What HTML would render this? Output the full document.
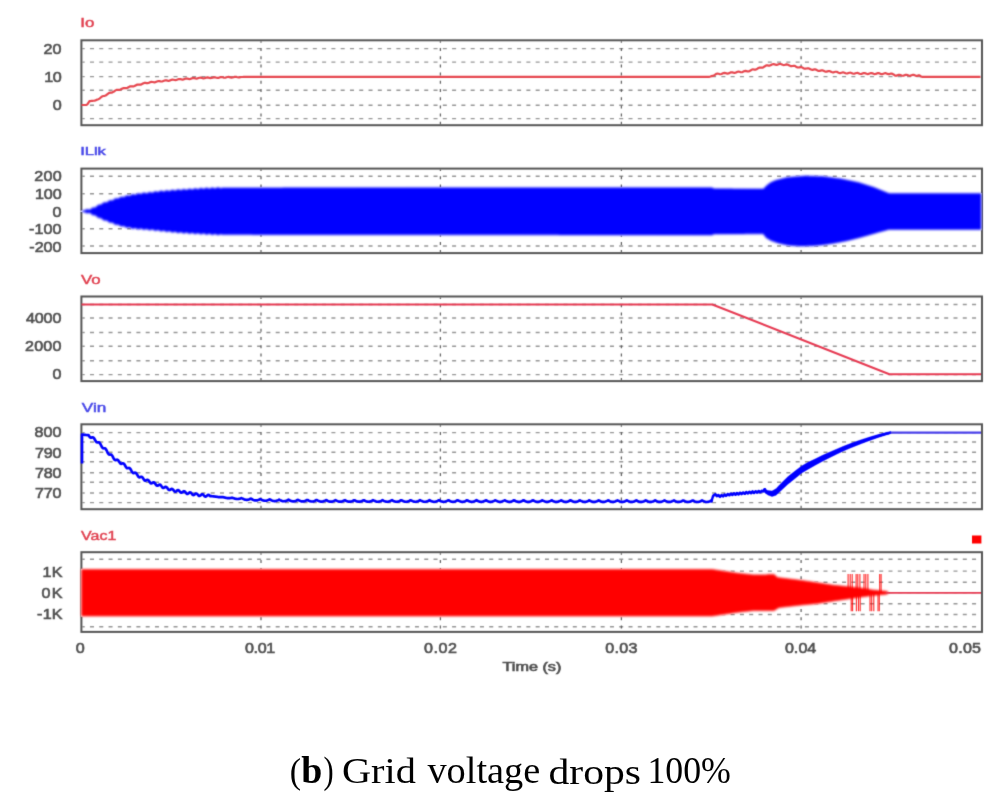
<!DOCTYPE html>
<html><head><meta charset="utf-8"><title>Grid voltage drops 100%</title>
<style>html,body{margin:0;padding:0;background:#fff;}body{width:1007px;height:803px;position:relative;overflow:hidden;font-family:"Liberation Sans",sans-serif;}</style>
</head><body>
<svg width="1007" height="803" viewBox="0 0 1007 803" style="position:absolute;left:0;top:0">
<defs><filter id="soft" filterUnits="userSpaceOnUse" x="0" y="0" width="1007" height="803" color-interpolation-filters="sRGB"><feConvolveMatrix order="3" kernelMatrix="0.01917 0.10012 0.01917 0.10012 0.52283 0.10012 0.01917 0.10012 0.01917" divisor="1" edgeMode="duplicate"/></filter><filter id="soft3" filterUnits="userSpaceOnUse" x="0" y="0" width="1007" height="803" color-interpolation-filters="sRGB"><feGaussianBlur stdDeviation="0.8"/></filter><filter id="soft2" filterUnits="userSpaceOnUse" x="0" y="700" width="1007" height="103" color-interpolation-filters="sRGB"><feConvolveMatrix order="3" kernelMatrix="0.00001 0.00381 0.00001 0.00381 0.98471 0.00381 0.00001 0.00381 0.00001" divisor="1" edgeMode="duplicate"/></filter></defs>
<g filter="url(#soft)">
<rect x="0" y="0" width="1007" height="803" fill="#fff"/>
<line x1="82.4" y1="48.60" x2="981.0" y2="48.60" stroke="#969696" stroke-width="1.4" stroke-dasharray="4 5.285" stroke-dashoffset="1.7"/>
<line x1="82.4" y1="62.10" x2="981.0" y2="62.10" stroke="#969696" stroke-width="1.4" stroke-dasharray="4 5.285" stroke-dashoffset="1.7"/>
<line x1="82.4" y1="76.60" x2="981.0" y2="76.60" stroke="#969696" stroke-width="1.4" stroke-dasharray="4 5.285" stroke-dashoffset="1.7"/>
<line x1="82.4" y1="90.20" x2="981.0" y2="90.20" stroke="#969696" stroke-width="1.4" stroke-dasharray="4 5.285" stroke-dashoffset="1.7"/>
<line x1="82.4" y1="105.20" x2="981.0" y2="105.20" stroke="#969696" stroke-width="1.4" stroke-dasharray="4 5.285" stroke-dashoffset="1.7"/>
<line x1="82.4" y1="118.60" x2="981.0" y2="118.60" stroke="#969696" stroke-width="1.4" stroke-dasharray="4 5.285" stroke-dashoffset="1.7"/>
<line x1="261.0" y1="41.3" x2="261.0" y2="124.2" stroke="#606060" stroke-width="1.25" stroke-dasharray="3 5.2" stroke-dashoffset="1.5"/>
<line x1="440.4" y1="41.3" x2="440.4" y2="124.2" stroke="#606060" stroke-width="1.25" stroke-dasharray="3 5.2" stroke-dashoffset="1.5"/>
<line x1="621.4" y1="41.3" x2="621.4" y2="124.2" stroke="#606060" stroke-width="1.25" stroke-dasharray="3 5.2" stroke-dashoffset="1.5"/>
<line x1="801.1" y1="41.3" x2="801.1" y2="124.2" stroke="#606060" stroke-width="1.25" stroke-dasharray="3 5.2" stroke-dashoffset="1.5"/>
<line x1="82.4" y1="176.20" x2="981.0" y2="176.20" stroke="#969696" stroke-width="1.4" stroke-dasharray="4 5.285" stroke-dashoffset="1.7"/>
<line x1="82.4" y1="193.80" x2="981.0" y2="193.80" stroke="#969696" stroke-width="1.4" stroke-dasharray="4 5.285" stroke-dashoffset="1.7"/>
<line x1="82.4" y1="211.20" x2="981.0" y2="211.20" stroke="#969696" stroke-width="1.4" stroke-dasharray="4 5.285" stroke-dashoffset="1.7"/>
<line x1="82.4" y1="228.80" x2="981.0" y2="228.80" stroke="#969696" stroke-width="1.4" stroke-dasharray="4 5.285" stroke-dashoffset="1.7"/>
<line x1="82.4" y1="246.00" x2="981.0" y2="246.00" stroke="#969696" stroke-width="1.4" stroke-dasharray="4 5.285" stroke-dashoffset="1.7"/>
<line x1="261.0" y1="169.6" x2="261.0" y2="252.1" stroke="#606060" stroke-width="1.25" stroke-dasharray="3 5.2" stroke-dashoffset="1.5"/>
<line x1="440.4" y1="169.6" x2="440.4" y2="252.1" stroke="#606060" stroke-width="1.25" stroke-dasharray="3 5.2" stroke-dashoffset="1.5"/>
<line x1="621.4" y1="169.6" x2="621.4" y2="252.1" stroke="#606060" stroke-width="1.25" stroke-dasharray="3 5.2" stroke-dashoffset="1.5"/>
<line x1="801.1" y1="169.6" x2="801.1" y2="252.1" stroke="#606060" stroke-width="1.25" stroke-dasharray="3 5.2" stroke-dashoffset="1.5"/>
<line x1="82.4" y1="304.50" x2="981.0" y2="304.50" stroke="#969696" stroke-width="1.4" stroke-dasharray="4 5.285" stroke-dashoffset="1.7"/>
<line x1="82.4" y1="318.00" x2="981.0" y2="318.00" stroke="#969696" stroke-width="1.4" stroke-dasharray="4 5.285" stroke-dashoffset="1.7"/>
<line x1="82.4" y1="332.50" x2="981.0" y2="332.50" stroke="#969696" stroke-width="1.4" stroke-dasharray="4 5.285" stroke-dashoffset="1.7"/>
<line x1="82.4" y1="346.30" x2="981.0" y2="346.30" stroke="#969696" stroke-width="1.4" stroke-dasharray="4 5.285" stroke-dashoffset="1.7"/>
<line x1="82.4" y1="360.80" x2="981.0" y2="360.80" stroke="#969696" stroke-width="1.4" stroke-dasharray="4 5.285" stroke-dashoffset="1.7"/>
<line x1="82.4" y1="374.60" x2="981.0" y2="374.60" stroke="#969696" stroke-width="1.4" stroke-dasharray="4 5.285" stroke-dashoffset="1.7"/>
<line x1="261.0" y1="297.5" x2="261.0" y2="380.1" stroke="#606060" stroke-width="1.25" stroke-dasharray="3 5.2" stroke-dashoffset="1.5"/>
<line x1="440.4" y1="297.5" x2="440.4" y2="380.1" stroke="#606060" stroke-width="1.25" stroke-dasharray="3 5.2" stroke-dashoffset="1.5"/>
<line x1="621.4" y1="297.5" x2="621.4" y2="380.1" stroke="#606060" stroke-width="1.25" stroke-dasharray="3 5.2" stroke-dashoffset="1.5"/>
<line x1="801.1" y1="297.5" x2="801.1" y2="380.1" stroke="#606060" stroke-width="1.25" stroke-dasharray="3 5.2" stroke-dashoffset="1.5"/>
<line x1="82.4" y1="432.60" x2="981.0" y2="432.60" stroke="#969696" stroke-width="1.4" stroke-dasharray="4 5.285" stroke-dashoffset="1.7"/>
<line x1="82.4" y1="442.00" x2="981.0" y2="442.00" stroke="#969696" stroke-width="1.4" stroke-dasharray="4 5.285" stroke-dashoffset="1.7"/>
<line x1="82.4" y1="452.30" x2="981.0" y2="452.30" stroke="#969696" stroke-width="1.4" stroke-dasharray="4 5.285" stroke-dashoffset="1.7"/>
<line x1="82.4" y1="461.80" x2="981.0" y2="461.80" stroke="#969696" stroke-width="1.4" stroke-dasharray="4 5.285" stroke-dashoffset="1.7"/>
<line x1="82.4" y1="472.80" x2="981.0" y2="472.80" stroke="#969696" stroke-width="1.4" stroke-dasharray="4 5.285" stroke-dashoffset="1.7"/>
<line x1="82.4" y1="482.20" x2="981.0" y2="482.20" stroke="#969696" stroke-width="1.4" stroke-dasharray="4 5.285" stroke-dashoffset="1.7"/>
<line x1="82.4" y1="493.00" x2="981.0" y2="493.00" stroke="#969696" stroke-width="1.4" stroke-dasharray="4 5.285" stroke-dashoffset="1.7"/>
<line x1="82.4" y1="502.60" x2="981.0" y2="502.60" stroke="#969696" stroke-width="1.4" stroke-dasharray="4 5.285" stroke-dashoffset="1.7"/>
<line x1="261.0" y1="425.3" x2="261.0" y2="508.2" stroke="#606060" stroke-width="1.25" stroke-dasharray="3 5.2" stroke-dashoffset="1.5"/>
<line x1="440.4" y1="425.3" x2="440.4" y2="508.2" stroke="#606060" stroke-width="1.25" stroke-dasharray="3 5.2" stroke-dashoffset="1.5"/>
<line x1="621.4" y1="425.3" x2="621.4" y2="508.2" stroke="#606060" stroke-width="1.25" stroke-dasharray="3 5.2" stroke-dashoffset="1.5"/>
<line x1="801.1" y1="425.3" x2="801.1" y2="508.2" stroke="#606060" stroke-width="1.25" stroke-dasharray="3 5.2" stroke-dashoffset="1.5"/>
<line x1="82.4" y1="559.20" x2="981.0" y2="559.20" stroke="#969696" stroke-width="1.4" stroke-dasharray="4 5.285" stroke-dashoffset="1.7"/>
<line x1="82.4" y1="571.10" x2="981.0" y2="571.10" stroke="#969696" stroke-width="1.4" stroke-dasharray="4 5.285" stroke-dashoffset="1.7"/>
<line x1="82.4" y1="582.20" x2="981.0" y2="582.20" stroke="#969696" stroke-width="1.4" stroke-dasharray="4 5.285" stroke-dashoffset="1.7"/>
<line x1="82.4" y1="592.60" x2="981.0" y2="592.60" stroke="#969696" stroke-width="1.4" stroke-dasharray="4 5.285" stroke-dashoffset="1.7"/>
<line x1="82.4" y1="603.80" x2="981.0" y2="603.80" stroke="#969696" stroke-width="1.4" stroke-dasharray="4 5.285" stroke-dashoffset="1.7"/>
<line x1="82.4" y1="614.50" x2="981.0" y2="614.50" stroke="#969696" stroke-width="1.4" stroke-dasharray="4 5.285" stroke-dashoffset="1.7"/>
<line x1="82.4" y1="626.80" x2="981.0" y2="626.80" stroke="#969696" stroke-width="1.4" stroke-dasharray="4 5.285" stroke-dashoffset="1.7"/>
<line x1="261.0" y1="553.2" x2="261.0" y2="630.9" stroke="#606060" stroke-width="1.25" stroke-dasharray="3 5.2" stroke-dashoffset="1.5"/>
<line x1="440.4" y1="553.2" x2="440.4" y2="630.9" stroke="#606060" stroke-width="1.25" stroke-dasharray="3 5.2" stroke-dashoffset="1.5"/>
<line x1="621.4" y1="553.2" x2="621.4" y2="630.9" stroke="#606060" stroke-width="1.25" stroke-dasharray="3 5.2" stroke-dashoffset="1.5"/>
<line x1="801.1" y1="553.2" x2="801.1" y2="630.9" stroke="#606060" stroke-width="1.25" stroke-dasharray="3 5.2" stroke-dashoffset="1.5"/>
<rect x="81.4" y="40.3" width="900.6" height="84.9" fill="none" stroke="#555" stroke-width="2"/>
<rect x="81.4" y="168.6" width="900.6" height="84.5" fill="none" stroke="#555" stroke-width="2"/>
<rect x="81.4" y="296.5" width="900.6" height="84.6" fill="none" stroke="#555" stroke-width="2"/>
<rect x="81.4" y="424.3" width="900.6" height="84.9" fill="none" stroke="#555" stroke-width="2"/>
<rect x="81.4" y="552.2" width="900.6" height="79.7" fill="none" stroke="#555" stroke-width="2"/>
<polyline points="81.50,105.00 82.50,105.00 83.50,105.00 84.50,105.00 85.50,105.00 86.50,105.00 87.50,104.21 88.50,102.62 89.50,101.19 90.50,101.07 91.50,100.95 92.50,100.84 93.50,100.72 94.50,100.61 95.50,100.45 96.50,99.90 97.50,99.53 98.50,99.19 99.50,98.57 100.50,97.71 101.50,96.85 102.50,96.26 103.50,95.98 104.50,95.82 105.50,95.54 106.50,94.96 107.50,94.15 108.50,93.34 109.50,92.82 110.50,92.62 111.50,92.55 112.50,92.34 113.50,91.85 114.50,91.12 115.50,90.39 116.50,89.89 117.50,89.83 118.50,89.94 119.50,89.91 120.50,89.58 121.50,89.02 122.50,88.45 123.50,88.11 124.50,88.08 125.50,88.17 126.50,88.13 127.50,87.79 128.50,87.23 129.50,86.66 130.50,86.32 131.50,86.28 132.50,86.38 133.50,86.35 134.50,86.03 135.50,85.48 136.50,84.92 137.50,84.60 138.50,84.58 139.50,84.69 140.50,84.66 141.50,84.35 142.50,83.79 143.50,83.24 144.50,82.92 145.50,82.90 146.50,83.09 147.50,83.18 148.50,82.98 149.50,82.54 150.50,82.10 151.50,81.90 152.50,82.00 153.50,82.22 154.50,82.31 155.50,82.11 156.50,81.67 157.50,81.24 158.50,81.03 159.50,81.15 160.50,81.39 161.50,81.51 162.50,81.33 163.50,80.92 164.50,80.50 165.50,80.32 166.50,80.44 167.50,80.69 168.50,80.80 169.50,80.62 170.50,80.21 171.50,79.80 172.50,79.63 173.50,79.76 174.50,80.03 175.50,80.16 176.50,79.99 177.50,79.60 178.50,79.20 179.50,79.04 180.50,79.17 181.50,79.43 182.50,79.56 183.50,79.40 184.50,79.00 185.50,78.62 186.50,78.47 187.50,78.62 188.50,78.89 189.50,79.04 190.50,78.89 191.50,78.51 192.50,78.13 193.50,77.98 194.50,78.13 195.50,78.41 196.50,78.55 197.50,78.41 198.50,78.07 199.50,77.73 200.50,77.63 201.50,77.82 202.50,78.14 203.50,78.32 204.50,78.22 205.50,77.88 206.50,77.54 207.50,77.44 208.50,77.63 209.50,77.95 210.50,78.13 211.50,78.03 212.50,77.69 213.50,77.35 214.50,77.25 215.50,77.44 216.50,77.76 217.50,77.94 218.50,77.84 219.50,77.50 220.50,77.16 221.50,77.06 222.50,77.25 223.50,77.57 224.50,77.76 225.50,77.66 226.50,77.33 227.50,77.00 228.50,76.90 229.50,77.09 230.50,77.42 231.50,77.61 232.50,77.51 233.50,77.18 234.50,76.85 235.50,76.75 236.50,76.94 237.50,77.27 238.50,77.46 239.50,77.37 240.50,77.03 241.50,77.01 242.50,76.99 243.50,76.97 244.50,76.95 245.50,76.92 246.50,76.90 247.50,76.88 248.50,76.86 249.50,76.85 250.50,76.85 251.50,76.85 252.50,76.85 253.50,76.85 254.50,76.85 255.50,76.85 256.50,76.85 257.50,76.85 258.50,76.85 259.50,76.85 260.50,76.85 261.50,76.85 262.50,76.85 263.50,76.85 264.50,76.85 265.50,76.85 266.50,76.85 267.50,76.85 268.50,76.85 269.50,76.85 270.50,76.85 271.50,76.85 272.50,76.85 273.50,76.85 274.50,76.85 275.50,76.85 276.50,76.85 277.50,76.85 278.50,76.85 279.50,76.85 280.50,76.85 281.50,76.85 282.50,76.85 283.50,76.85 284.50,76.85 285.50,76.85 286.50,76.85 287.50,76.85 288.50,76.85 289.50,76.85 290.50,76.85 291.50,76.85 292.50,76.85 293.50,76.85 294.50,76.85 295.50,76.84 296.50,76.84 297.50,76.84 298.50,76.84 299.50,76.84 300.50,76.84 301.50,76.84 302.50,76.84 303.50,76.84 304.50,76.84 305.50,76.84 306.50,76.84 307.50,76.84 308.50,76.84 309.50,76.84 310.50,76.84 311.50,76.84 312.50,76.84 313.50,76.84 314.50,76.84 315.50,76.84 316.50,76.84 317.50,76.84 318.50,76.84 319.50,76.84 320.50,76.84 321.50,76.84 322.50,76.84 323.50,76.84 324.50,76.84 325.50,76.84 326.50,76.84 327.50,76.84 328.50,76.84 329.50,76.84 330.50,76.84 331.50,76.84 332.50,76.84 333.50,76.84 334.50,76.84 335.50,76.84 336.50,76.84 337.50,76.84 338.50,76.84 339.50,76.84 340.50,76.84 341.50,76.84 342.50,76.84 343.50,76.84 344.50,76.84 345.50,76.84 346.50,76.84 347.50,76.84 348.50,76.84 349.50,76.84 350.50,76.84 351.50,76.84 352.50,76.84 353.50,76.84 354.50,76.84 355.50,76.84 356.50,76.84 357.50,76.84 358.50,76.84 359.50,76.84 360.50,76.84 361.50,76.84 362.50,76.84 363.50,76.84 364.50,76.84 365.50,76.84 366.50,76.84 367.50,76.84 368.50,76.84 369.50,76.84 370.50,76.84 371.50,76.84 372.50,76.84 373.50,76.84 374.50,76.84 375.50,76.84 376.50,76.84 377.50,76.84 378.50,76.84 379.50,76.84 380.50,76.84 381.50,76.84 382.50,76.84 383.50,76.84 384.50,76.84 385.50,76.84 386.50,76.84 387.50,76.83 388.50,76.83 389.50,76.83 390.50,76.83 391.50,76.83 392.50,76.83 393.50,76.83 394.50,76.83 395.50,76.83 396.50,76.83 397.50,76.83 398.50,76.83 399.50,76.83 400.50,76.83 401.50,76.83 402.50,76.83 403.50,76.83 404.50,76.83 405.50,76.83 406.50,76.83 407.50,76.83 408.50,76.83 409.50,76.83 410.50,76.83 411.50,76.83 412.50,76.83 413.50,76.83 414.50,76.83 415.50,76.83 416.50,76.83 417.50,76.83 418.50,76.83 419.50,76.83 420.50,76.83 421.50,76.83 422.50,76.83 423.50,76.83 424.50,76.83 425.50,76.83 426.50,76.83 427.50,76.83 428.50,76.83 429.50,76.83 430.50,76.83 431.50,76.83 432.50,76.83 433.50,76.83 434.50,76.83 435.50,76.83 436.50,76.83 437.50,76.83 438.50,76.83 439.50,76.83 440.50,76.83 441.50,76.83 442.50,76.83 443.50,76.83 444.50,76.83 445.50,76.83 446.50,76.83 447.50,76.83 448.50,76.83 449.50,76.83 450.50,76.83 451.50,76.83 452.50,76.83 453.50,76.83 454.50,76.83 455.50,76.83 456.50,76.83 457.50,76.83 458.50,76.83 459.50,76.83 460.50,76.83 461.50,76.83 462.50,76.83 463.50,76.83 464.50,76.83 465.50,76.83 466.50,76.83 467.50,76.83 468.50,76.83 469.50,76.83 470.50,76.83 471.50,76.83 472.50,76.83 473.50,76.83 474.50,76.83 475.50,76.83 476.50,76.83 477.50,76.83 478.50,76.83 479.50,76.82 480.50,76.82 481.50,76.82 482.50,76.82 483.50,76.82 484.50,76.82 485.50,76.82 486.50,76.82 487.50,76.82 488.50,76.82 489.50,76.82 490.50,76.82 491.50,76.82 492.50,76.82 493.50,76.82 494.50,76.82 495.50,76.82 496.50,76.82 497.50,76.82 498.50,76.82 499.50,76.82 500.50,76.82 501.50,76.82 502.50,76.82 503.50,76.82 504.50,76.82 505.50,76.82 506.50,76.82 507.50,76.82 508.50,76.82 509.50,76.82 510.50,76.82 511.50,76.82 512.50,76.82 513.50,76.82 514.50,76.82 515.50,76.82 516.50,76.82 517.50,76.82 518.50,76.82 519.50,76.82 520.50,76.82 521.50,76.82 522.50,76.82 523.50,76.82 524.50,76.82 525.50,76.82 526.50,76.82 527.50,76.82 528.50,76.82 529.50,76.82 530.50,76.82 531.50,76.82 532.50,76.82 533.50,76.82 534.50,76.82 535.50,76.82 536.50,76.82 537.50,76.82 538.50,76.82 539.50,76.82 540.50,76.82 541.50,76.82 542.50,76.82 543.50,76.82 544.50,76.82 545.50,76.82 546.50,76.82 547.50,76.82 548.50,76.82 549.50,76.82 550.50,76.82 551.50,76.82 552.50,76.82 553.50,76.82 554.50,76.82 555.50,76.82 556.50,76.82 557.50,76.82 558.50,76.82 559.50,76.82 560.50,76.82 561.50,76.82 562.50,76.82 563.50,76.82 564.50,76.82 565.50,76.82 566.50,76.82 567.50,76.82 568.50,76.82 569.50,76.82 570.50,76.82 571.50,76.82 572.50,76.81 573.50,76.81 574.50,76.81 575.50,76.81 576.50,76.81 577.50,76.81 578.50,76.81 579.50,76.81 580.50,76.81 581.50,76.81 582.50,76.81 583.50,76.81 584.50,76.81 585.50,76.81 586.50,76.81 587.50,76.81 588.50,76.81 589.50,76.81 590.50,76.81 591.50,76.81 592.50,76.81 593.50,76.81 594.50,76.81 595.50,76.81 596.50,76.81 597.50,76.81 598.50,76.81 599.50,76.81 600.50,76.81 601.50,76.81 602.50,76.81 603.50,76.81 604.50,76.81 605.50,76.81 606.50,76.81 607.50,76.81 608.50,76.81 609.50,76.81 610.50,76.81 611.50,76.81 612.50,76.81 613.50,76.81 614.50,76.81 615.50,76.81 616.50,76.81 617.50,76.81 618.50,76.81 619.50,76.81 620.50,76.81 621.50,76.81 622.50,76.81 623.50,76.81 624.50,76.81 625.50,76.81 626.50,76.81 627.50,76.81 628.50,76.81 629.50,76.81 630.50,76.81 631.50,76.81 632.50,76.81 633.50,76.81 634.50,76.81 635.50,76.81 636.50,76.81 637.50,76.81 638.50,76.81 639.50,76.81 640.50,76.81 641.50,76.81 642.50,76.81 643.50,76.81 644.50,76.81 645.50,76.81 646.50,76.81 647.50,76.81 648.50,76.81 649.50,76.81 650.50,76.81 651.50,76.81 652.50,76.81 653.50,76.81 654.50,76.81 655.50,76.81 656.50,76.81 657.50,76.81 658.50,76.81 659.50,76.81 660.50,76.81 661.50,76.81 662.50,76.81 663.50,76.81 664.50,76.80 665.50,76.80 666.50,76.80 667.50,76.80 668.50,76.80 669.50,76.80 670.50,76.80 671.50,76.80 672.50,76.80 673.50,76.80 674.50,76.80 675.50,76.80 676.50,76.80 677.50,76.80 678.50,76.80 679.50,76.80 680.50,76.80 681.50,76.80 682.50,76.80 683.50,76.80 684.50,76.80 685.50,76.80 686.50,76.80 687.50,76.80 688.50,76.80 689.50,76.80 690.50,76.80 691.50,76.80 692.50,76.80 693.50,76.80 694.50,76.80 695.50,76.80 696.50,76.80 697.50,76.80 698.50,76.80 699.50,76.80 700.50,76.80 701.50,76.80 702.50,76.80 703.50,76.80 704.50,76.80 705.50,76.80 706.50,76.80 707.50,76.80 708.50,76.80 709.50,76.80 710.50,76.52 711.50,76.11 712.50,75.92 713.50,75.77 714.50,75.24 715.50,74.42 716.50,73.76 717.50,73.56 718.50,73.73 719.50,74.07 720.50,74.24 721.50,74.04 722.50,73.55 723.50,73.07 724.50,72.88 725.50,73.06 726.50,73.40 727.50,73.58 728.50,73.39 729.50,72.91 730.50,72.42 731.50,72.24 732.50,72.41 733.50,72.76 734.50,72.93 735.50,72.74 736.50,72.26 737.50,71.77 738.50,71.58 739.50,71.76 740.50,72.10 741.50,72.27 742.50,72.08 743.50,71.60 744.50,71.11 745.50,70.92 746.50,71.10 747.50,71.44 748.50,71.48 749.50,71.12 750.50,70.47 751.50,69.82 752.50,69.46 753.50,69.47 754.50,69.65 755.50,69.66 756.50,69.30 757.50,68.65 758.50,68.00 759.50,67.64 760.50,67.59 761.50,67.69 762.50,67.64 763.50,67.21 764.50,66.49 765.50,65.77 766.50,65.39 767.50,65.43 768.50,65.63 769.50,65.66 770.50,65.33 771.50,64.70 772.50,64.25 773.50,64.09 774.50,64.30 775.50,64.67 776.50,64.88 777.50,64.72 778.50,64.33 779.50,63.99 780.50,63.94 781.50,64.26 782.50,64.75 783.50,65.07 784.50,65.02 785.50,64.68 786.50,64.44 787.50,64.54 788.50,65.00 789.50,65.62 790.50,66.08 791.50,66.17 792.50,65.97 793.50,65.77 794.50,65.87 795.50,66.33 796.50,66.95 797.50,67.41 798.50,67.51 799.50,67.30 800.50,67.09 801.50,67.16 802.50,67.59 803.50,68.19 804.50,68.62 805.50,68.69 806.50,68.46 807.50,68.23 808.50,68.30 809.50,68.73 810.50,69.33 811.50,69.76 812.50,69.83 813.50,69.60 814.50,69.37 815.50,69.44 816.50,69.88 817.50,70.47 818.50,70.91 819.50,70.94 820.50,70.65 821.50,70.36 822.50,70.36 823.50,70.73 824.50,71.27 825.50,71.64 826.50,71.64 827.50,71.35 828.50,71.06 829.50,71.06 830.50,71.43 831.50,71.97 832.50,72.34 833.50,72.34 834.50,72.05 835.50,71.76 836.50,71.76 837.50,72.13 838.50,72.67 839.50,73.04 840.50,73.04 841.50,72.75 842.50,72.46 843.50,72.43 844.50,72.74 845.50,73.21 846.50,73.51 847.50,73.45 848.50,73.09 849.50,72.74 850.50,72.68 851.50,72.98 852.50,73.45 853.50,73.76 854.50,73.70 855.50,73.34 856.50,72.99 857.50,72.92 858.50,73.23 859.50,73.70 860.50,73.99 861.50,73.90 862.50,73.52 863.50,73.13 864.50,73.04 865.50,73.32 866.50,73.76 867.50,74.04 868.50,73.95 869.50,73.56 870.50,73.18 871.50,73.09 872.50,73.36 873.50,73.80 874.50,74.08 875.50,73.99 876.50,73.61 877.50,73.22 878.50,73.13 879.50,73.41 880.50,73.85 881.50,74.13 882.50,74.04 883.50,73.65 884.50,73.27 885.50,73.18 886.50,73.46 887.50,73.90 888.50,74.17 889.50,74.08 890.50,73.70 891.50,73.59 892.50,73.84 893.50,74.46 894.50,75.24 895.50,75.69 896.50,75.60 897.50,75.22 898.50,74.84 899.50,74.75 900.50,75.03 901.50,75.47 902.50,75.75 903.50,75.66 904.50,75.28 905.50,74.90 906.50,74.81 907.50,75.09 908.50,75.53 909.50,75.81 910.50,75.72 911.50,75.34 912.50,74.95 913.50,74.87 914.50,75.15 915.50,75.59 916.50,75.87 917.50,75.78 918.50,75.40 919.50,75.28 920.50,76.21 921.50,76.75 922.50,76.80 923.50,76.80 924.50,76.80 925.50,76.80 926.50,76.80 927.50,76.80 928.50,76.80 929.50,76.80 930.50,76.80 931.50,76.80 932.50,76.80 933.50,76.80 934.50,76.80 935.50,76.80 936.50,76.80 937.50,76.80 938.50,76.80 939.50,76.80 940.50,76.80 941.50,76.80 942.50,76.80 943.50,76.80 944.50,76.80 945.50,76.80 946.50,76.80 947.50,76.80 948.50,76.80 949.50,76.80 950.50,76.80 951.50,76.80 952.50,76.80 953.50,76.80 954.50,76.80 955.50,76.80 956.50,76.80 957.50,76.80 958.50,76.80 959.50,76.80 960.50,76.80 961.50,76.80 962.50,76.80 963.50,76.80 964.50,76.80 965.50,76.80 966.50,76.80 967.50,76.80 968.50,76.80 969.50,76.80 970.50,76.80 971.50,76.80 972.50,76.80 973.50,76.80 974.50,76.80 975.50,76.80 976.50,76.80 977.50,76.80 978.50,76.80 979.50,76.80 980.50,76.80" fill="none" stroke="#e6474f" stroke-width="2.2" stroke-linejoin="round"/>
<polygon points="81.50,211.20 82.00,211.07 82.50,210.93 83.00,210.80 83.50,210.67 84.00,210.53 84.50,210.40 85.00,210.27 85.50,210.13 86.00,210.00 86.50,209.47 87.00,209.31 87.50,209.45 88.00,209.58 88.50,209.72 89.00,209.86 89.50,209.99 90.00,209.87 90.50,209.46 91.00,209.04 91.50,208.63 92.00,208.21 92.50,207.80 93.00,207.76 93.50,207.76 94.00,207.76 94.50,207.72 95.00,207.67 95.50,207.55 96.00,207.08 96.50,206.62 97.00,206.16 97.50,205.69 98.00,205.23 98.50,204.98 99.00,204.93 99.50,204.89 100.00,204.85 100.50,204.81 101.00,204.76 101.50,204.38 102.00,203.95 102.50,203.57 103.00,203.18 103.50,202.79 104.00,202.45 104.50,202.49 105.00,202.52 105.50,202.56 106.00,202.59 106.50,202.63 107.00,202.50 107.50,202.11 108.00,201.72 108.50,201.34 109.00,200.95 109.50,200.57 110.00,200.48 110.50,200.52 111.00,200.56 111.50,200.60 112.00,200.64 112.50,200.68 113.00,200.30 113.50,199.91 114.00,199.53 114.50,199.15 115.00,198.77 115.50,198.52 116.00,198.55 116.50,198.59 117.00,198.63 117.50,198.67 118.00,198.74 118.50,198.57 119.00,198.24 119.50,197.90 120.00,197.57 120.50,197.23 121.00,196.90 121.50,196.94 122.00,197.03 122.50,197.11 123.00,197.20 123.50,197.28 124.00,197.28 124.50,196.95 125.00,196.61 125.50,196.28 126.00,195.96 126.50,195.64 127.00,195.54 127.50,195.65 128.00,195.76 128.50,195.87 129.00,195.98 129.50,196.09 130.00,195.86 130.50,195.55 131.00,195.24 131.50,194.93 132.00,194.61 132.50,194.34 133.00,194.45 133.50,194.56 134.00,194.69 134.50,194.83 135.00,194.96 135.50,194.93 136.00,194.64 136.50,194.35 137.00,194.07 137.50,193.78 138.00,193.49 138.50,193.50 139.00,193.64 139.50,193.77 140.00,193.91 140.50,194.04 141.00,194.18 141.50,193.89 142.00,193.63 142.50,193.37 143.00,193.12 143.50,192.86 144.00,192.73 144.50,192.89 145.00,193.05 145.50,193.22 146.00,193.38 146.50,193.55 147.00,193.46 147.50,193.20 148.00,192.94 148.50,192.68 149.00,192.43 149.50,192.17 150.00,192.29 150.50,192.43 151.00,192.58 151.50,192.72 152.00,192.87 152.50,192.93 153.00,192.65 153.50,192.38 154.00,192.10 154.50,191.82 155.00,191.55 155.50,191.48 156.00,191.63 156.50,191.77 157.00,191.92 157.50,192.06 158.00,192.21 158.50,192.02 159.00,191.74 159.50,191.46 160.00,191.19 160.50,190.95 161.00,190.74 161.50,190.92 162.00,191.10 162.50,191.27 163.00,191.45 163.50,191.62 164.00,191.63 164.50,191.38 165.00,191.14 165.50,190.89 166.00,190.65 166.50,190.40 167.00,190.45 167.50,190.63 168.00,190.80 168.50,190.98 169.00,191.15 169.50,191.33 170.00,191.08 170.50,190.83 171.00,190.58 171.50,190.33 172.00,190.08 172.50,189.95 173.00,190.12 173.50,190.29 174.00,190.46 174.50,190.63 175.00,190.80 175.50,190.72 176.00,190.47 176.50,190.22 177.00,189.97 177.50,189.72 178.00,189.47 178.50,189.59 179.00,189.76 179.50,189.93 180.00,190.11 180.50,190.30 181.00,190.40 181.50,190.16 182.00,189.93 182.50,189.69 183.00,189.45 183.50,189.22 184.00,189.19 184.50,189.38 185.00,189.56 185.50,189.75 186.00,189.93 186.50,190.12 187.00,189.97 187.50,189.73 188.00,189.50 188.50,189.26 189.00,189.02 189.50,188.83 190.00,189.01 190.50,189.19 191.00,189.36 191.50,189.54 192.00,189.71 192.50,189.72 193.00,189.47 193.50,189.23 194.00,188.98 194.50,188.74 195.00,188.49 195.50,188.54 196.00,188.72 196.50,188.89 197.00,189.07 197.50,189.24 198.00,189.42 198.50,189.17 199.00,188.93 199.50,188.68 200.00,188.45 200.50,188.22 201.00,188.11 201.50,188.30 202.00,188.49 202.50,188.68 203.00,188.87 203.50,189.06 204.00,189.00 204.50,188.77 205.00,188.54 205.50,188.31 206.00,188.08 206.50,187.85 207.00,187.99 207.50,188.18 208.00,188.38 208.50,188.57 209.00,188.76 209.50,188.86 210.00,188.63 210.50,188.41 211.00,188.18 211.50,187.95 212.00,187.72 212.50,187.71 213.00,187.90 213.50,188.10 214.00,188.29 214.50,188.48 215.00,188.68 215.50,188.53 216.00,188.31 216.50,188.08 217.00,187.85 217.50,187.62 218.00,187.44 218.50,187.63 219.00,187.83 219.50,188.02 220.00,188.21 220.50,188.41 221.00,188.43 221.50,188.21 222.00,187.90 222.50,187.90 223.00,187.90 223.50,187.90 224.00,187.90 224.50,187.90 225.00,187.90 225.50,187.90 226.00,187.90 226.50,187.90 227.00,187.90 227.50,187.90 228.00,187.90 228.50,187.90 229.00,187.90 229.50,187.90 230.00,187.90 230.50,187.90 231.00,187.90 231.50,187.90 232.00,187.90 232.50,187.90 233.00,187.90 233.50,187.90 234.00,187.89 234.50,187.89 235.00,187.89 235.50,187.89 236.00,187.89 236.50,187.89 237.00,187.89 237.50,187.89 238.00,187.89 238.50,187.89 239.00,187.89 239.50,187.89 240.00,187.89 240.50,187.89 241.00,187.89 241.50,187.89 242.00,187.89 242.50,187.89 243.00,187.89 243.50,187.89 244.00,187.89 244.50,187.89 245.00,187.89 245.50,187.89 246.00,187.89 246.50,187.89 247.00,187.89 247.50,187.89 248.00,187.89 248.50,187.89 249.00,187.89 249.50,187.89 250.00,187.89 250.50,187.89 251.00,187.89 251.50,187.89 252.00,187.89 252.50,187.89 253.00,187.89 253.50,187.89 254.00,187.89 254.50,187.89 255.00,187.89 255.50,187.89 256.00,187.89 256.50,187.89 257.00,187.89 257.50,187.89 258.00,187.89 258.50,187.88 259.00,187.88 259.50,187.88 260.00,187.88 260.50,187.88 261.00,187.88 261.50,187.88 262.00,187.88 262.50,187.88 263.00,187.88 263.50,187.88 264.00,187.88 264.50,187.88 265.00,187.88 265.50,187.88 266.00,187.88 266.50,187.88 267.00,187.88 267.50,187.88 268.00,187.88 268.50,187.88 269.00,187.88 269.50,187.88 270.00,187.88 270.50,187.88 271.00,187.88 271.50,187.88 272.00,187.88 272.50,187.88 273.00,187.88 273.50,187.88 274.00,187.88 274.50,187.88 275.00,187.88 275.50,187.88 276.00,187.88 276.50,187.88 277.00,187.88 277.50,187.88 278.00,187.88 278.50,187.88 279.00,187.88 279.50,187.88 280.00,187.88 280.50,187.88 281.00,187.88 281.50,187.88 282.00,187.88 282.50,187.88 283.00,187.87 283.50,187.87 284.00,187.87 284.50,187.87 285.00,187.87 285.50,187.87 286.00,187.87 286.50,187.87 287.00,187.87 287.50,187.87 288.00,187.87 288.50,187.87 289.00,187.87 289.50,187.87 290.00,187.87 290.50,187.87 291.00,187.87 291.50,187.87 292.00,187.87 292.50,187.87 293.00,187.87 293.50,187.87 294.00,187.87 294.50,187.87 295.00,187.87 295.50,187.87 296.00,187.87 296.50,187.87 297.00,187.87 297.50,187.87 298.00,187.87 298.50,187.87 299.00,187.87 299.50,187.87 300.00,187.87 300.50,187.87 301.00,187.87 301.50,187.87 302.00,187.87 302.50,187.87 303.00,187.87 303.50,187.87 304.00,187.87 304.50,187.87 305.00,187.87 305.50,187.87 306.00,187.87 306.50,187.87 307.00,187.87 307.50,187.86 308.00,187.86 308.50,187.86 309.00,187.86 309.50,187.86 310.00,187.86 310.50,187.86 311.00,187.86 311.50,187.86 312.00,187.86 312.50,187.86 313.00,187.86 313.50,187.86 314.00,187.86 314.50,187.86 315.00,187.86 315.50,187.86 316.00,187.86 316.50,187.86 317.00,187.86 317.50,187.86 318.00,187.86 318.50,187.86 319.00,187.86 319.50,187.86 320.00,187.86 320.50,187.86 321.00,187.86 321.50,187.86 322.00,187.86 322.50,187.86 323.00,187.86 323.50,187.86 324.00,187.86 324.50,187.86 325.00,187.86 325.50,187.86 326.00,187.86 326.50,187.86 327.00,187.86 327.50,187.86 328.00,187.86 328.50,187.86 329.00,187.86 329.50,187.86 330.00,187.86 330.50,187.86 331.00,187.86 331.50,187.86 332.00,187.85 332.50,187.85 333.00,187.85 333.50,187.85 334.00,187.85 334.50,187.85 335.00,187.85 335.50,187.85 336.00,187.85 336.50,187.85 337.00,187.85 337.50,187.85 338.00,187.85 338.50,187.85 339.00,187.85 339.50,187.85 340.00,187.85 340.50,187.85 341.00,187.85 341.50,187.85 342.00,187.85 342.50,187.85 343.00,187.85 343.50,187.85 344.00,187.85 344.50,187.85 345.00,187.85 345.50,187.85 346.00,187.85 346.50,187.85 347.00,187.85 347.50,187.85 348.00,187.85 348.50,187.85 349.00,187.85 349.50,187.85 350.00,187.85 350.50,187.85 351.00,187.85 351.50,187.85 352.00,187.85 352.50,187.85 353.00,187.85 353.50,187.85 354.00,187.85 354.50,187.85 355.00,187.85 355.50,187.85 356.00,187.85 356.50,187.84 357.00,187.84 357.50,187.84 358.00,187.84 358.50,187.84 359.00,187.84 359.50,187.84 360.00,187.84 360.50,187.84 361.00,187.84 361.50,187.84 362.00,187.84 362.50,187.84 363.00,187.84 363.50,187.84 364.00,187.84 364.50,187.84 365.00,187.84 365.50,187.84 366.00,187.84 366.50,187.84 367.00,187.84 367.50,187.84 368.00,187.84 368.50,187.84 369.00,187.84 369.50,187.84 370.00,187.84 370.50,187.84 371.00,187.84 371.50,187.84 372.00,187.84 372.50,187.84 373.00,187.84 373.50,187.84 374.00,187.84 374.50,187.84 375.00,187.84 375.50,187.84 376.00,187.84 376.50,187.84 377.00,187.84 377.50,187.84 378.00,187.84 378.50,187.84 379.00,187.84 379.50,187.84 380.00,187.84 380.50,187.84 381.00,187.83 381.50,187.83 382.00,187.83 382.50,187.83 383.00,187.83 383.50,187.83 384.00,187.83 384.50,187.83 385.00,187.83 385.50,187.83 386.00,187.83 386.50,187.83 387.00,187.83 387.50,187.83 388.00,187.83 388.50,187.83 389.00,187.83 389.50,187.83 390.00,187.83 390.50,187.83 391.00,187.83 391.50,187.83 392.00,187.83 392.50,187.83 393.00,187.83 393.50,187.83 394.00,187.83 394.50,187.83 395.00,187.83 395.50,187.83 396.00,187.83 396.50,187.83 397.00,187.83 397.50,187.83 398.00,187.83 398.50,187.83 399.00,187.83 399.50,187.83 400.00,187.83 400.50,187.83 401.00,187.83 401.50,187.83 402.00,187.83 402.50,187.83 403.00,187.83 403.50,187.83 404.00,187.83 404.50,187.83 405.00,187.83 405.50,187.82 406.00,187.82 406.50,187.82 407.00,187.82 407.50,187.82 408.00,187.82 408.50,187.82 409.00,187.82 409.50,187.82 410.00,187.82 410.50,187.82 411.00,187.82 411.50,187.82 412.00,187.82 412.50,187.82 413.00,187.82 413.50,187.82 414.00,187.82 414.50,187.82 415.00,187.82 415.50,187.82 416.00,187.82 416.50,187.82 417.00,187.82 417.50,187.82 418.00,187.82 418.50,187.82 419.00,187.82 419.50,187.82 420.00,187.82 420.50,187.82 421.00,187.82 421.50,187.82 422.00,187.82 422.50,187.82 423.00,187.82 423.50,187.82 424.00,187.82 424.50,187.82 425.00,187.82 425.50,187.82 426.00,187.82 426.50,187.82 427.00,187.82 427.50,187.82 428.00,187.82 428.50,187.82 429.00,187.82 429.50,187.82 430.00,187.81 430.50,187.81 431.00,187.81 431.50,187.81 432.00,187.81 432.50,187.81 433.00,187.81 433.50,187.81 434.00,187.81 434.50,187.81 435.00,187.81 435.50,187.81 436.00,187.81 436.50,187.81 437.00,187.81 437.50,187.81 438.00,187.81 438.50,187.81 439.00,187.81 439.50,187.81 440.00,187.81 440.50,187.81 441.00,187.81 441.50,187.81 442.00,187.81 442.50,187.81 443.00,187.81 443.50,187.81 444.00,187.81 444.50,187.81 445.00,187.81 445.50,187.81 446.00,187.81 446.50,187.81 447.00,187.81 447.50,187.81 448.00,187.81 448.50,187.81 449.00,187.81 449.50,187.81 450.00,187.81 450.50,187.81 451.00,187.81 451.50,187.81 452.00,187.81 452.50,187.81 453.00,187.81 453.50,187.81 454.00,187.81 454.50,187.80 455.00,187.80 455.50,187.80 456.00,187.80 456.50,187.80 457.00,187.80 457.50,187.80 458.00,187.80 458.50,187.80 459.00,187.80 459.50,187.80 460.00,187.80 460.50,187.80 461.00,187.80 461.50,187.80 462.00,187.80 462.50,187.80 463.00,187.80 463.50,187.80 464.00,187.80 464.50,187.80 465.00,187.80 465.50,187.80 466.00,187.80 466.50,187.80 467.00,187.80 467.50,187.80 468.00,187.80 468.50,187.80 469.00,187.80 469.50,187.80 470.00,187.80 470.50,187.80 471.00,187.80 471.50,187.80 472.00,187.80 472.50,187.80 473.00,187.80 473.50,187.80 474.00,187.80 474.50,187.80 475.00,187.80 475.50,187.80 476.00,187.80 476.50,187.80 477.00,187.80 477.50,187.80 478.00,187.80 478.50,187.80 479.00,187.80 479.50,187.79 480.00,187.79 480.50,187.79 481.00,187.79 481.50,187.79 482.00,187.79 482.50,187.79 483.00,187.79 483.50,187.79 484.00,187.79 484.50,187.79 485.00,187.79 485.50,187.79 486.00,187.79 486.50,187.79 487.00,187.79 487.50,187.79 488.00,187.79 488.50,187.79 489.00,187.79 489.50,187.79 490.00,187.79 490.50,187.79 491.00,187.79 491.50,187.79 492.00,187.79 492.50,187.79 493.00,187.79 493.50,187.79 494.00,187.79 494.50,187.79 495.00,187.79 495.50,187.79 496.00,187.79 496.50,187.79 497.00,187.79 497.50,187.79 498.00,187.79 498.50,187.79 499.00,187.79 499.50,187.79 500.00,187.79 500.50,187.79 501.00,187.79 501.50,187.79 502.00,187.79 502.50,187.79 503.00,187.79 503.50,187.79 504.00,187.78 504.50,187.78 505.00,187.78 505.50,187.78 506.00,187.78 506.50,187.78 507.00,187.78 507.50,187.78 508.00,187.78 508.50,187.78 509.00,187.78 509.50,187.78 510.00,187.78 510.50,187.78 511.00,187.78 511.50,187.78 512.00,187.78 512.50,187.78 513.00,187.78 513.50,187.78 514.00,187.78 514.50,187.78 515.00,187.78 515.50,187.78 516.00,187.78 516.50,187.78 517.00,187.78 517.50,187.78 518.00,187.78 518.50,187.78 519.00,187.78 519.50,187.78 520.00,187.78 520.50,187.78 521.00,187.78 521.50,187.78 522.00,187.78 522.50,187.78 523.00,187.78 523.50,187.78 524.00,187.78 524.50,187.78 525.00,187.78 525.50,187.78 526.00,187.78 526.50,187.78 527.00,187.78 527.50,187.78 528.00,187.78 528.50,187.77 529.00,187.77 529.50,187.77 530.00,187.77 530.50,187.77 531.00,187.77 531.50,187.77 532.00,187.77 532.50,187.77 533.00,187.77 533.50,187.77 534.00,187.77 534.50,187.77 535.00,187.77 535.50,187.77 536.00,187.77 536.50,187.77 537.00,187.77 537.50,187.77 538.00,187.77 538.50,187.77 539.00,187.77 539.50,187.77 540.00,187.77 540.50,187.77 541.00,187.77 541.50,187.77 542.00,187.77 542.50,187.77 543.00,187.77 543.50,187.77 544.00,187.77 544.50,187.77 545.00,187.77 545.50,187.77 546.00,187.77 546.50,187.77 547.00,187.77 547.50,187.77 548.00,187.77 548.50,187.77 549.00,187.77 549.50,187.77 550.00,187.77 550.50,187.77 551.00,187.77 551.50,187.77 552.00,187.77 552.50,187.77 553.00,187.76 553.50,187.76 554.00,187.76 554.50,187.76 555.00,187.76 555.50,187.76 556.00,187.76 556.50,187.76 557.00,187.76 557.50,187.76 558.00,187.76 558.50,187.76 559.00,187.76 559.50,187.76 560.00,187.76 560.50,187.76 561.00,187.76 561.50,187.76 562.00,187.76 562.50,187.76 563.00,187.76 563.50,187.76 564.00,187.76 564.50,187.76 565.00,187.76 565.50,187.76 566.00,187.76 566.50,187.76 567.00,187.76 567.50,187.76 568.00,187.76 568.50,187.76 569.00,187.76 569.50,187.76 570.00,187.76 570.50,187.76 571.00,187.76 571.50,187.76 572.00,187.76 572.50,187.76 573.00,187.76 573.50,187.76 574.00,187.76 574.50,187.76 575.00,187.76 575.50,187.76 576.00,187.76 576.50,187.76 577.00,187.76 577.50,187.75 578.00,187.75 578.50,187.75 579.00,187.75 579.50,187.75 580.00,187.75 580.50,187.75 581.00,187.75 581.50,187.75 582.00,187.75 582.50,187.75 583.00,187.75 583.50,187.75 584.00,187.75 584.50,187.75 585.00,187.75 585.50,187.75 586.00,187.75 586.50,187.75 587.00,187.75 587.50,187.75 588.00,187.75 588.50,187.75 589.00,187.75 589.50,187.75 590.00,187.75 590.50,187.75 591.00,187.75 591.50,187.75 592.00,187.75 592.50,187.75 593.00,187.75 593.50,187.75 594.00,187.75 594.50,187.75 595.00,187.75 595.50,187.75 596.00,187.75 596.50,187.75 597.00,187.75 597.50,187.75 598.00,187.75 598.50,187.75 599.00,187.75 599.50,187.75 600.00,187.75 600.50,187.75 601.00,187.75 601.50,187.75 602.00,187.74 602.50,187.74 603.00,187.74 603.50,187.74 604.00,187.74 604.50,187.74 605.00,187.74 605.50,187.74 606.00,187.74 606.50,187.74 607.00,187.74 607.50,187.74 608.00,187.74 608.50,187.74 609.00,187.74 609.50,187.74 610.00,187.74 610.50,187.74 611.00,187.74 611.50,187.74 612.00,187.74 612.50,187.74 613.00,187.74 613.50,187.74 614.00,187.74 614.50,187.74 615.00,187.74 615.50,187.74 616.00,187.74 616.50,187.74 617.00,187.74 617.50,187.74 618.00,187.74 618.50,187.74 619.00,187.74 619.50,187.74 620.00,187.74 620.50,187.74 621.00,187.74 621.50,187.74 622.00,187.74 622.50,187.74 623.00,187.74 623.50,187.74 624.00,187.74 624.50,187.74 625.00,187.74 625.50,187.74 626.00,187.74 626.50,187.73 627.00,187.73 627.50,187.73 628.00,187.73 628.50,187.73 629.00,187.73 629.50,187.73 630.00,187.73 630.50,187.73 631.00,187.73 631.50,187.73 632.00,187.73 632.50,187.73 633.00,187.73 633.50,187.73 634.00,187.73 634.50,187.73 635.00,187.73 635.50,187.73 636.00,187.73 636.50,187.73 637.00,187.73 637.50,187.73 638.00,187.73 638.50,187.73 639.00,187.73 639.50,187.73 640.00,187.73 640.50,187.73 641.00,187.73 641.50,187.73 642.00,187.73 642.50,187.73 643.00,187.73 643.50,187.73 644.00,187.73 644.50,187.73 645.00,187.73 645.50,187.73 646.00,187.73 646.50,187.73 647.00,187.73 647.50,187.73 648.00,187.73 648.50,187.73 649.00,187.73 649.50,187.73 650.00,187.73 650.50,187.73 651.00,187.72 651.50,187.72 652.00,187.72 652.50,187.72 653.00,187.72 653.50,187.72 654.00,187.72 654.50,187.72 655.00,187.72 655.50,187.72 656.00,187.72 656.50,187.72 657.00,187.72 657.50,187.72 658.00,187.72 658.50,187.72 659.00,187.72 659.50,187.72 660.00,187.72 660.50,187.72 661.00,187.72 661.50,187.72 662.00,187.72 662.50,187.72 663.00,187.72 663.50,187.72 664.00,187.72 664.50,187.72 665.00,187.72 665.50,187.72 666.00,187.72 666.50,187.72 667.00,187.72 667.50,187.72 668.00,187.72 668.50,187.72 669.00,187.72 669.50,187.72 670.00,187.72 670.50,187.72 671.00,187.72 671.50,187.72 672.00,187.72 672.50,187.72 673.00,187.72 673.50,187.72 674.00,187.72 674.50,187.72 675.00,187.72 675.50,187.71 676.00,187.71 676.50,187.71 677.00,187.71 677.50,187.71 678.00,187.71 678.50,187.71 679.00,187.71 679.50,187.71 680.00,187.71 680.50,187.71 681.00,187.71 681.50,187.71 682.00,187.71 682.50,187.71 683.00,187.71 683.50,187.71 684.00,187.71 684.50,187.71 685.00,187.71 685.50,187.71 686.00,187.71 686.50,187.71 687.00,187.71 687.50,187.71 688.00,187.71 688.50,187.71 689.00,187.71 689.50,187.71 690.00,187.71 690.50,187.71 691.00,187.71 691.50,187.71 692.00,187.71 692.50,187.71 693.00,187.71 693.50,187.71 694.00,187.71 694.50,187.71 695.00,187.71 695.50,187.71 696.00,187.71 696.50,187.71 697.00,187.71 697.50,187.71 698.00,187.71 698.50,187.71 699.00,187.71 699.50,187.71 700.00,187.70 700.50,187.70 701.00,187.70 701.50,187.70 702.00,187.70 702.50,187.70 703.00,187.70 703.50,187.70 704.00,187.70 704.50,187.70 705.00,187.70 705.50,187.70 706.00,187.70 706.50,187.70 707.00,187.70 707.50,187.70 708.00,187.70 708.50,187.70 709.00,187.70 709.50,187.70 710.00,187.70 710.50,187.70 711.00,187.70 711.50,187.70 712.00,187.70 712.50,187.97 713.00,188.25 713.50,188.53 714.00,188.80 714.50,188.80 715.00,188.80 715.50,188.81 716.00,188.81 716.50,188.81 717.00,188.81 717.50,188.81 718.00,188.82 718.50,188.82 719.00,188.82 719.50,188.82 720.00,188.82 720.50,188.83 721.00,188.83 721.50,188.83 722.00,188.83 722.50,188.83 723.00,188.84 723.50,188.84 724.00,188.84 724.50,188.84 725.00,188.84 725.50,188.85 726.00,188.85 726.50,188.85 727.00,188.85 727.50,188.85 728.00,188.86 728.50,188.86 729.00,188.86 729.50,188.86 730.00,188.86 730.50,188.87 731.00,188.87 731.50,188.87 732.00,188.87 732.50,188.87 733.00,188.88 733.50,188.88 734.00,188.88 734.50,188.88 735.00,188.89 735.50,188.89 736.00,188.89 736.50,188.89 737.00,188.89 737.50,188.90 738.00,188.90 738.50,188.90 739.00,188.90 739.50,188.90 740.00,188.91 740.50,188.91 741.00,188.91 741.50,188.91 742.00,188.91 742.50,188.92 743.00,188.92 743.50,188.92 744.00,188.92 744.50,188.92 745.00,188.93 745.50,188.93 746.00,188.93 746.50,188.93 747.00,188.93 747.50,188.94 748.00,188.94 748.50,188.94 749.00,188.94 749.50,188.94 750.00,188.95 750.50,188.95 751.00,188.95 751.50,188.95 752.00,188.95 752.50,188.96 753.00,188.96 753.50,188.96 754.00,188.96 754.50,188.96 755.00,188.97 755.50,188.97 756.00,188.97 756.50,188.97 757.00,188.97 757.50,188.98 758.00,188.98 758.50,188.98 759.00,188.98 759.50,188.98 760.00,188.99 760.50,188.99 761.00,188.99 761.50,188.99 762.00,188.99 762.50,189.00 763.00,189.00 763.50,188.90 764.00,188.38 764.50,187.86 765.00,187.35 765.50,186.83 766.00,186.31 766.50,185.82 767.00,185.42 767.50,185.01 768.00,184.61 768.50,184.21 769.00,183.81 769.50,183.40 770.00,183.00 770.50,182.76 771.00,182.53 771.50,182.29 772.00,182.06 772.50,181.82 773.00,181.58 773.50,181.35 774.00,181.11 774.50,180.88 775.00,180.64 775.50,180.45 776.00,180.32 776.50,180.20 777.00,180.07 777.50,179.95 778.00,179.82 778.50,179.69 779.00,179.57 779.50,179.44 780.00,179.32 780.50,179.19 781.00,179.06 781.50,178.94 782.00,178.81 782.50,178.68 783.00,178.56 783.50,178.43 784.00,178.31 784.50,178.18 785.00,178.05 785.50,177.93 786.00,177.80 786.50,177.68 787.00,177.55 787.50,177.47 788.00,177.43 788.50,177.39 789.00,177.35 789.50,177.31 790.00,177.26 790.50,177.22 791.00,177.18 791.50,177.14 792.00,177.10 792.50,177.05 793.00,177.01 793.50,176.97 794.00,176.93 794.50,176.88 795.00,176.84 795.50,176.80 796.00,176.76 796.50,176.72 797.00,176.67 797.50,176.63 798.00,176.59 798.50,176.55 799.00,176.51 799.50,176.46 800.00,176.42 800.50,176.38 801.00,176.34 801.50,176.29 802.00,176.25 802.50,176.21 803.00,176.17 803.50,176.13 804.00,176.08 804.50,176.04 805.00,176.00 805.50,176.02 806.00,176.03 806.50,176.05 807.00,176.07 807.50,176.08 808.00,176.10 808.50,176.12 809.00,176.13 809.50,176.15 810.00,176.17 810.50,176.18 811.00,176.20 811.50,176.22 812.00,176.23 812.50,176.25 813.00,176.27 813.50,176.28 814.00,176.30 814.50,176.32 815.00,176.33 815.50,176.35 816.00,176.37 816.50,176.38 817.00,176.40 817.50,176.42 818.00,176.43 818.50,176.45 819.00,176.47 819.50,176.48 820.00,176.50 820.50,176.52 821.00,176.53 821.50,176.55 822.00,176.57 822.50,176.58 823.00,176.60 823.50,176.66 824.00,176.73 824.50,176.79 825.00,176.86 825.50,176.92 826.00,176.99 826.50,177.05 827.00,177.11 827.50,177.18 828.00,177.24 828.50,177.31 829.00,177.37 829.50,177.44 830.00,177.50 830.50,177.56 831.00,177.63 831.50,177.69 832.00,177.76 832.50,177.82 833.00,177.88 833.50,177.95 834.00,178.01 834.50,178.08 835.00,178.14 835.50,178.21 836.00,178.27 836.50,178.33 837.00,178.40 837.50,178.46 838.00,178.53 838.50,178.59 839.00,178.66 839.50,178.72 840.00,178.78 840.50,178.85 841.00,178.92 841.50,179.02 842.00,179.13 842.50,179.23 843.00,179.34 843.50,179.44 844.00,179.54 844.50,179.65 845.00,179.75 845.50,179.86 846.00,179.96 846.50,180.06 847.00,180.17 847.50,180.27 848.00,180.38 848.50,180.48 849.00,180.58 849.50,180.69 850.00,180.79 850.50,180.90 851.00,181.00 851.50,181.10 852.00,181.21 852.50,181.31 853.00,181.42 853.50,181.52 854.00,181.62 854.50,181.73 855.00,181.83 855.50,181.93 856.00,182.04 856.50,182.14 857.00,182.25 857.50,182.35 858.00,182.45 858.50,182.56 859.00,182.69 859.50,182.85 860.00,183.01 860.50,183.17 861.00,183.33 861.50,183.48 862.00,183.64 862.50,183.80 863.00,183.96 863.50,184.11 864.00,184.27 864.50,184.43 865.00,184.59 865.50,184.74 866.00,184.90 866.50,185.06 867.00,185.22 867.50,185.38 868.00,185.53 868.50,185.69 869.00,185.85 869.50,186.01 870.00,186.16 870.50,186.32 871.00,186.48 871.50,186.64 872.00,186.80 872.50,186.95 873.00,187.11 873.50,187.27 874.00,187.46 874.50,187.66 875.00,187.86 875.50,188.07 876.00,188.27 876.50,188.47 877.00,188.67 877.50,188.87 878.00,189.07 878.50,189.27 879.00,189.47 879.50,189.68 880.00,189.88 880.50,190.08 881.00,190.28 881.50,190.48 882.00,190.68 882.50,190.88 883.00,191.09 883.50,191.29 884.00,191.49 884.50,191.69 885.00,191.89 885.50,192.09 886.00,192.29 886.50,192.49 887.00,192.70 887.50,192.90 888.00,193.10 888.50,193.30 889.00,193.40 889.50,193.50 890.00,193.60 890.50,193.60 891.00,193.60 891.50,193.60 892.00,193.60 892.50,193.60 893.00,193.60 893.50,193.60 894.00,193.60 894.50,193.60 895.00,193.60 895.50,193.60 896.00,193.60 896.50,193.60 897.00,193.60 897.50,193.60 898.00,193.60 898.50,193.60 899.00,193.60 899.50,193.60 900.00,193.60 900.50,193.60 901.00,193.60 901.50,193.60 902.00,193.60 902.50,193.60 903.00,193.60 903.50,193.60 904.00,193.60 904.50,193.60 905.00,193.60 905.50,193.60 906.00,193.60 906.50,193.60 907.00,193.60 907.50,193.60 908.00,193.60 908.50,193.60 909.00,193.60 909.50,193.60 910.00,193.60 910.50,193.60 911.00,193.60 911.50,193.60 912.00,193.60 912.50,193.60 913.00,193.60 913.50,193.60 914.00,193.60 914.50,193.60 915.00,193.60 915.50,193.60 916.00,193.60 916.50,193.60 917.00,193.60 917.50,193.60 918.00,193.60 918.50,193.60 919.00,193.60 919.50,193.60 920.00,193.60 920.50,193.60 921.00,193.60 921.50,193.60 922.00,193.60 922.50,193.60 923.00,193.60 923.50,193.60 924.00,193.60 924.50,193.60 925.00,193.60 925.50,193.60 926.00,193.60 926.50,193.60 927.00,193.60 927.50,193.60 928.00,193.60 928.50,193.60 929.00,193.60 929.50,193.60 930.00,193.60 930.50,193.60 931.00,193.60 931.50,193.60 932.00,193.60 932.50,193.60 933.00,193.60 933.50,193.60 934.00,193.60 934.50,193.60 935.00,193.60 935.50,193.60 936.00,193.60 936.50,193.60 937.00,193.60 937.50,193.60 938.00,193.60 938.50,193.60 939.00,193.60 939.50,193.60 940.00,193.60 940.50,193.60 941.00,193.60 941.50,193.60 942.00,193.60 942.50,193.60 943.00,193.60 943.50,193.60 944.00,193.60 944.50,193.60 945.00,193.60 945.50,193.60 946.00,193.60 946.50,193.60 947.00,193.60 947.50,193.60 948.00,193.60 948.50,193.60 949.00,193.60 949.50,193.60 950.00,193.60 950.50,193.60 951.00,193.60 951.50,193.60 952.00,193.60 952.50,193.60 953.00,193.60 953.50,193.60 954.00,193.60 954.50,193.60 955.00,193.60 955.50,193.60 956.00,193.60 956.50,193.60 957.00,193.60 957.50,193.60 958.00,193.60 958.50,193.60 959.00,193.60 959.50,193.60 960.00,193.60 960.50,193.60 961.00,193.60 961.50,193.60 962.00,193.60 962.50,193.60 963.00,193.60 963.50,193.60 964.00,193.60 964.50,193.60 965.00,193.60 965.50,193.60 966.00,193.60 966.50,193.60 967.00,193.60 967.50,193.60 968.00,193.60 968.50,193.60 969.00,193.60 969.50,193.60 970.00,193.60 970.50,193.60 971.00,193.60 971.50,193.60 972.00,193.60 972.50,193.60 973.00,193.60 973.50,193.60 974.00,193.60 974.50,193.60 975.00,193.60 975.50,193.60 976.00,193.60 976.50,193.60 977.00,193.60 977.50,193.60 978.00,193.60 978.50,193.60 979.00,193.60 979.50,193.60 980.00,193.60 980.50,193.60 981.00,193.60 981.00,229.50 980.50,229.50 980.00,229.50 979.50,229.50 979.00,229.50 978.50,229.50 978.00,229.50 977.50,229.50 977.00,229.50 976.50,229.50 976.00,229.50 975.50,229.50 975.00,229.50 974.50,229.50 974.00,229.50 973.50,229.50 973.00,229.50 972.50,229.50 972.00,229.50 971.50,229.50 971.00,229.50 970.50,229.50 970.00,229.50 969.50,229.50 969.00,229.50 968.50,229.50 968.00,229.50 967.50,229.50 967.00,229.50 966.50,229.50 966.00,229.50 965.50,229.50 965.00,229.50 964.50,229.50 964.00,229.50 963.50,229.50 963.00,229.50 962.50,229.50 962.00,229.50 961.50,229.50 961.00,229.50 960.50,229.50 960.00,229.50 959.50,229.50 959.00,229.50 958.50,229.50 958.00,229.50 957.50,229.50 957.00,229.50 956.50,229.50 956.00,229.50 955.50,229.50 955.00,229.50 954.50,229.50 954.00,229.50 953.50,229.50 953.00,229.50 952.50,229.50 952.00,229.50 951.50,229.50 951.00,229.50 950.50,229.50 950.00,229.50 949.50,229.50 949.00,229.50 948.50,229.50 948.00,229.50 947.50,229.50 947.00,229.50 946.50,229.50 946.00,229.50 945.50,229.50 945.00,229.50 944.50,229.50 944.00,229.50 943.50,229.50 943.00,229.50 942.50,229.50 942.00,229.50 941.50,229.50 941.00,229.50 940.50,229.50 940.00,229.50 939.50,229.50 939.00,229.50 938.50,229.50 938.00,229.50 937.50,229.50 937.00,229.50 936.50,229.50 936.00,229.50 935.50,229.50 935.00,229.50 934.50,229.50 934.00,229.50 933.50,229.50 933.00,229.50 932.50,229.50 932.00,229.50 931.50,229.50 931.00,229.50 930.50,229.50 930.00,229.50 929.50,229.50 929.00,229.50 928.50,229.50 928.00,229.50 927.50,229.50 927.00,229.50 926.50,229.50 926.00,229.50 925.50,229.50 925.00,229.50 924.50,229.50 924.00,229.50 923.50,229.50 923.00,229.50 922.50,229.50 922.00,229.50 921.50,229.50 921.00,229.50 920.50,229.50 920.00,229.50 919.50,229.50 919.00,229.50 918.50,229.50 918.00,229.50 917.50,229.50 917.00,229.50 916.50,229.50 916.00,229.50 915.50,229.50 915.00,229.50 914.50,229.50 914.00,229.50 913.50,229.50 913.00,229.50 912.50,229.50 912.00,229.50 911.50,229.50 911.00,229.50 910.50,229.50 910.00,229.50 909.50,229.50 909.00,229.50 908.50,229.50 908.00,229.50 907.50,229.50 907.00,229.50 906.50,229.50 906.00,229.50 905.50,229.50 905.00,229.50 904.50,229.50 904.00,229.50 903.50,229.50 903.00,229.50 902.50,229.50 902.00,229.50 901.50,229.50 901.00,229.50 900.50,229.50 900.00,229.50 899.50,229.50 899.00,229.50 898.50,229.50 898.00,229.50 897.50,229.50 897.00,229.50 896.50,229.50 896.00,229.50 895.50,229.50 895.00,229.50 894.50,229.50 894.00,229.50 893.50,229.50 893.00,229.50 892.50,229.50 892.00,229.50 891.50,229.50 891.00,229.50 890.50,229.50 890.00,229.50 889.50,229.53 889.00,229.57 888.50,229.60 888.00,229.73 887.50,229.86 887.00,229.99 886.50,230.12 886.00,230.25 885.50,230.38 885.00,230.51 884.50,230.64 884.00,230.76 883.50,230.89 883.00,231.02 882.50,231.15 882.00,231.28 881.50,231.41 881.00,231.54 880.50,231.67 880.00,231.80 879.50,231.94 879.00,232.09 878.50,232.23 878.00,232.37 877.50,232.52 877.00,232.66 876.50,232.81 876.00,232.95 875.50,233.09 875.00,233.24 874.50,233.38 874.00,233.52 873.50,233.67 873.00,233.81 872.50,233.95 872.00,234.10 871.50,234.24 871.00,234.39 870.50,234.53 870.00,234.67 869.50,234.81 869.00,234.95 868.50,235.09 868.00,235.24 867.50,235.38 867.00,235.52 866.50,235.66 866.00,235.80 865.50,235.94 865.00,236.08 864.50,236.23 864.00,236.37 863.50,236.51 863.00,236.65 862.50,236.79 862.00,236.93 861.50,237.08 861.00,237.22 860.50,237.36 860.00,237.50 859.50,237.62 859.00,237.75 858.50,237.88 858.00,238.00 857.50,238.12 857.00,238.25 856.50,238.38 856.00,238.50 855.50,238.62 855.00,238.75 854.50,238.88 854.00,239.00 853.50,239.12 853.00,239.25 852.50,239.38 852.00,239.50 851.50,239.62 851.00,239.75 850.50,239.88 850.00,240.00 849.50,240.12 849.00,240.25 848.50,240.38 848.00,240.50 847.50,240.62 847.00,240.75 846.50,240.86 846.00,240.95 845.50,241.04 845.00,241.14 844.50,241.23 844.00,241.32 843.50,241.42 843.00,241.51 842.50,241.61 842.00,241.70 841.50,241.79 841.00,241.89 840.50,241.98 840.00,242.07 839.50,242.17 839.00,242.26 838.50,242.36 838.00,242.45 837.50,242.54 837.00,242.64 836.50,242.73 836.00,242.82 835.50,242.92 835.00,243.01 834.50,243.11 834.00,243.20 833.50,243.27 833.00,243.35 832.50,243.42 832.00,243.49 831.50,243.56 831.00,243.64 830.50,243.71 830.00,243.78 829.50,243.85 829.00,243.93 828.50,244.00 828.00,244.07 827.50,244.15 827.00,244.22 826.50,244.29 826.00,244.36 825.50,244.44 825.00,244.51 824.50,244.58 824.00,244.65 823.50,244.73 823.00,244.80 822.50,244.85 822.00,244.89 821.50,244.94 821.00,244.98 820.50,245.03 820.00,245.07 819.50,245.12 819.00,245.16 818.50,245.21 818.00,245.25 817.50,245.30 817.00,245.35 816.50,245.39 816.00,245.44 815.50,245.48 815.00,245.53 814.50,245.57 814.00,245.62 813.50,245.66 813.00,245.71 812.50,245.75 812.00,245.80 811.50,245.81 811.00,245.82 810.50,245.82 810.00,245.83 809.50,245.84 809.00,245.85 808.50,245.85 808.00,245.86 807.50,245.87 807.00,245.88 806.50,245.88 806.00,245.89 805.50,245.90 805.00,245.91 804.50,245.92 804.00,245.92 803.50,245.93 803.00,245.94 802.50,245.95 802.00,245.95 801.50,245.96 801.00,245.97 800.50,245.98 800.00,245.98 799.50,245.99 799.00,246.00 798.50,245.96 798.00,245.93 797.50,245.89 797.00,245.85 796.50,245.82 796.00,245.78 795.50,245.75 795.00,245.71 794.50,245.67 794.00,245.64 793.50,245.60 793.00,245.56 792.50,245.53 792.00,245.49 791.50,245.45 791.00,245.42 790.50,245.38 790.00,245.35 789.50,245.31 789.00,245.27 788.50,245.24 788.00,245.20 787.50,245.09 787.00,244.98 786.50,244.87 786.00,244.76 785.50,244.65 785.00,244.54 784.50,244.43 784.00,244.32 783.50,244.21 783.00,244.10 782.50,243.99 782.00,243.88 781.50,243.77 781.00,243.66 780.50,243.55 780.00,243.44 779.50,243.33 779.00,243.22 778.50,243.11 778.00,243.00 777.50,242.82 777.00,242.64 776.50,242.46 776.00,242.29 775.50,242.11 775.00,241.93 774.50,241.75 774.00,241.57 773.50,241.39 773.00,241.21 772.50,241.04 772.00,240.86 771.50,240.68 771.00,240.50 770.50,240.21 770.00,239.92 769.50,239.63 769.00,239.34 768.50,239.05 768.00,238.76 767.50,238.47 767.00,238.18 766.50,237.89 766.00,237.60 765.50,236.87 765.00,236.14 764.50,235.41 764.00,234.68 763.50,233.95 763.00,233.80 762.50,233.80 762.00,233.81 761.50,233.81 761.00,233.81 760.50,233.81 760.00,233.81 759.50,233.82 759.00,233.82 758.50,233.82 758.00,233.82 757.50,233.82 757.00,233.83 756.50,233.83 756.00,233.83 755.50,233.83 755.00,233.83 754.50,233.84 754.00,233.84 753.50,233.84 753.00,233.84 752.50,233.84 752.00,233.85 751.50,233.85 751.00,233.85 750.50,233.85 750.00,233.85 749.50,233.86 749.00,233.86 748.50,233.86 748.00,233.86 747.50,233.86 747.00,233.87 746.50,233.87 746.00,233.87 745.50,233.87 745.00,233.87 744.50,233.88 744.00,233.88 743.50,233.88 743.00,233.88 742.50,233.88 742.00,233.89 741.50,233.89 741.00,233.89 740.50,233.89 740.00,233.89 739.50,233.90 739.00,233.90 738.50,233.90 738.00,233.90 737.50,233.90 737.00,233.91 736.50,233.91 736.00,233.91 735.50,233.91 735.00,233.91 734.50,233.92 734.00,233.92 733.50,233.92 733.00,233.92 732.50,233.93 732.00,233.93 731.50,233.93 731.00,233.93 730.50,233.93 730.00,233.94 729.50,233.94 729.00,233.94 728.50,233.94 728.00,233.94 727.50,233.95 727.00,233.95 726.50,233.95 726.00,233.95 725.50,233.95 725.00,233.96 724.50,233.96 724.00,233.96 723.50,233.96 723.00,233.96 722.50,233.97 722.00,233.97 721.50,233.97 721.00,233.97 720.50,233.97 720.00,233.98 719.50,233.98 719.00,233.98 718.50,233.98 718.00,233.98 717.50,233.99 717.00,233.99 716.50,233.99 716.00,233.99 715.50,233.99 715.00,234.00 714.50,234.00 714.00,234.00 713.50,234.25 713.00,234.50 712.50,234.75 712.00,235.00 711.50,235.00 711.00,235.00 710.50,235.00 710.00,235.00 709.50,235.00 709.00,235.00 708.50,235.00 708.00,235.00 707.50,235.00 707.00,235.00 706.50,235.00 706.00,235.00 705.50,234.99 705.00,234.99 704.50,234.99 704.00,234.99 703.50,234.99 703.00,234.99 702.50,234.99 702.00,234.99 701.50,234.99 701.00,234.99 700.50,234.99 700.00,234.99 699.50,234.99 699.00,234.99 698.50,234.99 698.00,234.99 697.50,234.99 697.00,234.99 696.50,234.99 696.00,234.99 695.50,234.99 695.00,234.99 694.50,234.99 694.00,234.99 693.50,234.98 693.00,234.98 692.50,234.98 692.00,234.98 691.50,234.98 691.00,234.98 690.50,234.98 690.00,234.98 689.50,234.98 689.00,234.98 688.50,234.98 688.00,234.98 687.50,234.98 687.00,234.98 686.50,234.98 686.00,234.98 685.50,234.98 685.00,234.98 684.50,234.98 684.00,234.98 683.50,234.98 683.00,234.98 682.50,234.98 682.00,234.98 681.50,234.98 681.00,234.97 680.50,234.97 680.00,234.97 679.50,234.97 679.00,234.97 678.50,234.97 678.00,234.97 677.50,234.97 677.00,234.97 676.50,234.97 676.00,234.97 675.50,234.97 675.00,234.97 674.50,234.97 674.00,234.97 673.50,234.97 673.00,234.97 672.50,234.97 672.00,234.97 671.50,234.97 671.00,234.97 670.50,234.97 670.00,234.97 669.50,234.97 669.00,234.96 668.50,234.96 668.00,234.96 667.50,234.96 667.00,234.96 666.50,234.96 666.00,234.96 665.50,234.96 665.00,234.96 664.50,234.96 664.00,234.96 663.50,234.96 663.00,234.96 662.50,234.96 662.00,234.96 661.50,234.96 661.00,234.96 660.50,234.96 660.00,234.96 659.50,234.96 659.00,234.96 658.50,234.96 658.00,234.96 657.50,234.96 657.00,234.96 656.50,234.95 656.00,234.95 655.50,234.95 655.00,234.95 654.50,234.95 654.00,234.95 653.50,234.95 653.00,234.95 652.50,234.95 652.00,234.95 651.50,234.95 651.00,234.95 650.50,234.95 650.00,234.95 649.50,234.95 649.00,234.95 648.50,234.95 648.00,234.95 647.50,234.95 647.00,234.95 646.50,234.95 646.00,234.95 645.50,234.95 645.00,234.95 644.50,234.94 644.00,234.94 643.50,234.94 643.00,234.94 642.50,234.94 642.00,234.94 641.50,234.94 641.00,234.94 640.50,234.94 640.00,234.94 639.50,234.94 639.00,234.94 638.50,234.94 638.00,234.94 637.50,234.94 637.00,234.94 636.50,234.94 636.00,234.94 635.50,234.94 635.00,234.94 634.50,234.94 634.00,234.94 633.50,234.94 633.00,234.94 632.50,234.94 632.00,234.93 631.50,234.93 631.00,234.93 630.50,234.93 630.00,234.93 629.50,234.93 629.00,234.93 628.50,234.93 628.00,234.93 627.50,234.93 627.00,234.93 626.50,234.93 626.00,234.93 625.50,234.93 625.00,234.93 624.50,234.93 624.00,234.93 623.50,234.93 623.00,234.93 622.50,234.93 622.00,234.93 621.50,234.93 621.00,234.93 620.50,234.93 620.00,234.92 619.50,234.92 619.00,234.92 618.50,234.92 618.00,234.92 617.50,234.92 617.00,234.92 616.50,234.92 616.00,234.92 615.50,234.92 615.00,234.92 614.50,234.92 614.00,234.92 613.50,234.92 613.00,234.92 612.50,234.92 612.00,234.92 611.50,234.92 611.00,234.92 610.50,234.92 610.00,234.92 609.50,234.92 609.00,234.92 608.50,234.92 608.00,234.92 607.50,234.91 607.00,234.91 606.50,234.91 606.00,234.91 605.50,234.91 605.00,234.91 604.50,234.91 604.00,234.91 603.50,234.91 603.00,234.91 602.50,234.91 602.00,234.91 601.50,234.91 601.00,234.91 600.50,234.91 600.00,234.91 599.50,234.91 599.00,234.91 598.50,234.91 598.00,234.91 597.50,234.91 597.00,234.91 596.50,234.91 596.00,234.91 595.50,234.90 595.00,234.90 594.50,234.90 594.00,234.90 593.50,234.90 593.00,234.90 592.50,234.90 592.00,234.90 591.50,234.90 591.00,234.90 590.50,234.90 590.00,234.90 589.50,234.90 589.00,234.90 588.50,234.90 588.00,234.90 587.50,234.90 587.00,234.90 586.50,234.90 586.00,234.90 585.50,234.90 585.00,234.90 584.50,234.90 584.00,234.90 583.50,234.90 583.00,234.89 582.50,234.89 582.00,234.89 581.50,234.89 581.00,234.89 580.50,234.89 580.00,234.89 579.50,234.89 579.00,234.89 578.50,234.89 578.00,234.89 577.50,234.89 577.00,234.89 576.50,234.89 576.00,234.89 575.50,234.89 575.00,234.89 574.50,234.89 574.00,234.89 573.50,234.89 573.00,234.89 572.50,234.89 572.00,234.89 571.50,234.89 571.00,234.89 570.50,234.88 570.00,234.88 569.50,234.88 569.00,234.88 568.50,234.88 568.00,234.88 567.50,234.88 567.00,234.88 566.50,234.88 566.00,234.88 565.50,234.88 565.00,234.88 564.50,234.88 564.00,234.88 563.50,234.88 563.00,234.88 562.50,234.88 562.00,234.88 561.50,234.88 561.00,234.88 560.50,234.88 560.00,234.88 559.50,234.88 559.00,234.88 558.50,234.87 558.00,234.87 557.50,234.87 557.00,234.87 556.50,234.87 556.00,234.87 555.50,234.87 555.00,234.87 554.50,234.87 554.00,234.87 553.50,234.87 553.00,234.87 552.50,234.87 552.00,234.87 551.50,234.87 551.00,234.87 550.50,234.87 550.00,234.87 549.50,234.87 549.00,234.87 548.50,234.87 548.00,234.87 547.50,234.87 547.00,234.87 546.50,234.87 546.00,234.86 545.50,234.86 545.00,234.86 544.50,234.86 544.00,234.86 543.50,234.86 543.00,234.86 542.50,234.86 542.00,234.86 541.50,234.86 541.00,234.86 540.50,234.86 540.00,234.86 539.50,234.86 539.00,234.86 538.50,234.86 538.00,234.86 537.50,234.86 537.00,234.86 536.50,234.86 536.00,234.86 535.50,234.86 535.00,234.86 534.50,234.86 534.00,234.85 533.50,234.85 533.00,234.85 532.50,234.85 532.00,234.85 531.50,234.85 531.00,234.85 530.50,234.85 530.00,234.85 529.50,234.85 529.00,234.85 528.50,234.85 528.00,234.85 527.50,234.85 527.00,234.85 526.50,234.85 526.00,234.85 525.50,234.85 525.00,234.85 524.50,234.85 524.00,234.85 523.50,234.85 523.00,234.85 522.50,234.85 522.00,234.85 521.50,234.84 521.00,234.84 520.50,234.84 520.00,234.84 519.50,234.84 519.00,234.84 518.50,234.84 518.00,234.84 517.50,234.84 517.00,234.84 516.50,234.84 516.00,234.84 515.50,234.84 515.00,234.84 514.50,234.84 514.00,234.84 513.50,234.84 513.00,234.84 512.50,234.84 512.00,234.84 511.50,234.84 511.00,234.84 510.50,234.84 510.00,234.84 509.50,234.83 509.00,234.83 508.50,234.83 508.00,234.83 507.50,234.83 507.00,234.83 506.50,234.83 506.00,234.83 505.50,234.83 505.00,234.83 504.50,234.83 504.00,234.83 503.50,234.83 503.00,234.83 502.50,234.83 502.00,234.83 501.50,234.83 501.00,234.83 500.50,234.83 500.00,234.83 499.50,234.83 499.00,234.83 498.50,234.83 498.00,234.83 497.50,234.83 497.00,234.82 496.50,234.82 496.00,234.82 495.50,234.82 495.00,234.82 494.50,234.82 494.00,234.82 493.50,234.82 493.00,234.82 492.50,234.82 492.00,234.82 491.50,234.82 491.00,234.82 490.50,234.82 490.00,234.82 489.50,234.82 489.00,234.82 488.50,234.82 488.00,234.82 487.50,234.82 487.00,234.82 486.50,234.82 486.00,234.82 485.50,234.82 485.00,234.81 484.50,234.81 484.00,234.81 483.50,234.81 483.00,234.81 482.50,234.81 482.00,234.81 481.50,234.81 481.00,234.81 480.50,234.81 480.00,234.81 479.50,234.81 479.00,234.81 478.50,234.81 478.00,234.81 477.50,234.81 477.00,234.81 476.50,234.81 476.00,234.81 475.50,234.81 475.00,234.81 474.50,234.81 474.00,234.81 473.50,234.81 473.00,234.81 472.50,234.80 472.00,234.80 471.50,234.80 471.00,234.80 470.50,234.80 470.00,234.80 469.50,234.80 469.00,234.80 468.50,234.80 468.00,234.80 467.50,234.80 467.00,234.80 466.50,234.80 466.00,234.80 465.50,234.80 465.00,234.80 464.50,234.80 464.00,234.80 463.50,234.80 463.00,234.80 462.50,234.80 462.00,234.80 461.50,234.80 461.00,234.80 460.50,234.79 460.00,234.79 459.50,234.79 459.00,234.79 458.50,234.79 458.00,234.79 457.50,234.79 457.00,234.79 456.50,234.79 456.00,234.79 455.50,234.79 455.00,234.79 454.50,234.79 454.00,234.79 453.50,234.79 453.00,234.79 452.50,234.79 452.00,234.79 451.50,234.79 451.00,234.79 450.50,234.79 450.00,234.79 449.50,234.79 449.00,234.79 448.50,234.79 448.00,234.78 447.50,234.78 447.00,234.78 446.50,234.78 446.00,234.78 445.50,234.78 445.00,234.78 444.50,234.78 444.00,234.78 443.50,234.78 443.00,234.78 442.50,234.78 442.00,234.78 441.50,234.78 441.00,234.78 440.50,234.78 440.00,234.78 439.50,234.78 439.00,234.78 438.50,234.78 438.00,234.78 437.50,234.78 437.00,234.78 436.50,234.78 436.00,234.77 435.50,234.77 435.00,234.77 434.50,234.77 434.00,234.77 433.50,234.77 433.00,234.77 432.50,234.77 432.00,234.77 431.50,234.77 431.00,234.77 430.50,234.77 430.00,234.77 429.50,234.77 429.00,234.77 428.50,234.77 428.00,234.77 427.50,234.77 427.00,234.77 426.50,234.77 426.00,234.77 425.50,234.77 425.00,234.77 424.50,234.77 424.00,234.77 423.50,234.76 423.00,234.76 422.50,234.76 422.00,234.76 421.50,234.76 421.00,234.76 420.50,234.76 420.00,234.76 419.50,234.76 419.00,234.76 418.50,234.76 418.00,234.76 417.50,234.76 417.00,234.76 416.50,234.76 416.00,234.76 415.50,234.76 415.00,234.76 414.50,234.76 414.00,234.76 413.50,234.76 413.00,234.76 412.50,234.76 412.00,234.76 411.50,234.75 411.00,234.75 410.50,234.75 410.00,234.75 409.50,234.75 409.00,234.75 408.50,234.75 408.00,234.75 407.50,234.75 407.00,234.75 406.50,234.75 406.00,234.75 405.50,234.75 405.00,234.75 404.50,234.75 404.00,234.75 403.50,234.75 403.00,234.75 402.50,234.75 402.00,234.75 401.50,234.75 401.00,234.75 400.50,234.75 400.00,234.75 399.50,234.75 399.00,234.74 398.50,234.74 398.00,234.74 397.50,234.74 397.00,234.74 396.50,234.74 396.00,234.74 395.50,234.74 395.00,234.74 394.50,234.74 394.00,234.74 393.50,234.74 393.00,234.74 392.50,234.74 392.00,234.74 391.50,234.74 391.00,234.74 390.50,234.74 390.00,234.74 389.50,234.74 389.00,234.74 388.50,234.74 388.00,234.74 387.50,234.74 387.00,234.73 386.50,234.73 386.00,234.73 385.50,234.73 385.00,234.73 384.50,234.73 384.00,234.73 383.50,234.73 383.00,234.73 382.50,234.73 382.00,234.73 381.50,234.73 381.00,234.73 380.50,234.73 380.00,234.73 379.50,234.73 379.00,234.73 378.50,234.73 378.00,234.73 377.50,234.73 377.00,234.73 376.50,234.73 376.00,234.73 375.50,234.73 375.00,234.73 374.50,234.72 374.00,234.72 373.50,234.72 373.00,234.72 372.50,234.72 372.00,234.72 371.50,234.72 371.00,234.72 370.50,234.72 370.00,234.72 369.50,234.72 369.00,234.72 368.50,234.72 368.00,234.72 367.50,234.72 367.00,234.72 366.50,234.72 366.00,234.72 365.50,234.72 365.00,234.72 364.50,234.72 364.00,234.72 363.50,234.72 363.00,234.72 362.50,234.71 362.00,234.71 361.50,234.71 361.00,234.71 360.50,234.71 360.00,234.71 359.50,234.71 359.00,234.71 358.50,234.71 358.00,234.71 357.50,234.71 357.00,234.71 356.50,234.71 356.00,234.71 355.50,234.71 355.00,234.71 354.50,234.71 354.00,234.71 353.50,234.71 353.00,234.71 352.50,234.71 352.00,234.71 351.50,234.71 351.00,234.71 350.50,234.71 350.00,234.70 349.50,234.70 349.00,234.70 348.50,234.70 348.00,234.70 347.50,234.70 347.00,234.70 346.50,234.70 346.00,234.70 345.50,234.70 345.00,234.70 344.50,234.70 344.00,234.70 343.50,234.70 343.00,234.70 342.50,234.70 342.00,234.70 341.50,234.70 341.00,234.70 340.50,234.70 340.00,234.70 339.50,234.70 339.00,234.70 338.50,234.70 338.00,234.70 337.50,234.69 337.00,234.69 336.50,234.69 336.00,234.69 335.50,234.69 335.00,234.69 334.50,234.69 334.00,234.69 333.50,234.69 333.00,234.69 332.50,234.69 332.00,234.69 331.50,234.69 331.00,234.69 330.50,234.69 330.00,234.69 329.50,234.69 329.00,234.69 328.50,234.69 328.00,234.69 327.50,234.69 327.00,234.69 326.50,234.69 326.00,234.69 325.50,234.68 325.00,234.68 324.50,234.68 324.00,234.68 323.50,234.68 323.00,234.68 322.50,234.68 322.00,234.68 321.50,234.68 321.00,234.68 320.50,234.68 320.00,234.68 319.50,234.68 319.00,234.68 318.50,234.68 318.00,234.68 317.50,234.68 317.00,234.68 316.50,234.68 316.00,234.68 315.50,234.68 315.00,234.68 314.50,234.68 314.00,234.68 313.50,234.68 313.00,234.67 312.50,234.67 312.00,234.67 311.50,234.67 311.00,234.67 310.50,234.67 310.00,234.67 309.50,234.67 309.00,234.67 308.50,234.67 308.00,234.67 307.50,234.67 307.00,234.67 306.50,234.67 306.00,234.67 305.50,234.67 305.00,234.67 304.50,234.67 304.00,234.67 303.50,234.67 303.00,234.67 302.50,234.67 302.00,234.67 301.50,234.67 301.00,234.66 300.50,234.66 300.00,234.66 299.50,234.66 299.00,234.66 298.50,234.66 298.00,234.66 297.50,234.66 297.00,234.66 296.50,234.66 296.00,234.66 295.50,234.66 295.00,234.66 294.50,234.66 294.00,234.66 293.50,234.66 293.00,234.66 292.50,234.66 292.00,234.66 291.50,234.66 291.00,234.66 290.50,234.66 290.00,234.66 289.50,234.66 289.00,234.66 288.50,234.65 288.00,234.65 287.50,234.65 287.00,234.65 286.50,234.65 286.00,234.65 285.50,234.65 285.00,234.65 284.50,234.65 284.00,234.65 283.50,234.65 283.00,234.65 282.50,234.65 282.00,234.65 281.50,234.65 281.00,234.65 280.50,234.65 280.00,234.65 279.50,234.65 279.00,234.65 278.50,234.65 278.00,234.65 277.50,234.65 277.00,234.65 276.50,234.64 276.00,234.64 275.50,234.64 275.00,234.64 274.50,234.64 274.00,234.64 273.50,234.64 273.00,234.64 272.50,234.64 272.00,234.64 271.50,234.64 271.00,234.64 270.50,234.64 270.00,234.64 269.50,234.64 269.00,234.64 268.50,234.64 268.00,234.64 267.50,234.64 267.00,234.64 266.50,234.64 266.00,234.64 265.50,234.64 265.00,234.64 264.50,234.64 264.00,234.63 263.50,234.63 263.00,234.63 262.50,234.63 262.00,234.63 261.50,234.63 261.00,234.63 260.50,234.63 260.00,234.63 259.50,234.63 259.00,234.63 258.50,234.63 258.00,234.63 257.50,234.63 257.00,234.63 256.50,234.63 256.00,234.63 255.50,234.63 255.00,234.63 254.50,234.63 254.00,234.63 253.50,234.63 253.00,234.63 252.50,234.63 252.00,234.62 251.50,234.62 251.00,234.62 250.50,234.62 250.00,234.62 249.50,234.62 249.00,234.62 248.50,234.62 248.00,234.62 247.50,234.62 247.00,234.62 246.50,234.62 246.00,234.62 245.50,234.62 245.00,234.62 244.50,234.62 244.00,234.62 243.50,234.62 243.00,234.62 242.50,234.62 242.00,234.62 241.50,234.62 241.00,234.62 240.50,234.62 240.00,234.62 239.50,234.61 239.00,234.61 238.50,234.61 238.00,234.61 237.50,234.61 237.00,234.61 236.50,234.61 236.00,234.61 235.50,234.61 235.00,234.61 234.50,234.61 234.00,234.61 233.50,234.61 233.00,234.61 232.50,234.61 232.00,234.61 231.50,234.61 231.00,234.61 230.50,234.61 230.00,234.61 229.50,234.61 229.00,234.61 228.50,234.61 228.00,234.61 227.50,234.60 227.00,234.60 226.50,234.60 226.00,234.60 225.50,234.60 225.00,234.60 224.50,234.60 224.00,234.60 223.50,234.60 223.00,234.60 222.50,234.60 222.00,234.60 221.50,234.29 221.00,234.06 220.50,234.08 220.00,234.27 219.50,234.46 219.00,234.65 218.50,234.84 218.00,235.03 217.50,234.84 217.00,234.61 216.50,234.38 216.00,234.15 215.50,233.92 215.00,233.77 214.50,233.96 214.00,234.15 213.50,234.34 213.00,234.53 212.50,234.72 212.00,234.70 211.50,234.46 211.00,234.23 210.50,234.00 210.00,233.77 209.50,233.54 209.00,233.64 208.50,233.82 208.00,234.01 207.50,234.19 207.00,234.38 206.50,234.52 206.00,234.29 205.50,234.05 205.00,233.82 204.50,233.58 204.00,233.34 203.50,233.28 203.00,233.46 202.50,233.65 202.00,233.83 201.50,234.02 201.00,234.20 200.50,234.09 200.00,233.86 199.50,233.62 199.00,233.39 198.50,233.15 198.00,232.91 197.50,233.10 197.00,233.29 196.50,233.47 196.00,233.66 195.50,233.84 195.00,233.90 194.50,233.67 194.00,233.43 193.50,233.20 193.00,232.96 192.50,232.72 192.00,232.74 191.50,232.93 191.00,233.11 190.50,233.30 190.00,233.48 189.50,233.67 189.00,233.47 188.50,233.23 188.00,232.99 187.50,232.75 187.00,232.50 186.50,232.35 186.00,232.53 185.50,232.71 185.00,232.89 184.50,233.07 184.00,233.25 183.50,233.22 183.00,232.98 182.50,232.74 182.00,232.50 181.50,232.26 181.00,232.01 180.50,232.11 180.00,232.29 179.50,232.46 179.00,232.63 178.50,232.79 178.00,232.92 177.50,232.66 177.00,232.40 176.50,232.15 176.00,231.89 175.50,231.64 175.00,231.55 174.50,231.71 174.00,231.88 173.50,232.04 173.00,232.21 172.50,232.37 172.00,232.24 171.50,231.99 171.00,231.73 170.50,231.48 170.00,231.22 169.50,230.96 169.00,231.12 168.50,231.28 168.00,231.44 167.50,231.60 167.00,231.76 166.50,231.80 166.00,231.54 165.50,231.28 165.00,231.02 164.50,230.75 164.00,230.49 163.50,230.49 163.00,230.65 162.50,230.81 162.00,230.97 161.50,231.13 161.00,231.29 160.50,231.07 160.00,230.81 159.50,230.55 159.00,230.29 158.50,230.03 158.00,229.85 157.50,230.01 157.00,230.17 156.50,230.33 156.00,230.49 155.50,230.65 155.00,230.60 154.50,230.34 154.00,230.08 153.50,229.82 153.00,229.56 152.50,229.29 152.00,229.37 151.50,229.53 151.00,229.69 150.50,229.85 150.00,230.01 149.50,230.14 149.00,229.90 148.50,229.65 148.00,229.41 147.50,229.16 147.00,228.91 146.50,228.84 146.00,229.01 145.50,229.19 145.00,229.36 144.50,229.54 144.00,229.71 143.50,229.59 143.00,229.35 142.50,229.10 142.00,228.86 141.50,228.61 141.00,228.36 140.50,228.52 140.00,228.69 139.50,228.85 139.00,229.02 138.50,229.19 138.00,229.23 137.50,228.97 137.00,228.72 136.50,228.46 136.00,228.21 135.50,227.95 135.00,227.95 134.50,228.12 134.00,228.28 133.50,228.44 133.00,228.56 132.50,228.68 132.00,228.43 131.50,228.13 131.00,227.83 130.50,227.53 130.00,227.23 129.50,227.02 129.00,227.14 128.50,227.26 128.00,227.38 127.50,227.50 127.00,227.63 126.50,227.54 126.00,227.24 125.50,226.92 125.00,226.59 124.50,226.25 124.00,225.92 123.50,225.92 123.00,226.00 122.50,226.09 122.00,226.17 121.50,226.26 121.00,226.30 120.50,225.97 120.00,225.63 119.50,225.30 119.00,224.96 118.50,224.63 118.00,224.46 117.50,224.52 117.00,224.56 116.50,224.59 116.00,224.62 115.50,224.66 115.00,224.40 114.50,224.01 114.00,223.62 113.50,223.23 113.00,222.84 112.50,222.46 112.00,222.49 111.50,222.52 111.00,222.56 110.50,222.59 110.00,222.62 109.50,222.52 109.00,222.11 108.50,221.70 108.00,221.29 107.50,220.87 107.00,220.46 106.50,220.31 106.00,220.32 105.50,220.33 105.00,220.34 104.50,220.35 104.00,220.36 103.50,219.99 103.00,219.58 102.50,219.17 102.00,218.76 101.50,218.32 101.00,217.95 100.50,217.91 100.00,217.87 99.50,217.84 99.00,217.80 98.50,217.77 98.00,217.52 97.50,217.06 97.00,216.60 96.50,216.15 96.00,215.69 95.50,215.23 95.00,215.11 94.50,215.08 94.00,215.04 93.50,215.02 93.00,215.00 92.50,214.93 92.00,214.49 91.50,214.05 91.00,213.61 90.50,213.17 90.00,212.73 89.50,212.60 89.00,212.72 88.50,212.84 88.00,212.97 87.50,213.09 87.00,213.21 86.50,213.04 86.00,212.50 85.50,212.36 85.00,212.21 84.50,212.07 84.00,211.92 83.50,211.78 83.00,211.63 82.50,211.49 82.00,211.34 81.50,211.20" fill="#fff" stroke="#fff" stroke-width="1.4"/>
<g filter="url(#soft3)"><polygon points="81.50,211.20 82.00,211.07 82.50,210.93 83.00,210.80 83.50,210.67 84.00,210.53 84.50,210.40 85.00,210.27 85.50,210.13 86.00,210.00 86.50,209.47 87.00,209.31 87.50,209.45 88.00,209.58 88.50,209.72 89.00,209.86 89.50,209.99 90.00,209.87 90.50,209.46 91.00,209.04 91.50,208.63 92.00,208.21 92.50,207.80 93.00,207.76 93.50,207.76 94.00,207.76 94.50,207.72 95.00,207.67 95.50,207.55 96.00,207.08 96.50,206.62 97.00,206.16 97.50,205.69 98.00,205.23 98.50,204.98 99.00,204.93 99.50,204.89 100.00,204.85 100.50,204.81 101.00,204.76 101.50,204.38 102.00,203.95 102.50,203.57 103.00,203.18 103.50,202.79 104.00,202.45 104.50,202.49 105.00,202.52 105.50,202.56 106.00,202.59 106.50,202.63 107.00,202.50 107.50,202.11 108.00,201.72 108.50,201.34 109.00,200.95 109.50,200.57 110.00,200.48 110.50,200.52 111.00,200.56 111.50,200.60 112.00,200.64 112.50,200.68 113.00,200.30 113.50,199.91 114.00,199.53 114.50,199.15 115.00,198.77 115.50,198.52 116.00,198.55 116.50,198.59 117.00,198.63 117.50,198.67 118.00,198.74 118.50,198.57 119.00,198.24 119.50,197.90 120.00,197.57 120.50,197.23 121.00,196.90 121.50,196.94 122.00,197.03 122.50,197.11 123.00,197.20 123.50,197.28 124.00,197.28 124.50,196.95 125.00,196.61 125.50,196.28 126.00,195.96 126.50,195.64 127.00,195.54 127.50,195.65 128.00,195.76 128.50,195.87 129.00,195.98 129.50,196.09 130.00,195.86 130.50,195.55 131.00,195.24 131.50,194.93 132.00,194.61 132.50,194.34 133.00,194.45 133.50,194.56 134.00,194.69 134.50,194.83 135.00,194.96 135.50,194.93 136.00,194.64 136.50,194.35 137.00,194.07 137.50,193.78 138.00,193.49 138.50,193.50 139.00,193.64 139.50,193.77 140.00,193.91 140.50,194.04 141.00,194.18 141.50,193.89 142.00,193.63 142.50,193.37 143.00,193.12 143.50,192.86 144.00,192.73 144.50,192.89 145.00,193.05 145.50,193.22 146.00,193.38 146.50,193.55 147.00,193.46 147.50,193.20 148.00,192.94 148.50,192.68 149.00,192.43 149.50,192.17 150.00,192.29 150.50,192.43 151.00,192.58 151.50,192.72 152.00,192.87 152.50,192.93 153.00,192.65 153.50,192.38 154.00,192.10 154.50,191.82 155.00,191.55 155.50,191.48 156.00,191.63 156.50,191.77 157.00,191.92 157.50,192.06 158.00,192.21 158.50,192.02 159.00,191.74 159.50,191.46 160.00,191.19 160.50,190.95 161.00,190.74 161.50,190.92 162.00,191.10 162.50,191.27 163.00,191.45 163.50,191.62 164.00,191.63 164.50,191.38 165.00,191.14 165.50,190.89 166.00,190.65 166.50,190.40 167.00,190.45 167.50,190.63 168.00,190.80 168.50,190.98 169.00,191.15 169.50,191.33 170.00,191.08 170.50,190.83 171.00,190.58 171.50,190.33 172.00,190.08 172.50,189.95 173.00,190.12 173.50,190.29 174.00,190.46 174.50,190.63 175.00,190.80 175.50,190.72 176.00,190.47 176.50,190.22 177.00,189.97 177.50,189.72 178.00,189.47 178.50,189.59 179.00,189.76 179.50,189.93 180.00,190.11 180.50,190.30 181.00,190.40 181.50,190.16 182.00,189.93 182.50,189.69 183.00,189.45 183.50,189.22 184.00,189.19 184.50,189.38 185.00,189.56 185.50,189.75 186.00,189.93 186.50,190.12 187.00,189.97 187.50,189.73 188.00,189.50 188.50,189.26 189.00,189.02 189.50,188.83 190.00,189.01 190.50,189.19 191.00,189.36 191.50,189.54 192.00,189.71 192.50,189.72 193.00,189.47 193.50,189.23 194.00,188.98 194.50,188.74 195.00,188.49 195.50,188.54 196.00,188.72 196.50,188.89 197.00,189.07 197.50,189.24 198.00,189.42 198.50,189.17 199.00,188.93 199.50,188.68 200.00,188.45 200.50,188.22 201.00,188.11 201.50,188.30 202.00,188.49 202.50,188.68 203.00,188.87 203.50,189.06 204.00,189.00 204.50,188.77 205.00,188.54 205.50,188.31 206.00,188.08 206.50,187.85 207.00,187.99 207.50,188.18 208.00,188.38 208.50,188.57 209.00,188.76 209.50,188.86 210.00,188.63 210.50,188.41 211.00,188.18 211.50,187.95 212.00,187.72 212.50,187.71 213.00,187.90 213.50,188.10 214.00,188.29 214.50,188.48 215.00,188.68 215.50,188.53 216.00,188.31 216.50,188.08 217.00,187.85 217.50,187.62 218.00,187.44 218.50,187.63 219.00,187.83 219.50,188.02 220.00,188.21 220.50,188.41 221.00,188.43 221.50,188.21 222.00,187.90 222.50,187.90 223.00,187.90 223.50,187.90 224.00,187.90 224.50,187.90 225.00,187.90 225.50,187.90 226.00,187.90 226.50,187.90 227.00,187.90 227.50,187.90 228.00,187.90 228.50,187.90 229.00,187.90 229.50,187.90 230.00,187.90 230.50,187.90 231.00,187.90 231.50,187.90 232.00,187.90 232.50,187.90 233.00,187.90 233.50,187.90 234.00,187.89 234.50,187.89 235.00,187.89 235.50,187.89 236.00,187.89 236.50,187.89 237.00,187.89 237.50,187.89 238.00,187.89 238.50,187.89 239.00,187.89 239.50,187.89 240.00,187.89 240.50,187.89 241.00,187.89 241.50,187.89 242.00,187.89 242.50,187.89 243.00,187.89 243.50,187.89 244.00,187.89 244.50,187.89 245.00,187.89 245.50,187.89 246.00,187.89 246.50,187.89 247.00,187.89 247.50,187.89 248.00,187.89 248.50,187.89 249.00,187.89 249.50,187.89 250.00,187.89 250.50,187.89 251.00,187.89 251.50,187.89 252.00,187.89 252.50,187.89 253.00,187.89 253.50,187.89 254.00,187.89 254.50,187.89 255.00,187.89 255.50,187.89 256.00,187.89 256.50,187.89 257.00,187.89 257.50,187.89 258.00,187.89 258.50,187.88 259.00,187.88 259.50,187.88 260.00,187.88 260.50,187.88 261.00,187.88 261.50,187.88 262.00,187.88 262.50,187.88 263.00,187.88 263.50,187.88 264.00,187.88 264.50,187.88 265.00,187.88 265.50,187.88 266.00,187.88 266.50,187.88 267.00,187.88 267.50,187.88 268.00,187.88 268.50,187.88 269.00,187.88 269.50,187.88 270.00,187.88 270.50,187.88 271.00,187.88 271.50,187.88 272.00,187.88 272.50,187.88 273.00,187.88 273.50,187.88 274.00,187.88 274.50,187.88 275.00,187.88 275.50,187.88 276.00,187.88 276.50,187.88 277.00,187.88 277.50,187.88 278.00,187.88 278.50,187.88 279.00,187.88 279.50,187.88 280.00,187.88 280.50,187.88 281.00,187.88 281.50,187.88 282.00,187.88 282.50,187.88 283.00,187.87 283.50,187.87 284.00,187.87 284.50,187.87 285.00,187.87 285.50,187.87 286.00,187.87 286.50,187.87 287.00,187.87 287.50,187.87 288.00,187.87 288.50,187.87 289.00,187.87 289.50,187.87 290.00,187.87 290.50,187.87 291.00,187.87 291.50,187.87 292.00,187.87 292.50,187.87 293.00,187.87 293.50,187.87 294.00,187.87 294.50,187.87 295.00,187.87 295.50,187.87 296.00,187.87 296.50,187.87 297.00,187.87 297.50,187.87 298.00,187.87 298.50,187.87 299.00,187.87 299.50,187.87 300.00,187.87 300.50,187.87 301.00,187.87 301.50,187.87 302.00,187.87 302.50,187.87 303.00,187.87 303.50,187.87 304.00,187.87 304.50,187.87 305.00,187.87 305.50,187.87 306.00,187.87 306.50,187.87 307.00,187.87 307.50,187.86 308.00,187.86 308.50,187.86 309.00,187.86 309.50,187.86 310.00,187.86 310.50,187.86 311.00,187.86 311.50,187.86 312.00,187.86 312.50,187.86 313.00,187.86 313.50,187.86 314.00,187.86 314.50,187.86 315.00,187.86 315.50,187.86 316.00,187.86 316.50,187.86 317.00,187.86 317.50,187.86 318.00,187.86 318.50,187.86 319.00,187.86 319.50,187.86 320.00,187.86 320.50,187.86 321.00,187.86 321.50,187.86 322.00,187.86 322.50,187.86 323.00,187.86 323.50,187.86 324.00,187.86 324.50,187.86 325.00,187.86 325.50,187.86 326.00,187.86 326.50,187.86 327.00,187.86 327.50,187.86 328.00,187.86 328.50,187.86 329.00,187.86 329.50,187.86 330.00,187.86 330.50,187.86 331.00,187.86 331.50,187.86 332.00,187.85 332.50,187.85 333.00,187.85 333.50,187.85 334.00,187.85 334.50,187.85 335.00,187.85 335.50,187.85 336.00,187.85 336.50,187.85 337.00,187.85 337.50,187.85 338.00,187.85 338.50,187.85 339.00,187.85 339.50,187.85 340.00,187.85 340.50,187.85 341.00,187.85 341.50,187.85 342.00,187.85 342.50,187.85 343.00,187.85 343.50,187.85 344.00,187.85 344.50,187.85 345.00,187.85 345.50,187.85 346.00,187.85 346.50,187.85 347.00,187.85 347.50,187.85 348.00,187.85 348.50,187.85 349.00,187.85 349.50,187.85 350.00,187.85 350.50,187.85 351.00,187.85 351.50,187.85 352.00,187.85 352.50,187.85 353.00,187.85 353.50,187.85 354.00,187.85 354.50,187.85 355.00,187.85 355.50,187.85 356.00,187.85 356.50,187.84 357.00,187.84 357.50,187.84 358.00,187.84 358.50,187.84 359.00,187.84 359.50,187.84 360.00,187.84 360.50,187.84 361.00,187.84 361.50,187.84 362.00,187.84 362.50,187.84 363.00,187.84 363.50,187.84 364.00,187.84 364.50,187.84 365.00,187.84 365.50,187.84 366.00,187.84 366.50,187.84 367.00,187.84 367.50,187.84 368.00,187.84 368.50,187.84 369.00,187.84 369.50,187.84 370.00,187.84 370.50,187.84 371.00,187.84 371.50,187.84 372.00,187.84 372.50,187.84 373.00,187.84 373.50,187.84 374.00,187.84 374.50,187.84 375.00,187.84 375.50,187.84 376.00,187.84 376.50,187.84 377.00,187.84 377.50,187.84 378.00,187.84 378.50,187.84 379.00,187.84 379.50,187.84 380.00,187.84 380.50,187.84 381.00,187.83 381.50,187.83 382.00,187.83 382.50,187.83 383.00,187.83 383.50,187.83 384.00,187.83 384.50,187.83 385.00,187.83 385.50,187.83 386.00,187.83 386.50,187.83 387.00,187.83 387.50,187.83 388.00,187.83 388.50,187.83 389.00,187.83 389.50,187.83 390.00,187.83 390.50,187.83 391.00,187.83 391.50,187.83 392.00,187.83 392.50,187.83 393.00,187.83 393.50,187.83 394.00,187.83 394.50,187.83 395.00,187.83 395.50,187.83 396.00,187.83 396.50,187.83 397.00,187.83 397.50,187.83 398.00,187.83 398.50,187.83 399.00,187.83 399.50,187.83 400.00,187.83 400.50,187.83 401.00,187.83 401.50,187.83 402.00,187.83 402.50,187.83 403.00,187.83 403.50,187.83 404.00,187.83 404.50,187.83 405.00,187.83 405.50,187.82 406.00,187.82 406.50,187.82 407.00,187.82 407.50,187.82 408.00,187.82 408.50,187.82 409.00,187.82 409.50,187.82 410.00,187.82 410.50,187.82 411.00,187.82 411.50,187.82 412.00,187.82 412.50,187.82 413.00,187.82 413.50,187.82 414.00,187.82 414.50,187.82 415.00,187.82 415.50,187.82 416.00,187.82 416.50,187.82 417.00,187.82 417.50,187.82 418.00,187.82 418.50,187.82 419.00,187.82 419.50,187.82 420.00,187.82 420.50,187.82 421.00,187.82 421.50,187.82 422.00,187.82 422.50,187.82 423.00,187.82 423.50,187.82 424.00,187.82 424.50,187.82 425.00,187.82 425.50,187.82 426.00,187.82 426.50,187.82 427.00,187.82 427.50,187.82 428.00,187.82 428.50,187.82 429.00,187.82 429.50,187.82 430.00,187.81 430.50,187.81 431.00,187.81 431.50,187.81 432.00,187.81 432.50,187.81 433.00,187.81 433.50,187.81 434.00,187.81 434.50,187.81 435.00,187.81 435.50,187.81 436.00,187.81 436.50,187.81 437.00,187.81 437.50,187.81 438.00,187.81 438.50,187.81 439.00,187.81 439.50,187.81 440.00,187.81 440.50,187.81 441.00,187.81 441.50,187.81 442.00,187.81 442.50,187.81 443.00,187.81 443.50,187.81 444.00,187.81 444.50,187.81 445.00,187.81 445.50,187.81 446.00,187.81 446.50,187.81 447.00,187.81 447.50,187.81 448.00,187.81 448.50,187.81 449.00,187.81 449.50,187.81 450.00,187.81 450.50,187.81 451.00,187.81 451.50,187.81 452.00,187.81 452.50,187.81 453.00,187.81 453.50,187.81 454.00,187.81 454.50,187.80 455.00,187.80 455.50,187.80 456.00,187.80 456.50,187.80 457.00,187.80 457.50,187.80 458.00,187.80 458.50,187.80 459.00,187.80 459.50,187.80 460.00,187.80 460.50,187.80 461.00,187.80 461.50,187.80 462.00,187.80 462.50,187.80 463.00,187.80 463.50,187.80 464.00,187.80 464.50,187.80 465.00,187.80 465.50,187.80 466.00,187.80 466.50,187.80 467.00,187.80 467.50,187.80 468.00,187.80 468.50,187.80 469.00,187.80 469.50,187.80 470.00,187.80 470.50,187.80 471.00,187.80 471.50,187.80 472.00,187.80 472.50,187.80 473.00,187.80 473.50,187.80 474.00,187.80 474.50,187.80 475.00,187.80 475.50,187.80 476.00,187.80 476.50,187.80 477.00,187.80 477.50,187.80 478.00,187.80 478.50,187.80 479.00,187.80 479.50,187.79 480.00,187.79 480.50,187.79 481.00,187.79 481.50,187.79 482.00,187.79 482.50,187.79 483.00,187.79 483.50,187.79 484.00,187.79 484.50,187.79 485.00,187.79 485.50,187.79 486.00,187.79 486.50,187.79 487.00,187.79 487.50,187.79 488.00,187.79 488.50,187.79 489.00,187.79 489.50,187.79 490.00,187.79 490.50,187.79 491.00,187.79 491.50,187.79 492.00,187.79 492.50,187.79 493.00,187.79 493.50,187.79 494.00,187.79 494.50,187.79 495.00,187.79 495.50,187.79 496.00,187.79 496.50,187.79 497.00,187.79 497.50,187.79 498.00,187.79 498.50,187.79 499.00,187.79 499.50,187.79 500.00,187.79 500.50,187.79 501.00,187.79 501.50,187.79 502.00,187.79 502.50,187.79 503.00,187.79 503.50,187.79 504.00,187.78 504.50,187.78 505.00,187.78 505.50,187.78 506.00,187.78 506.50,187.78 507.00,187.78 507.50,187.78 508.00,187.78 508.50,187.78 509.00,187.78 509.50,187.78 510.00,187.78 510.50,187.78 511.00,187.78 511.50,187.78 512.00,187.78 512.50,187.78 513.00,187.78 513.50,187.78 514.00,187.78 514.50,187.78 515.00,187.78 515.50,187.78 516.00,187.78 516.50,187.78 517.00,187.78 517.50,187.78 518.00,187.78 518.50,187.78 519.00,187.78 519.50,187.78 520.00,187.78 520.50,187.78 521.00,187.78 521.50,187.78 522.00,187.78 522.50,187.78 523.00,187.78 523.50,187.78 524.00,187.78 524.50,187.78 525.00,187.78 525.50,187.78 526.00,187.78 526.50,187.78 527.00,187.78 527.50,187.78 528.00,187.78 528.50,187.77 529.00,187.77 529.50,187.77 530.00,187.77 530.50,187.77 531.00,187.77 531.50,187.77 532.00,187.77 532.50,187.77 533.00,187.77 533.50,187.77 534.00,187.77 534.50,187.77 535.00,187.77 535.50,187.77 536.00,187.77 536.50,187.77 537.00,187.77 537.50,187.77 538.00,187.77 538.50,187.77 539.00,187.77 539.50,187.77 540.00,187.77 540.50,187.77 541.00,187.77 541.50,187.77 542.00,187.77 542.50,187.77 543.00,187.77 543.50,187.77 544.00,187.77 544.50,187.77 545.00,187.77 545.50,187.77 546.00,187.77 546.50,187.77 547.00,187.77 547.50,187.77 548.00,187.77 548.50,187.77 549.00,187.77 549.50,187.77 550.00,187.77 550.50,187.77 551.00,187.77 551.50,187.77 552.00,187.77 552.50,187.77 553.00,187.76 553.50,187.76 554.00,187.76 554.50,187.76 555.00,187.76 555.50,187.76 556.00,187.76 556.50,187.76 557.00,187.76 557.50,187.76 558.00,187.76 558.50,187.76 559.00,187.76 559.50,187.76 560.00,187.76 560.50,187.76 561.00,187.76 561.50,187.76 562.00,187.76 562.50,187.76 563.00,187.76 563.50,187.76 564.00,187.76 564.50,187.76 565.00,187.76 565.50,187.76 566.00,187.76 566.50,187.76 567.00,187.76 567.50,187.76 568.00,187.76 568.50,187.76 569.00,187.76 569.50,187.76 570.00,187.76 570.50,187.76 571.00,187.76 571.50,187.76 572.00,187.76 572.50,187.76 573.00,187.76 573.50,187.76 574.00,187.76 574.50,187.76 575.00,187.76 575.50,187.76 576.00,187.76 576.50,187.76 577.00,187.76 577.50,187.75 578.00,187.75 578.50,187.75 579.00,187.75 579.50,187.75 580.00,187.75 580.50,187.75 581.00,187.75 581.50,187.75 582.00,187.75 582.50,187.75 583.00,187.75 583.50,187.75 584.00,187.75 584.50,187.75 585.00,187.75 585.50,187.75 586.00,187.75 586.50,187.75 587.00,187.75 587.50,187.75 588.00,187.75 588.50,187.75 589.00,187.75 589.50,187.75 590.00,187.75 590.50,187.75 591.00,187.75 591.50,187.75 592.00,187.75 592.50,187.75 593.00,187.75 593.50,187.75 594.00,187.75 594.50,187.75 595.00,187.75 595.50,187.75 596.00,187.75 596.50,187.75 597.00,187.75 597.50,187.75 598.00,187.75 598.50,187.75 599.00,187.75 599.50,187.75 600.00,187.75 600.50,187.75 601.00,187.75 601.50,187.75 602.00,187.74 602.50,187.74 603.00,187.74 603.50,187.74 604.00,187.74 604.50,187.74 605.00,187.74 605.50,187.74 606.00,187.74 606.50,187.74 607.00,187.74 607.50,187.74 608.00,187.74 608.50,187.74 609.00,187.74 609.50,187.74 610.00,187.74 610.50,187.74 611.00,187.74 611.50,187.74 612.00,187.74 612.50,187.74 613.00,187.74 613.50,187.74 614.00,187.74 614.50,187.74 615.00,187.74 615.50,187.74 616.00,187.74 616.50,187.74 617.00,187.74 617.50,187.74 618.00,187.74 618.50,187.74 619.00,187.74 619.50,187.74 620.00,187.74 620.50,187.74 621.00,187.74 621.50,187.74 622.00,187.74 622.50,187.74 623.00,187.74 623.50,187.74 624.00,187.74 624.50,187.74 625.00,187.74 625.50,187.74 626.00,187.74 626.50,187.73 627.00,187.73 627.50,187.73 628.00,187.73 628.50,187.73 629.00,187.73 629.50,187.73 630.00,187.73 630.50,187.73 631.00,187.73 631.50,187.73 632.00,187.73 632.50,187.73 633.00,187.73 633.50,187.73 634.00,187.73 634.50,187.73 635.00,187.73 635.50,187.73 636.00,187.73 636.50,187.73 637.00,187.73 637.50,187.73 638.00,187.73 638.50,187.73 639.00,187.73 639.50,187.73 640.00,187.73 640.50,187.73 641.00,187.73 641.50,187.73 642.00,187.73 642.50,187.73 643.00,187.73 643.50,187.73 644.00,187.73 644.50,187.73 645.00,187.73 645.50,187.73 646.00,187.73 646.50,187.73 647.00,187.73 647.50,187.73 648.00,187.73 648.50,187.73 649.00,187.73 649.50,187.73 650.00,187.73 650.50,187.73 651.00,187.72 651.50,187.72 652.00,187.72 652.50,187.72 653.00,187.72 653.50,187.72 654.00,187.72 654.50,187.72 655.00,187.72 655.50,187.72 656.00,187.72 656.50,187.72 657.00,187.72 657.50,187.72 658.00,187.72 658.50,187.72 659.00,187.72 659.50,187.72 660.00,187.72 660.50,187.72 661.00,187.72 661.50,187.72 662.00,187.72 662.50,187.72 663.00,187.72 663.50,187.72 664.00,187.72 664.50,187.72 665.00,187.72 665.50,187.72 666.00,187.72 666.50,187.72 667.00,187.72 667.50,187.72 668.00,187.72 668.50,187.72 669.00,187.72 669.50,187.72 670.00,187.72 670.50,187.72 671.00,187.72 671.50,187.72 672.00,187.72 672.50,187.72 673.00,187.72 673.50,187.72 674.00,187.72 674.50,187.72 675.00,187.72 675.50,187.71 676.00,187.71 676.50,187.71 677.00,187.71 677.50,187.71 678.00,187.71 678.50,187.71 679.00,187.71 679.50,187.71 680.00,187.71 680.50,187.71 681.00,187.71 681.50,187.71 682.00,187.71 682.50,187.71 683.00,187.71 683.50,187.71 684.00,187.71 684.50,187.71 685.00,187.71 685.50,187.71 686.00,187.71 686.50,187.71 687.00,187.71 687.50,187.71 688.00,187.71 688.50,187.71 689.00,187.71 689.50,187.71 690.00,187.71 690.50,187.71 691.00,187.71 691.50,187.71 692.00,187.71 692.50,187.71 693.00,187.71 693.50,187.71 694.00,187.71 694.50,187.71 695.00,187.71 695.50,187.71 696.00,187.71 696.50,187.71 697.00,187.71 697.50,187.71 698.00,187.71 698.50,187.71 699.00,187.71 699.50,187.71 700.00,187.70 700.50,187.70 701.00,187.70 701.50,187.70 702.00,187.70 702.50,187.70 703.00,187.70 703.50,187.70 704.00,187.70 704.50,187.70 705.00,187.70 705.50,187.70 706.00,187.70 706.50,187.70 707.00,187.70 707.50,187.70 708.00,187.70 708.50,187.70 709.00,187.70 709.50,187.70 710.00,187.70 710.50,187.70 711.00,187.70 711.50,187.70 712.00,187.70 712.50,187.97 713.00,188.25 713.50,188.53 714.00,188.80 714.50,188.80 715.00,188.80 715.50,188.81 716.00,188.81 716.50,188.81 717.00,188.81 717.50,188.81 718.00,188.82 718.50,188.82 719.00,188.82 719.50,188.82 720.00,188.82 720.50,188.83 721.00,188.83 721.50,188.83 722.00,188.83 722.50,188.83 723.00,188.84 723.50,188.84 724.00,188.84 724.50,188.84 725.00,188.84 725.50,188.85 726.00,188.85 726.50,188.85 727.00,188.85 727.50,188.85 728.00,188.86 728.50,188.86 729.00,188.86 729.50,188.86 730.00,188.86 730.50,188.87 731.00,188.87 731.50,188.87 732.00,188.87 732.50,188.87 733.00,188.88 733.50,188.88 734.00,188.88 734.50,188.88 735.00,188.89 735.50,188.89 736.00,188.89 736.50,188.89 737.00,188.89 737.50,188.90 738.00,188.90 738.50,188.90 739.00,188.90 739.50,188.90 740.00,188.91 740.50,188.91 741.00,188.91 741.50,188.91 742.00,188.91 742.50,188.92 743.00,188.92 743.50,188.92 744.00,188.92 744.50,188.92 745.00,188.93 745.50,188.93 746.00,188.93 746.50,188.93 747.00,188.93 747.50,188.94 748.00,188.94 748.50,188.94 749.00,188.94 749.50,188.94 750.00,188.95 750.50,188.95 751.00,188.95 751.50,188.95 752.00,188.95 752.50,188.96 753.00,188.96 753.50,188.96 754.00,188.96 754.50,188.96 755.00,188.97 755.50,188.97 756.00,188.97 756.50,188.97 757.00,188.97 757.50,188.98 758.00,188.98 758.50,188.98 759.00,188.98 759.50,188.98 760.00,188.99 760.50,188.99 761.00,188.99 761.50,188.99 762.00,188.99 762.50,189.00 763.00,189.00 763.50,188.90 764.00,188.38 764.50,187.86 765.00,187.35 765.50,186.83 766.00,186.31 766.50,185.82 767.00,185.42 767.50,185.01 768.00,184.61 768.50,184.21 769.00,183.81 769.50,183.40 770.00,183.00 770.50,182.76 771.00,182.53 771.50,182.29 772.00,182.06 772.50,181.82 773.00,181.58 773.50,181.35 774.00,181.11 774.50,180.88 775.00,180.64 775.50,180.45 776.00,180.32 776.50,180.20 777.00,180.07 777.50,179.95 778.00,179.82 778.50,179.69 779.00,179.57 779.50,179.44 780.00,179.32 780.50,179.19 781.00,179.06 781.50,178.94 782.00,178.81 782.50,178.68 783.00,178.56 783.50,178.43 784.00,178.31 784.50,178.18 785.00,178.05 785.50,177.93 786.00,177.80 786.50,177.68 787.00,177.55 787.50,177.47 788.00,177.43 788.50,177.39 789.00,177.35 789.50,177.31 790.00,177.26 790.50,177.22 791.00,177.18 791.50,177.14 792.00,177.10 792.50,177.05 793.00,177.01 793.50,176.97 794.00,176.93 794.50,176.88 795.00,176.84 795.50,176.80 796.00,176.76 796.50,176.72 797.00,176.67 797.50,176.63 798.00,176.59 798.50,176.55 799.00,176.51 799.50,176.46 800.00,176.42 800.50,176.38 801.00,176.34 801.50,176.29 802.00,176.25 802.50,176.21 803.00,176.17 803.50,176.13 804.00,176.08 804.50,176.04 805.00,176.00 805.50,176.02 806.00,176.03 806.50,176.05 807.00,176.07 807.50,176.08 808.00,176.10 808.50,176.12 809.00,176.13 809.50,176.15 810.00,176.17 810.50,176.18 811.00,176.20 811.50,176.22 812.00,176.23 812.50,176.25 813.00,176.27 813.50,176.28 814.00,176.30 814.50,176.32 815.00,176.33 815.50,176.35 816.00,176.37 816.50,176.38 817.00,176.40 817.50,176.42 818.00,176.43 818.50,176.45 819.00,176.47 819.50,176.48 820.00,176.50 820.50,176.52 821.00,176.53 821.50,176.55 822.00,176.57 822.50,176.58 823.00,176.60 823.50,176.66 824.00,176.73 824.50,176.79 825.00,176.86 825.50,176.92 826.00,176.99 826.50,177.05 827.00,177.11 827.50,177.18 828.00,177.24 828.50,177.31 829.00,177.37 829.50,177.44 830.00,177.50 830.50,177.56 831.00,177.63 831.50,177.69 832.00,177.76 832.50,177.82 833.00,177.88 833.50,177.95 834.00,178.01 834.50,178.08 835.00,178.14 835.50,178.21 836.00,178.27 836.50,178.33 837.00,178.40 837.50,178.46 838.00,178.53 838.50,178.59 839.00,178.66 839.50,178.72 840.00,178.78 840.50,178.85 841.00,178.92 841.50,179.02 842.00,179.13 842.50,179.23 843.00,179.34 843.50,179.44 844.00,179.54 844.50,179.65 845.00,179.75 845.50,179.86 846.00,179.96 846.50,180.06 847.00,180.17 847.50,180.27 848.00,180.38 848.50,180.48 849.00,180.58 849.50,180.69 850.00,180.79 850.50,180.90 851.00,181.00 851.50,181.10 852.00,181.21 852.50,181.31 853.00,181.42 853.50,181.52 854.00,181.62 854.50,181.73 855.00,181.83 855.50,181.93 856.00,182.04 856.50,182.14 857.00,182.25 857.50,182.35 858.00,182.45 858.50,182.56 859.00,182.69 859.50,182.85 860.00,183.01 860.50,183.17 861.00,183.33 861.50,183.48 862.00,183.64 862.50,183.80 863.00,183.96 863.50,184.11 864.00,184.27 864.50,184.43 865.00,184.59 865.50,184.74 866.00,184.90 866.50,185.06 867.00,185.22 867.50,185.38 868.00,185.53 868.50,185.69 869.00,185.85 869.50,186.01 870.00,186.16 870.50,186.32 871.00,186.48 871.50,186.64 872.00,186.80 872.50,186.95 873.00,187.11 873.50,187.27 874.00,187.46 874.50,187.66 875.00,187.86 875.50,188.07 876.00,188.27 876.50,188.47 877.00,188.67 877.50,188.87 878.00,189.07 878.50,189.27 879.00,189.47 879.50,189.68 880.00,189.88 880.50,190.08 881.00,190.28 881.50,190.48 882.00,190.68 882.50,190.88 883.00,191.09 883.50,191.29 884.00,191.49 884.50,191.69 885.00,191.89 885.50,192.09 886.00,192.29 886.50,192.49 887.00,192.70 887.50,192.90 888.00,193.10 888.50,193.30 889.00,193.40 889.50,193.50 890.00,193.60 890.50,193.60 891.00,193.60 891.50,193.60 892.00,193.60 892.50,193.60 893.00,193.60 893.50,193.60 894.00,193.60 894.50,193.60 895.00,193.60 895.50,193.60 896.00,193.60 896.50,193.60 897.00,193.60 897.50,193.60 898.00,193.60 898.50,193.60 899.00,193.60 899.50,193.60 900.00,193.60 900.50,193.60 901.00,193.60 901.50,193.60 902.00,193.60 902.50,193.60 903.00,193.60 903.50,193.60 904.00,193.60 904.50,193.60 905.00,193.60 905.50,193.60 906.00,193.60 906.50,193.60 907.00,193.60 907.50,193.60 908.00,193.60 908.50,193.60 909.00,193.60 909.50,193.60 910.00,193.60 910.50,193.60 911.00,193.60 911.50,193.60 912.00,193.60 912.50,193.60 913.00,193.60 913.50,193.60 914.00,193.60 914.50,193.60 915.00,193.60 915.50,193.60 916.00,193.60 916.50,193.60 917.00,193.60 917.50,193.60 918.00,193.60 918.50,193.60 919.00,193.60 919.50,193.60 920.00,193.60 920.50,193.60 921.00,193.60 921.50,193.60 922.00,193.60 922.50,193.60 923.00,193.60 923.50,193.60 924.00,193.60 924.50,193.60 925.00,193.60 925.50,193.60 926.00,193.60 926.50,193.60 927.00,193.60 927.50,193.60 928.00,193.60 928.50,193.60 929.00,193.60 929.50,193.60 930.00,193.60 930.50,193.60 931.00,193.60 931.50,193.60 932.00,193.60 932.50,193.60 933.00,193.60 933.50,193.60 934.00,193.60 934.50,193.60 935.00,193.60 935.50,193.60 936.00,193.60 936.50,193.60 937.00,193.60 937.50,193.60 938.00,193.60 938.50,193.60 939.00,193.60 939.50,193.60 940.00,193.60 940.50,193.60 941.00,193.60 941.50,193.60 942.00,193.60 942.50,193.60 943.00,193.60 943.50,193.60 944.00,193.60 944.50,193.60 945.00,193.60 945.50,193.60 946.00,193.60 946.50,193.60 947.00,193.60 947.50,193.60 948.00,193.60 948.50,193.60 949.00,193.60 949.50,193.60 950.00,193.60 950.50,193.60 951.00,193.60 951.50,193.60 952.00,193.60 952.50,193.60 953.00,193.60 953.50,193.60 954.00,193.60 954.50,193.60 955.00,193.60 955.50,193.60 956.00,193.60 956.50,193.60 957.00,193.60 957.50,193.60 958.00,193.60 958.50,193.60 959.00,193.60 959.50,193.60 960.00,193.60 960.50,193.60 961.00,193.60 961.50,193.60 962.00,193.60 962.50,193.60 963.00,193.60 963.50,193.60 964.00,193.60 964.50,193.60 965.00,193.60 965.50,193.60 966.00,193.60 966.50,193.60 967.00,193.60 967.50,193.60 968.00,193.60 968.50,193.60 969.00,193.60 969.50,193.60 970.00,193.60 970.50,193.60 971.00,193.60 971.50,193.60 972.00,193.60 972.50,193.60 973.00,193.60 973.50,193.60 974.00,193.60 974.50,193.60 975.00,193.60 975.50,193.60 976.00,193.60 976.50,193.60 977.00,193.60 977.50,193.60 978.00,193.60 978.50,193.60 979.00,193.60 979.50,193.60 980.00,193.60 980.50,193.60 981.00,193.60 981.00,229.50 980.50,229.50 980.00,229.50 979.50,229.50 979.00,229.50 978.50,229.50 978.00,229.50 977.50,229.50 977.00,229.50 976.50,229.50 976.00,229.50 975.50,229.50 975.00,229.50 974.50,229.50 974.00,229.50 973.50,229.50 973.00,229.50 972.50,229.50 972.00,229.50 971.50,229.50 971.00,229.50 970.50,229.50 970.00,229.50 969.50,229.50 969.00,229.50 968.50,229.50 968.00,229.50 967.50,229.50 967.00,229.50 966.50,229.50 966.00,229.50 965.50,229.50 965.00,229.50 964.50,229.50 964.00,229.50 963.50,229.50 963.00,229.50 962.50,229.50 962.00,229.50 961.50,229.50 961.00,229.50 960.50,229.50 960.00,229.50 959.50,229.50 959.00,229.50 958.50,229.50 958.00,229.50 957.50,229.50 957.00,229.50 956.50,229.50 956.00,229.50 955.50,229.50 955.00,229.50 954.50,229.50 954.00,229.50 953.50,229.50 953.00,229.50 952.50,229.50 952.00,229.50 951.50,229.50 951.00,229.50 950.50,229.50 950.00,229.50 949.50,229.50 949.00,229.50 948.50,229.50 948.00,229.50 947.50,229.50 947.00,229.50 946.50,229.50 946.00,229.50 945.50,229.50 945.00,229.50 944.50,229.50 944.00,229.50 943.50,229.50 943.00,229.50 942.50,229.50 942.00,229.50 941.50,229.50 941.00,229.50 940.50,229.50 940.00,229.50 939.50,229.50 939.00,229.50 938.50,229.50 938.00,229.50 937.50,229.50 937.00,229.50 936.50,229.50 936.00,229.50 935.50,229.50 935.00,229.50 934.50,229.50 934.00,229.50 933.50,229.50 933.00,229.50 932.50,229.50 932.00,229.50 931.50,229.50 931.00,229.50 930.50,229.50 930.00,229.50 929.50,229.50 929.00,229.50 928.50,229.50 928.00,229.50 927.50,229.50 927.00,229.50 926.50,229.50 926.00,229.50 925.50,229.50 925.00,229.50 924.50,229.50 924.00,229.50 923.50,229.50 923.00,229.50 922.50,229.50 922.00,229.50 921.50,229.50 921.00,229.50 920.50,229.50 920.00,229.50 919.50,229.50 919.00,229.50 918.50,229.50 918.00,229.50 917.50,229.50 917.00,229.50 916.50,229.50 916.00,229.50 915.50,229.50 915.00,229.50 914.50,229.50 914.00,229.50 913.50,229.50 913.00,229.50 912.50,229.50 912.00,229.50 911.50,229.50 911.00,229.50 910.50,229.50 910.00,229.50 909.50,229.50 909.00,229.50 908.50,229.50 908.00,229.50 907.50,229.50 907.00,229.50 906.50,229.50 906.00,229.50 905.50,229.50 905.00,229.50 904.50,229.50 904.00,229.50 903.50,229.50 903.00,229.50 902.50,229.50 902.00,229.50 901.50,229.50 901.00,229.50 900.50,229.50 900.00,229.50 899.50,229.50 899.00,229.50 898.50,229.50 898.00,229.50 897.50,229.50 897.00,229.50 896.50,229.50 896.00,229.50 895.50,229.50 895.00,229.50 894.50,229.50 894.00,229.50 893.50,229.50 893.00,229.50 892.50,229.50 892.00,229.50 891.50,229.50 891.00,229.50 890.50,229.50 890.00,229.50 889.50,229.53 889.00,229.57 888.50,229.60 888.00,229.73 887.50,229.86 887.00,229.99 886.50,230.12 886.00,230.25 885.50,230.38 885.00,230.51 884.50,230.64 884.00,230.76 883.50,230.89 883.00,231.02 882.50,231.15 882.00,231.28 881.50,231.41 881.00,231.54 880.50,231.67 880.00,231.80 879.50,231.94 879.00,232.09 878.50,232.23 878.00,232.37 877.50,232.52 877.00,232.66 876.50,232.81 876.00,232.95 875.50,233.09 875.00,233.24 874.50,233.38 874.00,233.52 873.50,233.67 873.00,233.81 872.50,233.95 872.00,234.10 871.50,234.24 871.00,234.39 870.50,234.53 870.00,234.67 869.50,234.81 869.00,234.95 868.50,235.09 868.00,235.24 867.50,235.38 867.00,235.52 866.50,235.66 866.00,235.80 865.50,235.94 865.00,236.08 864.50,236.23 864.00,236.37 863.50,236.51 863.00,236.65 862.50,236.79 862.00,236.93 861.50,237.08 861.00,237.22 860.50,237.36 860.00,237.50 859.50,237.62 859.00,237.75 858.50,237.88 858.00,238.00 857.50,238.12 857.00,238.25 856.50,238.38 856.00,238.50 855.50,238.62 855.00,238.75 854.50,238.88 854.00,239.00 853.50,239.12 853.00,239.25 852.50,239.38 852.00,239.50 851.50,239.62 851.00,239.75 850.50,239.88 850.00,240.00 849.50,240.12 849.00,240.25 848.50,240.38 848.00,240.50 847.50,240.62 847.00,240.75 846.50,240.86 846.00,240.95 845.50,241.04 845.00,241.14 844.50,241.23 844.00,241.32 843.50,241.42 843.00,241.51 842.50,241.61 842.00,241.70 841.50,241.79 841.00,241.89 840.50,241.98 840.00,242.07 839.50,242.17 839.00,242.26 838.50,242.36 838.00,242.45 837.50,242.54 837.00,242.64 836.50,242.73 836.00,242.82 835.50,242.92 835.00,243.01 834.50,243.11 834.00,243.20 833.50,243.27 833.00,243.35 832.50,243.42 832.00,243.49 831.50,243.56 831.00,243.64 830.50,243.71 830.00,243.78 829.50,243.85 829.00,243.93 828.50,244.00 828.00,244.07 827.50,244.15 827.00,244.22 826.50,244.29 826.00,244.36 825.50,244.44 825.00,244.51 824.50,244.58 824.00,244.65 823.50,244.73 823.00,244.80 822.50,244.85 822.00,244.89 821.50,244.94 821.00,244.98 820.50,245.03 820.00,245.07 819.50,245.12 819.00,245.16 818.50,245.21 818.00,245.25 817.50,245.30 817.00,245.35 816.50,245.39 816.00,245.44 815.50,245.48 815.00,245.53 814.50,245.57 814.00,245.62 813.50,245.66 813.00,245.71 812.50,245.75 812.00,245.80 811.50,245.81 811.00,245.82 810.50,245.82 810.00,245.83 809.50,245.84 809.00,245.85 808.50,245.85 808.00,245.86 807.50,245.87 807.00,245.88 806.50,245.88 806.00,245.89 805.50,245.90 805.00,245.91 804.50,245.92 804.00,245.92 803.50,245.93 803.00,245.94 802.50,245.95 802.00,245.95 801.50,245.96 801.00,245.97 800.50,245.98 800.00,245.98 799.50,245.99 799.00,246.00 798.50,245.96 798.00,245.93 797.50,245.89 797.00,245.85 796.50,245.82 796.00,245.78 795.50,245.75 795.00,245.71 794.50,245.67 794.00,245.64 793.50,245.60 793.00,245.56 792.50,245.53 792.00,245.49 791.50,245.45 791.00,245.42 790.50,245.38 790.00,245.35 789.50,245.31 789.00,245.27 788.50,245.24 788.00,245.20 787.50,245.09 787.00,244.98 786.50,244.87 786.00,244.76 785.50,244.65 785.00,244.54 784.50,244.43 784.00,244.32 783.50,244.21 783.00,244.10 782.50,243.99 782.00,243.88 781.50,243.77 781.00,243.66 780.50,243.55 780.00,243.44 779.50,243.33 779.00,243.22 778.50,243.11 778.00,243.00 777.50,242.82 777.00,242.64 776.50,242.46 776.00,242.29 775.50,242.11 775.00,241.93 774.50,241.75 774.00,241.57 773.50,241.39 773.00,241.21 772.50,241.04 772.00,240.86 771.50,240.68 771.00,240.50 770.50,240.21 770.00,239.92 769.50,239.63 769.00,239.34 768.50,239.05 768.00,238.76 767.50,238.47 767.00,238.18 766.50,237.89 766.00,237.60 765.50,236.87 765.00,236.14 764.50,235.41 764.00,234.68 763.50,233.95 763.00,233.80 762.50,233.80 762.00,233.81 761.50,233.81 761.00,233.81 760.50,233.81 760.00,233.81 759.50,233.82 759.00,233.82 758.50,233.82 758.00,233.82 757.50,233.82 757.00,233.83 756.50,233.83 756.00,233.83 755.50,233.83 755.00,233.83 754.50,233.84 754.00,233.84 753.50,233.84 753.00,233.84 752.50,233.84 752.00,233.85 751.50,233.85 751.00,233.85 750.50,233.85 750.00,233.85 749.50,233.86 749.00,233.86 748.50,233.86 748.00,233.86 747.50,233.86 747.00,233.87 746.50,233.87 746.00,233.87 745.50,233.87 745.00,233.87 744.50,233.88 744.00,233.88 743.50,233.88 743.00,233.88 742.50,233.88 742.00,233.89 741.50,233.89 741.00,233.89 740.50,233.89 740.00,233.89 739.50,233.90 739.00,233.90 738.50,233.90 738.00,233.90 737.50,233.90 737.00,233.91 736.50,233.91 736.00,233.91 735.50,233.91 735.00,233.91 734.50,233.92 734.00,233.92 733.50,233.92 733.00,233.92 732.50,233.93 732.00,233.93 731.50,233.93 731.00,233.93 730.50,233.93 730.00,233.94 729.50,233.94 729.00,233.94 728.50,233.94 728.00,233.94 727.50,233.95 727.00,233.95 726.50,233.95 726.00,233.95 725.50,233.95 725.00,233.96 724.50,233.96 724.00,233.96 723.50,233.96 723.00,233.96 722.50,233.97 722.00,233.97 721.50,233.97 721.00,233.97 720.50,233.97 720.00,233.98 719.50,233.98 719.00,233.98 718.50,233.98 718.00,233.98 717.50,233.99 717.00,233.99 716.50,233.99 716.00,233.99 715.50,233.99 715.00,234.00 714.50,234.00 714.00,234.00 713.50,234.25 713.00,234.50 712.50,234.75 712.00,235.00 711.50,235.00 711.00,235.00 710.50,235.00 710.00,235.00 709.50,235.00 709.00,235.00 708.50,235.00 708.00,235.00 707.50,235.00 707.00,235.00 706.50,235.00 706.00,235.00 705.50,234.99 705.00,234.99 704.50,234.99 704.00,234.99 703.50,234.99 703.00,234.99 702.50,234.99 702.00,234.99 701.50,234.99 701.00,234.99 700.50,234.99 700.00,234.99 699.50,234.99 699.00,234.99 698.50,234.99 698.00,234.99 697.50,234.99 697.00,234.99 696.50,234.99 696.00,234.99 695.50,234.99 695.00,234.99 694.50,234.99 694.00,234.99 693.50,234.98 693.00,234.98 692.50,234.98 692.00,234.98 691.50,234.98 691.00,234.98 690.50,234.98 690.00,234.98 689.50,234.98 689.00,234.98 688.50,234.98 688.00,234.98 687.50,234.98 687.00,234.98 686.50,234.98 686.00,234.98 685.50,234.98 685.00,234.98 684.50,234.98 684.00,234.98 683.50,234.98 683.00,234.98 682.50,234.98 682.00,234.98 681.50,234.98 681.00,234.97 680.50,234.97 680.00,234.97 679.50,234.97 679.00,234.97 678.50,234.97 678.00,234.97 677.50,234.97 677.00,234.97 676.50,234.97 676.00,234.97 675.50,234.97 675.00,234.97 674.50,234.97 674.00,234.97 673.50,234.97 673.00,234.97 672.50,234.97 672.00,234.97 671.50,234.97 671.00,234.97 670.50,234.97 670.00,234.97 669.50,234.97 669.00,234.96 668.50,234.96 668.00,234.96 667.50,234.96 667.00,234.96 666.50,234.96 666.00,234.96 665.50,234.96 665.00,234.96 664.50,234.96 664.00,234.96 663.50,234.96 663.00,234.96 662.50,234.96 662.00,234.96 661.50,234.96 661.00,234.96 660.50,234.96 660.00,234.96 659.50,234.96 659.00,234.96 658.50,234.96 658.00,234.96 657.50,234.96 657.00,234.96 656.50,234.95 656.00,234.95 655.50,234.95 655.00,234.95 654.50,234.95 654.00,234.95 653.50,234.95 653.00,234.95 652.50,234.95 652.00,234.95 651.50,234.95 651.00,234.95 650.50,234.95 650.00,234.95 649.50,234.95 649.00,234.95 648.50,234.95 648.00,234.95 647.50,234.95 647.00,234.95 646.50,234.95 646.00,234.95 645.50,234.95 645.00,234.95 644.50,234.94 644.00,234.94 643.50,234.94 643.00,234.94 642.50,234.94 642.00,234.94 641.50,234.94 641.00,234.94 640.50,234.94 640.00,234.94 639.50,234.94 639.00,234.94 638.50,234.94 638.00,234.94 637.50,234.94 637.00,234.94 636.50,234.94 636.00,234.94 635.50,234.94 635.00,234.94 634.50,234.94 634.00,234.94 633.50,234.94 633.00,234.94 632.50,234.94 632.00,234.93 631.50,234.93 631.00,234.93 630.50,234.93 630.00,234.93 629.50,234.93 629.00,234.93 628.50,234.93 628.00,234.93 627.50,234.93 627.00,234.93 626.50,234.93 626.00,234.93 625.50,234.93 625.00,234.93 624.50,234.93 624.00,234.93 623.50,234.93 623.00,234.93 622.50,234.93 622.00,234.93 621.50,234.93 621.00,234.93 620.50,234.93 620.00,234.92 619.50,234.92 619.00,234.92 618.50,234.92 618.00,234.92 617.50,234.92 617.00,234.92 616.50,234.92 616.00,234.92 615.50,234.92 615.00,234.92 614.50,234.92 614.00,234.92 613.50,234.92 613.00,234.92 612.50,234.92 612.00,234.92 611.50,234.92 611.00,234.92 610.50,234.92 610.00,234.92 609.50,234.92 609.00,234.92 608.50,234.92 608.00,234.92 607.50,234.91 607.00,234.91 606.50,234.91 606.00,234.91 605.50,234.91 605.00,234.91 604.50,234.91 604.00,234.91 603.50,234.91 603.00,234.91 602.50,234.91 602.00,234.91 601.50,234.91 601.00,234.91 600.50,234.91 600.00,234.91 599.50,234.91 599.00,234.91 598.50,234.91 598.00,234.91 597.50,234.91 597.00,234.91 596.50,234.91 596.00,234.91 595.50,234.90 595.00,234.90 594.50,234.90 594.00,234.90 593.50,234.90 593.00,234.90 592.50,234.90 592.00,234.90 591.50,234.90 591.00,234.90 590.50,234.90 590.00,234.90 589.50,234.90 589.00,234.90 588.50,234.90 588.00,234.90 587.50,234.90 587.00,234.90 586.50,234.90 586.00,234.90 585.50,234.90 585.00,234.90 584.50,234.90 584.00,234.90 583.50,234.90 583.00,234.89 582.50,234.89 582.00,234.89 581.50,234.89 581.00,234.89 580.50,234.89 580.00,234.89 579.50,234.89 579.00,234.89 578.50,234.89 578.00,234.89 577.50,234.89 577.00,234.89 576.50,234.89 576.00,234.89 575.50,234.89 575.00,234.89 574.50,234.89 574.00,234.89 573.50,234.89 573.00,234.89 572.50,234.89 572.00,234.89 571.50,234.89 571.00,234.89 570.50,234.88 570.00,234.88 569.50,234.88 569.00,234.88 568.50,234.88 568.00,234.88 567.50,234.88 567.00,234.88 566.50,234.88 566.00,234.88 565.50,234.88 565.00,234.88 564.50,234.88 564.00,234.88 563.50,234.88 563.00,234.88 562.50,234.88 562.00,234.88 561.50,234.88 561.00,234.88 560.50,234.88 560.00,234.88 559.50,234.88 559.00,234.88 558.50,234.87 558.00,234.87 557.50,234.87 557.00,234.87 556.50,234.87 556.00,234.87 555.50,234.87 555.00,234.87 554.50,234.87 554.00,234.87 553.50,234.87 553.00,234.87 552.50,234.87 552.00,234.87 551.50,234.87 551.00,234.87 550.50,234.87 550.00,234.87 549.50,234.87 549.00,234.87 548.50,234.87 548.00,234.87 547.50,234.87 547.00,234.87 546.50,234.87 546.00,234.86 545.50,234.86 545.00,234.86 544.50,234.86 544.00,234.86 543.50,234.86 543.00,234.86 542.50,234.86 542.00,234.86 541.50,234.86 541.00,234.86 540.50,234.86 540.00,234.86 539.50,234.86 539.00,234.86 538.50,234.86 538.00,234.86 537.50,234.86 537.00,234.86 536.50,234.86 536.00,234.86 535.50,234.86 535.00,234.86 534.50,234.86 534.00,234.85 533.50,234.85 533.00,234.85 532.50,234.85 532.00,234.85 531.50,234.85 531.00,234.85 530.50,234.85 530.00,234.85 529.50,234.85 529.00,234.85 528.50,234.85 528.00,234.85 527.50,234.85 527.00,234.85 526.50,234.85 526.00,234.85 525.50,234.85 525.00,234.85 524.50,234.85 524.00,234.85 523.50,234.85 523.00,234.85 522.50,234.85 522.00,234.85 521.50,234.84 521.00,234.84 520.50,234.84 520.00,234.84 519.50,234.84 519.00,234.84 518.50,234.84 518.00,234.84 517.50,234.84 517.00,234.84 516.50,234.84 516.00,234.84 515.50,234.84 515.00,234.84 514.50,234.84 514.00,234.84 513.50,234.84 513.00,234.84 512.50,234.84 512.00,234.84 511.50,234.84 511.00,234.84 510.50,234.84 510.00,234.84 509.50,234.83 509.00,234.83 508.50,234.83 508.00,234.83 507.50,234.83 507.00,234.83 506.50,234.83 506.00,234.83 505.50,234.83 505.00,234.83 504.50,234.83 504.00,234.83 503.50,234.83 503.00,234.83 502.50,234.83 502.00,234.83 501.50,234.83 501.00,234.83 500.50,234.83 500.00,234.83 499.50,234.83 499.00,234.83 498.50,234.83 498.00,234.83 497.50,234.83 497.00,234.82 496.50,234.82 496.00,234.82 495.50,234.82 495.00,234.82 494.50,234.82 494.00,234.82 493.50,234.82 493.00,234.82 492.50,234.82 492.00,234.82 491.50,234.82 491.00,234.82 490.50,234.82 490.00,234.82 489.50,234.82 489.00,234.82 488.50,234.82 488.00,234.82 487.50,234.82 487.00,234.82 486.50,234.82 486.00,234.82 485.50,234.82 485.00,234.81 484.50,234.81 484.00,234.81 483.50,234.81 483.00,234.81 482.50,234.81 482.00,234.81 481.50,234.81 481.00,234.81 480.50,234.81 480.00,234.81 479.50,234.81 479.00,234.81 478.50,234.81 478.00,234.81 477.50,234.81 477.00,234.81 476.50,234.81 476.00,234.81 475.50,234.81 475.00,234.81 474.50,234.81 474.00,234.81 473.50,234.81 473.00,234.81 472.50,234.80 472.00,234.80 471.50,234.80 471.00,234.80 470.50,234.80 470.00,234.80 469.50,234.80 469.00,234.80 468.50,234.80 468.00,234.80 467.50,234.80 467.00,234.80 466.50,234.80 466.00,234.80 465.50,234.80 465.00,234.80 464.50,234.80 464.00,234.80 463.50,234.80 463.00,234.80 462.50,234.80 462.00,234.80 461.50,234.80 461.00,234.80 460.50,234.79 460.00,234.79 459.50,234.79 459.00,234.79 458.50,234.79 458.00,234.79 457.50,234.79 457.00,234.79 456.50,234.79 456.00,234.79 455.50,234.79 455.00,234.79 454.50,234.79 454.00,234.79 453.50,234.79 453.00,234.79 452.50,234.79 452.00,234.79 451.50,234.79 451.00,234.79 450.50,234.79 450.00,234.79 449.50,234.79 449.00,234.79 448.50,234.79 448.00,234.78 447.50,234.78 447.00,234.78 446.50,234.78 446.00,234.78 445.50,234.78 445.00,234.78 444.50,234.78 444.00,234.78 443.50,234.78 443.00,234.78 442.50,234.78 442.00,234.78 441.50,234.78 441.00,234.78 440.50,234.78 440.00,234.78 439.50,234.78 439.00,234.78 438.50,234.78 438.00,234.78 437.50,234.78 437.00,234.78 436.50,234.78 436.00,234.77 435.50,234.77 435.00,234.77 434.50,234.77 434.00,234.77 433.50,234.77 433.00,234.77 432.50,234.77 432.00,234.77 431.50,234.77 431.00,234.77 430.50,234.77 430.00,234.77 429.50,234.77 429.00,234.77 428.50,234.77 428.00,234.77 427.50,234.77 427.00,234.77 426.50,234.77 426.00,234.77 425.50,234.77 425.00,234.77 424.50,234.77 424.00,234.77 423.50,234.76 423.00,234.76 422.50,234.76 422.00,234.76 421.50,234.76 421.00,234.76 420.50,234.76 420.00,234.76 419.50,234.76 419.00,234.76 418.50,234.76 418.00,234.76 417.50,234.76 417.00,234.76 416.50,234.76 416.00,234.76 415.50,234.76 415.00,234.76 414.50,234.76 414.00,234.76 413.50,234.76 413.00,234.76 412.50,234.76 412.00,234.76 411.50,234.75 411.00,234.75 410.50,234.75 410.00,234.75 409.50,234.75 409.00,234.75 408.50,234.75 408.00,234.75 407.50,234.75 407.00,234.75 406.50,234.75 406.00,234.75 405.50,234.75 405.00,234.75 404.50,234.75 404.00,234.75 403.50,234.75 403.00,234.75 402.50,234.75 402.00,234.75 401.50,234.75 401.00,234.75 400.50,234.75 400.00,234.75 399.50,234.75 399.00,234.74 398.50,234.74 398.00,234.74 397.50,234.74 397.00,234.74 396.50,234.74 396.00,234.74 395.50,234.74 395.00,234.74 394.50,234.74 394.00,234.74 393.50,234.74 393.00,234.74 392.50,234.74 392.00,234.74 391.50,234.74 391.00,234.74 390.50,234.74 390.00,234.74 389.50,234.74 389.00,234.74 388.50,234.74 388.00,234.74 387.50,234.74 387.00,234.73 386.50,234.73 386.00,234.73 385.50,234.73 385.00,234.73 384.50,234.73 384.00,234.73 383.50,234.73 383.00,234.73 382.50,234.73 382.00,234.73 381.50,234.73 381.00,234.73 380.50,234.73 380.00,234.73 379.50,234.73 379.00,234.73 378.50,234.73 378.00,234.73 377.50,234.73 377.00,234.73 376.50,234.73 376.00,234.73 375.50,234.73 375.00,234.73 374.50,234.72 374.00,234.72 373.50,234.72 373.00,234.72 372.50,234.72 372.00,234.72 371.50,234.72 371.00,234.72 370.50,234.72 370.00,234.72 369.50,234.72 369.00,234.72 368.50,234.72 368.00,234.72 367.50,234.72 367.00,234.72 366.50,234.72 366.00,234.72 365.50,234.72 365.00,234.72 364.50,234.72 364.00,234.72 363.50,234.72 363.00,234.72 362.50,234.71 362.00,234.71 361.50,234.71 361.00,234.71 360.50,234.71 360.00,234.71 359.50,234.71 359.00,234.71 358.50,234.71 358.00,234.71 357.50,234.71 357.00,234.71 356.50,234.71 356.00,234.71 355.50,234.71 355.00,234.71 354.50,234.71 354.00,234.71 353.50,234.71 353.00,234.71 352.50,234.71 352.00,234.71 351.50,234.71 351.00,234.71 350.50,234.71 350.00,234.70 349.50,234.70 349.00,234.70 348.50,234.70 348.00,234.70 347.50,234.70 347.00,234.70 346.50,234.70 346.00,234.70 345.50,234.70 345.00,234.70 344.50,234.70 344.00,234.70 343.50,234.70 343.00,234.70 342.50,234.70 342.00,234.70 341.50,234.70 341.00,234.70 340.50,234.70 340.00,234.70 339.50,234.70 339.00,234.70 338.50,234.70 338.00,234.70 337.50,234.69 337.00,234.69 336.50,234.69 336.00,234.69 335.50,234.69 335.00,234.69 334.50,234.69 334.00,234.69 333.50,234.69 333.00,234.69 332.50,234.69 332.00,234.69 331.50,234.69 331.00,234.69 330.50,234.69 330.00,234.69 329.50,234.69 329.00,234.69 328.50,234.69 328.00,234.69 327.50,234.69 327.00,234.69 326.50,234.69 326.00,234.69 325.50,234.68 325.00,234.68 324.50,234.68 324.00,234.68 323.50,234.68 323.00,234.68 322.50,234.68 322.00,234.68 321.50,234.68 321.00,234.68 320.50,234.68 320.00,234.68 319.50,234.68 319.00,234.68 318.50,234.68 318.00,234.68 317.50,234.68 317.00,234.68 316.50,234.68 316.00,234.68 315.50,234.68 315.00,234.68 314.50,234.68 314.00,234.68 313.50,234.68 313.00,234.67 312.50,234.67 312.00,234.67 311.50,234.67 311.00,234.67 310.50,234.67 310.00,234.67 309.50,234.67 309.00,234.67 308.50,234.67 308.00,234.67 307.50,234.67 307.00,234.67 306.50,234.67 306.00,234.67 305.50,234.67 305.00,234.67 304.50,234.67 304.00,234.67 303.50,234.67 303.00,234.67 302.50,234.67 302.00,234.67 301.50,234.67 301.00,234.66 300.50,234.66 300.00,234.66 299.50,234.66 299.00,234.66 298.50,234.66 298.00,234.66 297.50,234.66 297.00,234.66 296.50,234.66 296.00,234.66 295.50,234.66 295.00,234.66 294.50,234.66 294.00,234.66 293.50,234.66 293.00,234.66 292.50,234.66 292.00,234.66 291.50,234.66 291.00,234.66 290.50,234.66 290.00,234.66 289.50,234.66 289.00,234.66 288.50,234.65 288.00,234.65 287.50,234.65 287.00,234.65 286.50,234.65 286.00,234.65 285.50,234.65 285.00,234.65 284.50,234.65 284.00,234.65 283.50,234.65 283.00,234.65 282.50,234.65 282.00,234.65 281.50,234.65 281.00,234.65 280.50,234.65 280.00,234.65 279.50,234.65 279.00,234.65 278.50,234.65 278.00,234.65 277.50,234.65 277.00,234.65 276.50,234.64 276.00,234.64 275.50,234.64 275.00,234.64 274.50,234.64 274.00,234.64 273.50,234.64 273.00,234.64 272.50,234.64 272.00,234.64 271.50,234.64 271.00,234.64 270.50,234.64 270.00,234.64 269.50,234.64 269.00,234.64 268.50,234.64 268.00,234.64 267.50,234.64 267.00,234.64 266.50,234.64 266.00,234.64 265.50,234.64 265.00,234.64 264.50,234.64 264.00,234.63 263.50,234.63 263.00,234.63 262.50,234.63 262.00,234.63 261.50,234.63 261.00,234.63 260.50,234.63 260.00,234.63 259.50,234.63 259.00,234.63 258.50,234.63 258.00,234.63 257.50,234.63 257.00,234.63 256.50,234.63 256.00,234.63 255.50,234.63 255.00,234.63 254.50,234.63 254.00,234.63 253.50,234.63 253.00,234.63 252.50,234.63 252.00,234.62 251.50,234.62 251.00,234.62 250.50,234.62 250.00,234.62 249.50,234.62 249.00,234.62 248.50,234.62 248.00,234.62 247.50,234.62 247.00,234.62 246.50,234.62 246.00,234.62 245.50,234.62 245.00,234.62 244.50,234.62 244.00,234.62 243.50,234.62 243.00,234.62 242.50,234.62 242.00,234.62 241.50,234.62 241.00,234.62 240.50,234.62 240.00,234.62 239.50,234.61 239.00,234.61 238.50,234.61 238.00,234.61 237.50,234.61 237.00,234.61 236.50,234.61 236.00,234.61 235.50,234.61 235.00,234.61 234.50,234.61 234.00,234.61 233.50,234.61 233.00,234.61 232.50,234.61 232.00,234.61 231.50,234.61 231.00,234.61 230.50,234.61 230.00,234.61 229.50,234.61 229.00,234.61 228.50,234.61 228.00,234.61 227.50,234.60 227.00,234.60 226.50,234.60 226.00,234.60 225.50,234.60 225.00,234.60 224.50,234.60 224.00,234.60 223.50,234.60 223.00,234.60 222.50,234.60 222.00,234.60 221.50,234.29 221.00,234.06 220.50,234.08 220.00,234.27 219.50,234.46 219.00,234.65 218.50,234.84 218.00,235.03 217.50,234.84 217.00,234.61 216.50,234.38 216.00,234.15 215.50,233.92 215.00,233.77 214.50,233.96 214.00,234.15 213.50,234.34 213.00,234.53 212.50,234.72 212.00,234.70 211.50,234.46 211.00,234.23 210.50,234.00 210.00,233.77 209.50,233.54 209.00,233.64 208.50,233.82 208.00,234.01 207.50,234.19 207.00,234.38 206.50,234.52 206.00,234.29 205.50,234.05 205.00,233.82 204.50,233.58 204.00,233.34 203.50,233.28 203.00,233.46 202.50,233.65 202.00,233.83 201.50,234.02 201.00,234.20 200.50,234.09 200.00,233.86 199.50,233.62 199.00,233.39 198.50,233.15 198.00,232.91 197.50,233.10 197.00,233.29 196.50,233.47 196.00,233.66 195.50,233.84 195.00,233.90 194.50,233.67 194.00,233.43 193.50,233.20 193.00,232.96 192.50,232.72 192.00,232.74 191.50,232.93 191.00,233.11 190.50,233.30 190.00,233.48 189.50,233.67 189.00,233.47 188.50,233.23 188.00,232.99 187.50,232.75 187.00,232.50 186.50,232.35 186.00,232.53 185.50,232.71 185.00,232.89 184.50,233.07 184.00,233.25 183.50,233.22 183.00,232.98 182.50,232.74 182.00,232.50 181.50,232.26 181.00,232.01 180.50,232.11 180.00,232.29 179.50,232.46 179.00,232.63 178.50,232.79 178.00,232.92 177.50,232.66 177.00,232.40 176.50,232.15 176.00,231.89 175.50,231.64 175.00,231.55 174.50,231.71 174.00,231.88 173.50,232.04 173.00,232.21 172.50,232.37 172.00,232.24 171.50,231.99 171.00,231.73 170.50,231.48 170.00,231.22 169.50,230.96 169.00,231.12 168.50,231.28 168.00,231.44 167.50,231.60 167.00,231.76 166.50,231.80 166.00,231.54 165.50,231.28 165.00,231.02 164.50,230.75 164.00,230.49 163.50,230.49 163.00,230.65 162.50,230.81 162.00,230.97 161.50,231.13 161.00,231.29 160.50,231.07 160.00,230.81 159.50,230.55 159.00,230.29 158.50,230.03 158.00,229.85 157.50,230.01 157.00,230.17 156.50,230.33 156.00,230.49 155.50,230.65 155.00,230.60 154.50,230.34 154.00,230.08 153.50,229.82 153.00,229.56 152.50,229.29 152.00,229.37 151.50,229.53 151.00,229.69 150.50,229.85 150.00,230.01 149.50,230.14 149.00,229.90 148.50,229.65 148.00,229.41 147.50,229.16 147.00,228.91 146.50,228.84 146.00,229.01 145.50,229.19 145.00,229.36 144.50,229.54 144.00,229.71 143.50,229.59 143.00,229.35 142.50,229.10 142.00,228.86 141.50,228.61 141.00,228.36 140.50,228.52 140.00,228.69 139.50,228.85 139.00,229.02 138.50,229.19 138.00,229.23 137.50,228.97 137.00,228.72 136.50,228.46 136.00,228.21 135.50,227.95 135.00,227.95 134.50,228.12 134.00,228.28 133.50,228.44 133.00,228.56 132.50,228.68 132.00,228.43 131.50,228.13 131.00,227.83 130.50,227.53 130.00,227.23 129.50,227.02 129.00,227.14 128.50,227.26 128.00,227.38 127.50,227.50 127.00,227.63 126.50,227.54 126.00,227.24 125.50,226.92 125.00,226.59 124.50,226.25 124.00,225.92 123.50,225.92 123.00,226.00 122.50,226.09 122.00,226.17 121.50,226.26 121.00,226.30 120.50,225.97 120.00,225.63 119.50,225.30 119.00,224.96 118.50,224.63 118.00,224.46 117.50,224.52 117.00,224.56 116.50,224.59 116.00,224.62 115.50,224.66 115.00,224.40 114.50,224.01 114.00,223.62 113.50,223.23 113.00,222.84 112.50,222.46 112.00,222.49 111.50,222.52 111.00,222.56 110.50,222.59 110.00,222.62 109.50,222.52 109.00,222.11 108.50,221.70 108.00,221.29 107.50,220.87 107.00,220.46 106.50,220.31 106.00,220.32 105.50,220.33 105.00,220.34 104.50,220.35 104.00,220.36 103.50,219.99 103.00,219.58 102.50,219.17 102.00,218.76 101.50,218.32 101.00,217.95 100.50,217.91 100.00,217.87 99.50,217.84 99.00,217.80 98.50,217.77 98.00,217.52 97.50,217.06 97.00,216.60 96.50,216.15 96.00,215.69 95.50,215.23 95.00,215.11 94.50,215.08 94.00,215.04 93.50,215.02 93.00,215.00 92.50,214.93 92.00,214.49 91.50,214.05 91.00,213.61 90.50,213.17 90.00,212.73 89.50,212.60 89.00,212.72 88.50,212.84 88.00,212.97 87.50,213.09 87.00,213.21 86.50,213.04 86.00,212.50 85.50,212.36 85.00,212.21 84.50,212.07 84.00,211.92 83.50,211.78 83.00,211.63 82.50,211.49 82.00,211.34 81.50,211.20" fill="#0000ff" stroke="#0000ff" stroke-width="0.6"/></g>
<polyline points="81.50,304.50 712.30,304.50 889.40,374.20 981.00,374.20" fill="none" stroke="#e63a52" stroke-width="2.1" stroke-linejoin="round"/>
<polyline points="82,463.5 82,434.5 82.00,434.50 82.50,434.56 83.00,434.62 83.50,434.68 84.00,434.73 84.50,434.79 85.00,434.85 85.50,434.91 86.00,434.97 86.50,435.02 87.00,435.08 87.50,435.14 88.00,435.20 88.50,435.04 89.00,435.86 89.50,436.66 90.00,437.30 90.50,437.68 91.00,437.80 91.50,437.68 92.00,437.44 92.50,437.33 93.00,437.37 93.50,437.65 94.00,438.21 94.50,439.01 95.00,439.93 95.50,440.85 96.00,441.62 96.50,442.15 97.00,442.40 97.50,442.42 98.00,442.29 98.50,442.27 99.00,442.38 99.50,442.73 100.00,443.35 100.50,444.22 101.00,445.23 101.50,446.25 102.00,447.13 102.50,447.78 103.00,448.15 103.50,448.28 104.00,448.25 104.50,448.23 105.00,448.36 105.50,448.72 106.00,449.35 106.50,450.24 107.00,451.27 107.50,452.33 108.00,453.27 108.50,453.98 109.00,454.41 109.50,454.60 110.00,454.58 110.50,454.51 111.00,454.55 111.50,454.81 112.00,455.35 112.50,456.14 113.00,457.10 113.50,458.10 114.00,458.98 114.50,459.65 115.00,460.05 115.50,460.18 116.00,460.11 116.50,459.86 117.00,459.71 117.50,459.78 118.00,460.12 118.50,460.71 119.00,461.49 119.50,462.31 120.00,463.04 120.50,463.56 121.00,463.81 121.50,463.79 122.00,463.60 122.50,463.40 123.00,463.32 123.50,463.45 124.00,463.85 124.50,464.51 125.00,465.36 125.50,466.28 126.00,467.11 126.50,467.74 127.00,468.11 127.50,468.21 128.00,468.11 128.50,467.97 129.00,467.92 129.50,468.07 130.00,468.48 130.50,469.16 131.00,470.03 131.50,470.99 132.00,471.88 132.50,472.57 133.00,472.99 133.50,473.09 134.00,472.99 134.50,472.80 135.00,472.67 135.50,472.72 136.00,473.04 136.50,473.63 137.00,474.43 137.50,475.32 138.00,476.15 138.50,476.81 139.00,477.20 139.50,477.33 140.00,477.24 140.50,477.05 141.00,476.89 141.50,476.82 142.00,477.00 142.50,477.47 143.00,478.14 143.50,478.92 144.00,479.67 144.50,480.25 145.00,480.57 145.50,480.61 146.00,480.44 146.50,480.15 147.00,479.89 147.50,479.80 148.00,479.96 148.50,480.39 149.00,481.04 149.50,481.77 150.00,482.47 150.50,483.03 151.00,483.33 151.50,483.35 152.00,483.15 152.50,482.82 153.00,482.51 153.50,482.35 154.00,482.43 154.50,482.79 155.00,483.39 155.50,484.11 156.00,484.83 156.50,485.40 157.00,485.72 157.50,485.75 158.00,485.54 158.50,485.20 159.00,484.85 159.50,484.65 160.00,484.68 160.50,485.00 161.00,485.55 161.50,486.24 162.00,486.95 162.50,487.51 163.00,487.85 163.50,487.90 164.00,487.71 164.50,487.38 165.00,487.03 165.50,486.80 166.00,486.81 166.50,487.09 167.00,487.62 167.50,488.30 168.00,489.01 168.50,489.59 169.00,489.95 169.50,490.03 170.00,489.86 170.50,489.53 171.00,489.18 171.50,488.93 172.00,488.91 172.50,489.17 173.00,489.62 173.50,490.21 174.00,490.83 174.50,491.35 175.00,491.65 175.50,491.67 176.00,491.44 176.50,491.03 177.00,490.58 177.50,490.24 178.00,490.10 178.50,490.24 179.00,490.64 179.50,491.22 180.00,491.85 180.50,492.38 181.00,492.71 181.50,492.76 182.00,492.56 182.50,492.17 183.00,491.73 183.50,491.37 184.00,491.22 184.50,491.34 185.00,491.72 185.50,492.29 186.00,492.93 186.50,493.48 187.00,493.83 187.50,493.92 188.00,493.74 188.50,493.36 189.00,492.92 189.50,492.55 190.00,492.37 190.50,492.46 191.00,492.82 191.50,493.37 192.00,494.00 192.50,494.57 193.00,494.95 193.50,495.06 194.00,494.90 194.50,494.54 195.00,494.10 195.50,493.71 196.00,493.51 196.50,493.57 197.00,493.87 197.50,494.37 198.00,494.97 198.50,495.51 199.00,495.87 199.50,495.98 200.00,495.81 200.50,495.42 201.00,494.94 201.50,494.51 202.00,494.25 202.50,494.25 203.00,494.52 203.50,495.00 204.00,495.60 204.50,496.15 205.00,496.53 205.50,496.65 206.00,496.50 206.50,496.12 207.00,495.64 207.50,495.19 208.00,494.89 208.50,494.85 209.00,495.09 209.50,495.55 210.00,496.05 210.50,496.10 211.00,496.15 211.50,496.20 212.00,496.24 212.50,496.27 213.00,496.29 213.50,496.33 214.00,496.39 214.50,496.47 215.00,496.54 215.50,496.62 216.00,496.70 216.50,496.78 217.00,496.85 217.50,496.92 218.00,496.99 218.50,497.04 219.00,497.08 219.50,497.12 220.00,497.14 220.50,497.14 221.00,497.14 221.50,497.12 222.00,497.09 222.50,497.05 223.00,497.11 223.50,497.24 224.00,497.37 224.50,497.50 225.00,497.63 225.50,497.75 226.00,497.86 226.50,497.96 227.00,498.04 227.50,498.10 228.00,498.15 228.50,498.17 229.00,498.17 229.50,498.14 230.00,498.09 230.50,498.01 231.00,497.92 231.50,497.81 232.00,497.70 232.50,497.81 233.00,497.99 233.50,498.16 234.00,498.33 234.50,498.49 235.00,498.64 235.50,498.76 236.00,498.86 236.50,498.94 237.00,498.99 237.50,499.00 238.00,498.99 238.50,498.94 239.00,498.87 239.50,498.76 240.00,498.63 240.50,498.48 241.00,498.31 241.50,498.13 242.00,498.36 242.50,498.60 243.00,498.83 243.50,499.05 244.00,499.26 244.50,499.44 245.00,499.59 245.50,499.70 246.00,499.78 246.50,499.82 247.00,499.82 247.50,499.78 248.00,499.70 248.50,499.57 249.00,499.42 249.50,499.23 250.00,499.01 250.50,498.79 251.00,498.66 251.50,498.96 252.00,499.25 252.50,499.53 253.00,499.78 253.50,500.00 254.00,500.18 254.50,500.32 255.00,500.41 255.50,500.45 256.00,500.46 256.50,500.42 257.00,500.33 257.50,500.21 258.00,500.05 258.50,499.86 259.00,499.64 259.50,499.41 260.00,499.16 260.50,499.12 261.00,499.40 261.50,499.67 262.00,499.93 262.50,500.15 263.00,500.35 263.50,500.52 264.00,500.64 264.50,500.72 265.00,500.76 265.50,500.76 266.00,500.71 266.50,500.61 267.00,500.48 267.50,500.32 268.00,500.12 268.50,499.90 269.00,499.66 269.50,499.41 270.00,499.48 270.50,499.76 271.00,500.03 271.50,500.28 272.00,500.50 272.50,500.69 273.00,500.85 273.50,500.96 274.00,501.04 274.50,501.07 275.00,501.05 275.50,500.99 276.00,500.89 276.50,500.75 277.00,500.58 277.50,500.38 278.00,500.16 278.50,499.92 279.00,499.66 279.50,499.82 280.00,500.09 280.50,500.34 281.00,500.57 281.50,500.78 282.00,500.95 282.50,501.09 283.00,501.19 283.50,501.24 284.00,501.25 284.50,501.21 285.00,501.14 285.50,501.02 286.00,500.86 286.50,500.67 287.00,500.45 287.50,500.21 288.00,499.96 288.50,499.70 289.00,499.97 289.50,500.23 290.00,500.48 290.50,500.71 291.00,500.91 291.50,501.07 292.00,501.20 292.50,501.29 293.00,501.34 293.50,501.34 294.00,501.29 294.50,501.21 295.00,501.08 295.50,500.91 296.00,500.72 296.50,500.50 297.00,500.25 297.50,500.00 298.00,499.84 298.50,500.11 299.00,500.37 299.50,500.62 300.00,500.84 300.50,501.03 301.00,501.19 301.50,501.32 302.00,501.40 302.50,501.43 303.00,501.42 303.50,501.37 304.00,501.28 304.50,501.14 305.00,500.97 305.50,500.77 306.00,500.54 306.50,500.29 307.00,500.04 307.50,499.99 308.00,500.26 308.50,500.52 309.00,500.76 309.50,500.97 310.00,501.16 310.50,501.31 311.00,501.43 311.50,501.50 312.00,501.52 312.50,501.51 313.00,501.45 313.50,501.34 314.00,501.20 314.50,501.02 315.00,500.82 315.50,500.58 316.00,500.33 316.50,500.08 317.00,500.13 317.50,500.40 318.00,500.66 318.50,500.89 319.00,501.11 319.50,501.29 320.00,501.43 320.50,501.54 321.00,501.60 321.50,501.62 322.00,501.59 322.50,501.52 323.00,501.41 323.50,501.26 324.00,501.07 324.50,500.86 325.00,500.63 325.50,500.37 326.00,500.11 326.50,500.28 327.00,500.54 327.50,500.80 328.00,501.03 328.50,501.24 329.00,501.41 329.50,501.55 330.00,501.64 330.50,501.69 331.00,501.70 331.50,501.66 332.00,501.57 332.50,501.45 333.00,501.29 333.50,501.09 334.00,500.87 334.50,500.63 335.00,500.37 335.50,500.10 336.00,500.37 336.50,500.63 337.00,500.87 337.50,501.10 338.00,501.29 338.50,501.46 339.00,501.58 339.50,501.66 340.00,501.70 340.50,501.70 341.00,501.65 341.50,501.56 342.00,501.43 342.50,501.26 343.00,501.06 343.50,500.83 344.00,500.59 344.50,500.32 345.00,500.17 345.50,500.43 346.00,500.69 346.50,500.93 347.00,501.15 347.50,501.34 348.00,501.49 348.50,501.61 349.00,501.68 349.50,501.71 350.00,501.70 350.50,501.64 351.00,501.54 351.50,501.41 352.00,501.23 352.50,501.02 353.00,500.79 353.50,500.54 354.00,500.28 354.50,500.23 355.00,500.49 355.50,500.74 356.00,500.98 356.50,501.19 357.00,501.38 357.50,501.52 358.00,501.63 358.50,501.70 359.00,501.72 359.50,501.70 360.00,501.64 360.50,501.53 361.00,501.38 361.50,501.20 362.00,500.99 362.50,500.75 363.00,500.50 363.50,500.23 364.00,500.29 364.50,500.55 365.00,500.80 365.50,501.03 366.00,501.24 366.50,501.42 367.00,501.56 367.50,501.66 368.00,501.72 368.50,501.73 369.00,501.70 369.50,501.62 370.00,501.51 370.50,501.35 371.00,501.17 371.50,500.95 372.00,500.71 372.50,500.45 373.00,500.19 373.50,500.35 374.00,500.61 374.50,500.86 375.00,501.08 375.50,501.29 376.00,501.46 376.50,501.59 377.00,501.68 377.50,501.73 378.00,501.73 378.50,501.69 379.00,501.61 379.50,501.49 380.00,501.33 380.50,501.13 381.00,500.91 381.50,500.67 382.00,500.41 382.50,500.14 383.00,500.41 383.50,500.67 384.00,500.91 384.50,501.13 385.00,501.33 385.50,501.49 386.00,501.62 386.50,501.70 387.00,501.74 387.50,501.74 388.00,501.69 388.50,501.60 389.00,501.47 389.50,501.30 390.00,501.10 390.50,500.87 391.00,500.62 391.50,500.36 392.00,500.20 392.50,500.47 393.00,500.72 393.50,500.97 394.00,501.18 394.50,501.37 395.00,501.53 395.50,501.64 396.00,501.72 396.50,501.75 397.00,501.74 397.50,501.68 398.00,501.58 398.50,501.44 399.00,501.27 399.50,501.06 400.00,500.83 400.50,500.58 401.00,500.32 401.50,500.26 402.00,500.53 402.50,500.78 403.00,501.02 403.50,501.23 404.00,501.41 404.50,501.56 405.00,501.67 405.50,501.74 406.00,501.76 406.50,501.74 407.00,501.67 407.50,501.56 408.00,501.42 408.50,501.23 409.00,501.02 409.50,500.79 410.00,500.53 410.50,500.27 411.00,500.32 411.50,500.59 412.00,500.84 412.50,501.07 413.00,501.28 413.50,501.45 414.00,501.59 414.50,501.69 415.00,501.75 415.50,501.77 416.00,501.74 416.50,501.66 417.00,501.55 417.50,501.39 418.00,501.20 418.50,500.98 419.00,500.75 419.50,500.49 420.00,500.22 420.50,500.38 421.00,500.65 421.50,500.89 422.00,501.12 422.50,501.32 423.00,501.49 423.50,501.62 424.00,501.72 424.50,501.77 425.00,501.77 425.50,501.73 426.00,501.65 426.50,501.52 427.00,501.36 427.50,501.17 428.00,500.95 428.50,500.70 429.00,500.44 429.50,500.18 430.00,500.44 430.50,500.70 431.00,500.95 431.50,501.17 432.00,501.37 432.50,501.53 433.00,501.65 433.50,501.74 434.00,501.78 434.50,501.77 435.00,501.73 435.50,501.63 436.00,501.50 436.50,501.33 437.00,501.13 437.50,500.91 438.00,500.66 438.50,500.40 439.00,500.24 439.50,500.50 440.00,500.76 440.50,501.00 441.00,501.22 441.50,501.41 442.00,501.56 442.50,501.68 443.00,501.76 443.50,501.79 444.00,501.78 444.50,501.72 445.00,501.62 445.50,501.48 446.00,501.30 446.50,501.10 447.00,500.87 447.50,500.62 448.00,500.35 448.50,500.30 449.00,500.56 449.50,500.82 450.00,501.06 450.50,501.27 451.00,501.45 451.50,501.60 452.00,501.71 452.50,501.77 453.00,501.80 453.50,501.77 454.00,501.71 454.50,501.60 455.00,501.45 455.50,501.27 456.00,501.06 456.50,500.82 457.00,500.57 457.50,500.31 458.00,500.36 458.50,500.62 459.00,500.87 459.50,501.11 460.00,501.31 460.50,501.49 461.00,501.63 461.50,501.73 462.00,501.79 462.50,501.80 463.00,501.77 463.50,501.70 464.00,501.58 464.50,501.43 465.00,501.24 465.50,501.02 466.00,500.78 466.50,500.53 467.00,500.26 467.50,500.42 468.00,500.68 468.50,500.93 469.00,501.16 469.50,501.36 470.00,501.53 470.50,501.66 471.00,501.75 471.50,501.80 472.00,501.81 472.50,501.77 473.00,501.69 473.50,501.56 474.00,501.40 474.50,501.21 475.00,500.98 475.50,500.74 476.00,500.48 476.50,500.22 477.00,500.48 477.50,500.74 478.00,500.99 478.50,501.21 479.00,501.40 479.50,501.57 480.00,501.69 480.50,501.77 481.00,501.82 481.50,501.81 482.00,501.76 482.50,501.67 483.00,501.54 483.50,501.37 484.00,501.17 484.50,500.94 485.00,500.70 485.50,500.44 486.00,500.28 486.50,500.54 487.00,500.80 487.50,501.04 488.00,501.26 488.50,501.45 489.00,501.60 489.50,501.72 490.00,501.79 490.50,501.83 491.00,501.81 491.50,501.76 492.00,501.66 492.50,501.52 493.00,501.34 493.50,501.13 494.00,500.90 494.50,500.65 495.00,500.39 495.50,500.34 496.00,500.60 496.50,500.86 497.00,501.09 497.50,501.30 498.00,501.49 498.50,501.64 499.00,501.74 499.50,501.81 500.00,501.83 500.50,501.81 501.00,501.75 501.50,501.64 502.00,501.49 502.50,501.31 503.00,501.10 503.50,500.86 504.00,500.61 504.50,500.34 505.00,500.40 505.50,500.66 506.00,500.91 506.50,501.14 507.00,501.35 507.50,501.53 508.00,501.67 508.50,501.77 509.00,501.83 509.50,501.84 510.00,501.81 510.50,501.74 511.00,501.62 511.50,501.46 512.00,501.28 512.50,501.06 513.00,500.82 513.50,500.56 514.00,500.30 514.50,500.46 515.00,500.72 515.50,500.97 516.00,501.20 516.50,501.40 517.00,501.57 517.50,501.70 518.00,501.79 518.50,501.84 519.00,501.85 519.50,501.81 520.00,501.72 520.50,501.60 521.00,501.44 521.50,501.24 522.00,501.02 522.50,500.78 523.00,500.52 523.50,500.25 524.00,500.52 524.50,500.78 525.00,501.02 525.50,501.25 526.00,501.44 526.50,501.60 527.00,501.73 527.50,501.81 528.00,501.85 528.50,501.85 529.00,501.80 529.50,501.71 530.00,501.58 530.50,501.41 531.00,501.21 531.50,500.98 532.00,500.73 532.50,500.47 533.00,500.31 533.50,500.58 534.00,500.84 534.50,501.08 535.00,501.29 535.50,501.48 536.00,501.64 536.50,501.76 537.00,501.83 537.50,501.86 538.00,501.85 538.50,501.79 539.00,501.69 539.50,501.55 540.00,501.38 540.50,501.17 541.00,500.94 541.50,500.69 542.00,500.43 542.50,500.37 543.00,500.64 543.50,500.89 544.00,501.13 544.50,501.34 545.00,501.52 545.50,501.67 546.00,501.78 546.50,501.85 547.00,501.87 547.50,501.85 548.00,501.78 548.50,501.67 549.00,501.53 549.50,501.35 550.00,501.13 550.50,500.90 551.00,500.64 551.50,500.38 552.00,500.43 552.50,500.70 553.00,500.95 553.50,501.18 554.00,501.39 554.50,501.56 555.00,501.70 555.50,501.81 556.00,501.86 556.50,501.88 557.00,501.85 557.50,501.77 558.00,501.66 558.50,501.50 559.00,501.31 559.50,501.10 560.00,500.86 560.50,500.60 561.00,500.34 561.50,500.50 562.00,500.76 562.50,501.00 563.00,501.23 563.50,501.43 564.00,501.60 564.50,501.74 565.00,501.83 565.50,501.88 566.00,501.88 566.50,501.84 567.00,501.76 567.50,501.64 568.00,501.47 568.50,501.28 569.00,501.06 569.50,500.81 570.00,500.55 570.50,500.29 571.00,500.56 571.50,500.81 572.00,501.06 572.50,501.28 573.00,501.48 573.50,501.64 574.00,501.76 574.50,501.85 575.00,501.89 575.50,501.89 576.00,501.84 576.50,501.75 577.00,501.61 577.50,501.44 578.00,501.24 578.50,501.02 579.00,500.77 579.50,500.51 580.00,500.35 580.50,500.62 581.00,500.87 581.50,501.11 582.00,501.33 582.50,501.52 583.00,501.68 583.50,501.79 584.00,501.87 584.50,501.90 585.00,501.89 585.50,501.83 586.00,501.73 586.50,501.59 587.00,501.41 587.50,501.21 588.00,500.98 588.50,500.73 589.00,500.46 589.50,500.41 590.00,500.68 590.50,500.93 591.00,501.17 591.50,501.38 592.00,501.56 592.50,501.71 593.00,501.82 593.50,501.88 594.00,501.91 594.50,501.89 595.00,501.82 595.50,501.71 596.00,501.56 596.50,501.38 597.00,501.17 597.50,500.93 598.00,500.68 598.50,500.42 599.00,500.47 599.50,500.73 600.00,500.99 600.50,501.22 601.00,501.43 601.50,501.60 602.00,501.74 602.50,501.84 603.00,501.90 603.50,501.91 604.00,501.88 604.50,501.81 605.00,501.69 605.50,501.54 606.00,501.35 606.50,501.13 607.00,500.89 607.50,500.64 608.00,500.37 608.50,500.53 609.00,500.79 609.50,501.04 610.00,501.27 610.50,501.47 611.00,501.64 611.50,501.77 612.00,501.86 612.50,501.91 613.00,501.92 613.50,501.88 614.00,501.80 614.50,501.67 615.00,501.51 615.50,501.32 616.00,501.09 616.50,500.85 617.00,500.59 617.50,500.33 618.00,500.59 618.50,500.85 619.00,501.10 619.50,501.32 620.00,501.51 620.50,501.68 621.00,501.80 621.50,501.89 622.00,501.93 622.50,501.92 623.00,501.87 623.50,501.78 624.00,501.65 624.50,501.48 625.00,501.28 625.50,501.05 626.00,500.81 626.50,500.55 627.00,500.39 627.50,500.65 628.00,500.91 628.50,501.15 629.00,501.37 629.50,501.56 630.00,501.71 630.50,501.83 631.00,501.90 631.50,501.94 632.00,501.92 632.50,501.87 633.00,501.77 633.50,501.63 634.00,501.45 634.50,501.24 635.00,501.01 635.50,500.76 636.00,500.50 636.50,500.45 637.00,500.71 637.50,500.97 638.00,501.20 638.50,501.42 639.00,501.60 639.50,501.75 640.00,501.86 640.50,501.92 641.00,501.94 641.50,501.92 642.00,501.86 642.50,501.75 643.00,501.60 643.50,501.42 644.00,501.21 644.50,500.97 645.00,500.72 645.50,500.45 646.00,500.51 646.50,500.77 647.00,501.02 647.50,501.26 648.00,501.46 648.50,501.64 649.00,501.78 649.50,501.88 650.00,501.94 650.50,501.95 651.00,501.92 651.50,501.85 652.00,501.73 652.50,501.58 653.00,501.39 653.50,501.17 654.00,500.93 654.50,500.67 655.00,500.41 655.50,500.57 656.00,500.83 656.50,501.08 657.00,501.31 657.50,501.51 658.00,501.68 658.50,501.81 659.00,501.90 659.50,501.95 660.00,501.96 660.50,501.92 661.00,501.83 661.50,501.71 662.00,501.55 662.50,501.35 663.00,501.13 663.50,500.89 664.00,500.63 664.50,500.36 665.00,500.63 665.50,500.89 666.00,501.13 666.50,501.36 667.00,501.55 667.50,501.71 668.00,501.84 668.50,501.92 669.00,501.96 669.50,501.96 670.00,501.91 670.50,501.82 671.00,501.69 671.50,501.52 672.00,501.32 672.50,501.09 673.00,500.84 673.50,500.58 674.00,500.42 674.50,500.69 675.00,500.95 675.50,501.19 676.00,501.41 676.50,501.59 677.00,501.75 677.50,501.87 678.00,501.94 678.50,501.97 679.00,501.96 679.50,501.90 680.00,501.80 680.50,501.66 681.00,501.49 681.50,501.28 682.00,501.05 682.50,500.80 683.00,500.54 683.50,500.48 684.00,500.75 684.50,501.00 685.00,501.24 685.50,501.45 686.00,501.64 686.50,501.78 687.00,501.89 687.50,501.96 688.00,501.98 688.50,501.96 689.00,501.89 689.50,501.79 690.00,501.64 690.50,501.46 691.00,501.24 691.50,501.01 692.00,500.76 692.50,500.49 693.00,500.55 693.50,500.81 694.00,501.06 694.50,501.29 695.00,501.50 695.50,501.68 696.00,501.82 696.50,501.92 697.00,501.97 697.50,501.99 698.00,501.96 698.50,501.88 699.00,501.77 699.50,501.61 700.00,501.42 700.50,501.21 701.00,500.97 701.50,500.71 702.00,500.45 702.50,500.61 703.00,500.87 703.50,501.12 704.00,501.34 704.50,501.54 705.00,501.71 705.50,501.85 706.00,501.94 706.50,501.99 707.00,501.99 707.50,501.95 708.00,501.87 708.50,501.75 709.00,501.58 709.50,501.39 710.00,501.17 710.50,500.92 711.00,501.20 711.50,501.20 712.00,499.52" fill="none" stroke="#0000ff" stroke-width="2.7" stroke-linejoin="round"/>
<polyline points="711.00,501.20 711.50,501.20 712.00,499.52 712.50,497.85 713.00,496.18 713.50,495.26 714.00,495.43 714.50,494.84 715.00,494.16 715.50,494.16 716.00,494.94 716.50,495.90 717.00,496.25 717.50,495.77 718.00,495.04 718.50,494.86 719.00,495.52 719.50,496.51 720.00,496.98 720.50,496.44 721.00,495.49 721.50,494.94 722.00,495.25 722.50,496.03 723.00,496.49 723.50,496.10 724.00,495.17 724.50,494.49 725.00,494.62 725.50,495.38 726.00,495.96 726.50,495.75 727.00,494.86 727.50,494.06 728.00,494.03 728.50,494.71 729.00,495.39 729.50,495.36 730.00,494.57 730.50,493.72 731.00,493.53 731.50,494.15 732.00,494.93 732.50,495.10 733.00,494.45 733.50,493.54 734.00,493.19 734.50,493.67 735.00,494.49 735.50,494.82 736.00,494.31 736.50,493.39 737.00,492.87 737.50,493.21 738.00,494.03 738.50,494.51 739.00,494.16 739.50,493.25 740.00,492.60 740.50,492.77 741.00,493.55 741.50,494.16 742.00,493.98 742.50,493.13 743.00,492.36 743.50,492.36 744.00,493.07 744.50,493.78 745.00,493.78 745.50,493.01 746.00,492.16 746.50,491.98 747.00,492.59 747.50,493.37 748.00,493.54 748.50,492.89 749.00,491.98 749.50,491.63 750.00,492.12 750.50,492.95 751.00,493.29 751.50,492.78 752.00,491.87 752.50,491.36 753.00,491.70 753.50,492.53 754.00,493.02 754.50,492.68 755.00,491.78 755.50,491.13 756.00,491.31 756.50,492.10 757.00,492.72 757.50,492.55 758.00,491.70 758.50,490.94 759.00,490.94 759.50,491.66 760.00,492.39 760.50,492.39 761.00,491.63 761.50,490.78 762.00,490.61 762.50,491.23 763.00,491.61 763.50,491.27 764.00,490.10 764.50,489.10 765.00,489.26 765.50,490.26 766.00,491.59 766.50,492.44 767.00,492.00 767.50,492.20 768.00,492.40 768.50,492.60 769.00,492.80 769.50,493.00 770.00,493.20 770.50,493.40 771.00,493.60 771.50,493.80 772.00,494.00 772.50,493.75 773.00,493.50 773.50,493.25 774.00,493.00 774.50,492.75 775.00,492.50 775.50,492.25 776.00,492.00 776.50,491.50 777.00,491.00 777.50,490.50 778.00,490.00 778.50,489.50 779.00,489.00 779.50,488.50 780.00,488.00 780.50,487.53 781.00,487.05 781.50,486.58 782.00,486.10 782.50,485.63 783.00,485.15 783.50,484.68 784.00,484.21 784.50,483.73 785.00,483.26 785.50,482.78 786.00,482.31 786.50,481.83 787.00,481.36 787.50,480.88 788.00,480.44 788.50,480.03 789.00,479.63 789.50,479.22 790.00,478.81 790.50,478.41 791.00,478.00 791.50,477.60 792.00,477.19 792.50,476.79 793.00,476.38 793.50,475.97 794.00,475.57 794.50,475.16 795.00,474.76 795.50,474.37 796.00,473.98 796.50,473.59 797.00,473.19 797.50,472.80 798.00,472.41 798.50,472.01 799.00,471.62 799.50,471.23 800.00,470.84 800.50,470.44 801.00,470.05 801.50,469.66 802.00,469.33 802.50,469.04 803.00,468.75 803.50,468.46 804.00,468.17 804.50,467.88 805.00,467.59 805.50,467.30 806.00,467.01 806.50,466.72 807.00,466.43 807.50,466.14 808.00,465.85 808.50,465.56 809.00,465.29 809.50,465.04 810.00,464.78 810.50,464.52 811.00,464.27 811.50,464.01 812.00,463.75 812.50,463.49 813.00,463.24 813.50,462.98 814.00,462.72 814.50,462.47 815.00,462.21 815.50,461.95 816.00,461.69 816.50,461.43 817.00,461.17 817.50,460.91 818.00,460.65 818.50,460.39 819.00,460.13 819.50,459.87 820.00,459.60 820.50,459.34 821.00,459.08 821.50,458.82 822.00,458.56 822.50,458.30 823.00,458.06 823.50,457.81 824.00,457.57 824.50,457.33 825.00,457.09 825.50,456.84 826.00,456.60 826.50,456.36 827.00,456.11 827.50,455.87 828.00,455.63 828.50,455.39 829.00,455.14 829.50,454.90 830.00,454.67 830.50,454.44 831.00,454.21 831.50,453.99 832.00,453.76 832.50,453.53 833.00,453.30 833.50,453.07 834.00,452.84 834.50,452.61 835.00,452.39 835.50,452.16 836.00,451.93 836.50,451.70 837.00,451.48 837.50,451.25 838.00,451.03 838.50,450.80 839.00,450.58 839.50,450.35 840.00,450.13 840.50,449.90 841.00,449.68 841.50,449.45 842.00,449.23 842.50,449.00 843.00,448.78 843.50,448.56 844.00,448.36 844.50,448.16 845.00,447.96 845.50,447.76 846.00,447.56 846.50,447.36 847.00,447.16 847.50,446.96 848.00,446.76 848.50,446.56 849.00,446.36 849.50,446.16 850.00,445.96 850.50,445.76 851.00,445.57 851.50,445.38 852.00,445.18 852.50,444.99 853.00,444.80 853.50,444.60 854.00,444.41 854.50,444.22 855.00,444.03 855.50,443.83 856.00,443.64 856.50,443.45 857.00,443.25 857.50,443.06 858.00,442.88 858.50,442.70 859.00,442.52 859.50,442.34 860.00,442.16 860.50,441.98 861.00,441.80 861.50,441.61 862.00,441.43 862.50,441.25 863.00,441.07 863.50,440.89 864.00,440.71 864.50,440.53 865.00,440.36 865.50,440.19 866.00,440.02 866.50,439.85 867.00,439.67 867.50,439.50 868.00,439.33 868.50,439.16 869.00,438.99 869.50,438.82 870.00,438.65 870.50,438.47 871.00,438.30 871.50,438.14 872.00,437.98 872.50,437.82 873.00,437.66 873.50,437.50 874.00,437.34 874.50,437.18 875.00,437.02 875.50,436.86 876.00,436.70 876.50,436.54 877.00,436.38 877.50,436.22 878.00,436.06 878.50,435.91 879.00,435.77 879.50,435.63 880.00,435.49 880.50,435.34 881.00,435.20 881.50,435.06 882.00,434.91 882.50,434.77 883.00,434.63 883.50,434.49 884.00,434.34 884.50,434.20 885.00,434.06 885.50,433.92 886.00,433.80 886.50,433.67 887.00,433.54 887.50,433.41 888.00,433.29 888.50,433.16 889.00,433.03" fill="none" stroke="#0000ff" stroke-width="2.4" stroke-linejoin="round"/>
<polyline points="886.00,433.80 886.50,433.67 887.00,433.54 887.50,433.41 888.00,433.29 888.50,433.16 889.00,433.03 889.50,432.91 890.00,432.78 890.50,432.65 891.00,432.60 891.50,432.60 892.00,432.60 892.50,432.60 893.00,432.60 893.50,432.60 894.00,432.60 894.50,432.60 895.00,432.60 895.50,432.60 896.00,432.60 896.50,432.60 897.00,432.60 897.50,432.60 898.00,432.60 898.50,432.60 899.00,432.60 899.50,432.60 900.00,432.60 900.50,432.60 901.00,432.60 901.50,432.60 902.00,432.60 902.50,432.60 903.00,432.60 903.50,432.60 904.00,432.60 904.50,432.60 905.00,432.60 905.50,432.60 906.00,432.60 906.50,432.60 907.00,432.60 907.50,432.60 908.00,432.60 908.50,432.60 909.00,432.60 909.50,432.60 910.00,432.60 910.50,432.60 911.00,432.60 911.50,432.60 912.00,432.60 912.50,432.60 913.00,432.60 913.50,432.60 914.00,432.60 914.50,432.60 915.00,432.60 915.50,432.60 916.00,432.60 916.50,432.60 917.00,432.60 917.50,432.60 918.00,432.60 918.50,432.60 919.00,432.60 919.50,432.60 920.00,432.60 920.50,432.60 921.00,432.60 921.50,432.60 922.00,432.60 922.50,432.60 923.00,432.60 923.50,432.60 924.00,432.60 924.50,432.60 925.00,432.60 925.50,432.60 926.00,432.60 926.50,432.60 927.00,432.60 927.50,432.60 928.00,432.60 928.50,432.60 929.00,432.60 929.50,432.60 930.00,432.60 930.50,432.60 931.00,432.60 931.50,432.60 932.00,432.60 932.50,432.60 933.00,432.60 933.50,432.60 934.00,432.60 934.50,432.60 935.00,432.60 935.50,432.60 936.00,432.60 936.50,432.60 937.00,432.60 937.50,432.60 938.00,432.60 938.50,432.60 939.00,432.60 939.50,432.60 940.00,432.60 940.50,432.60 941.00,432.60 941.50,432.60 942.00,432.60 942.50,432.60 943.00,432.60 943.50,432.60 944.00,432.60 944.50,432.60 945.00,432.60 945.50,432.60 946.00,432.60 946.50,432.60 947.00,432.60 947.50,432.60 948.00,432.60 948.50,432.60 949.00,432.60 949.50,432.60 950.00,432.60 950.50,432.60 951.00,432.60 951.50,432.60 952.00,432.60 952.50,432.60 953.00,432.60 953.50,432.60 954.00,432.60 954.50,432.60 955.00,432.60 955.50,432.60 956.00,432.60 956.50,432.60 957.00,432.60 957.50,432.60 958.00,432.60 958.50,432.60 959.00,432.60 959.50,432.60 960.00,432.60 960.50,432.60 961.00,432.60 961.50,432.60 962.00,432.60 962.50,432.60 963.00,432.60 963.50,432.60 964.00,432.60 964.50,432.60 965.00,432.60 965.50,432.60 966.00,432.60 966.50,432.60 967.00,432.60 967.50,432.60 968.00,432.60 968.50,432.60 969.00,432.60 969.50,432.60 970.00,432.60 970.50,432.60 971.00,432.60 971.50,432.60 972.00,432.60 972.50,432.60 973.00,432.60 973.50,432.60 974.00,432.60 974.50,432.60 975.00,432.60 975.50,432.60 976.00,432.60 976.50,432.60 977.00,432.60 977.50,432.60 978.00,432.60 978.50,432.60 979.00,432.60 979.50,432.60 980.00,432.60 980.50,432.60 981.00,432.60" fill="none" stroke="#4a40ea" stroke-width="2.3" stroke-linejoin="round"/>
<polygon points="764.50,489.50 768.00,490.55 772.00,491.05 776.00,488.75 780.00,484.40 787.80,476.85 794.70,471.25 801.70,465.90 808.60,462.10 815.60,458.75 822.50,455.35 829.50,452.15 836.50,449.15 843.40,446.25 850.40,443.60 857.40,441.05 864.30,438.70 871.30,436.50 878.20,434.50 885.20,432.70 890.70,431.40 890.70,433.60 885.20,435.30 878.20,437.50 871.30,439.90 864.30,442.50 857.40,445.15 850.40,448.00 843.40,450.95 836.50,454.25 829.50,457.65 822.50,461.25 815.60,465.05 808.60,468.90 801.70,473.10 794.70,478.75 787.80,484.35 780.00,491.60 776.00,495.25 772.00,496.55 768.00,495.05 764.50,492.50" fill="#0000ff" stroke="#0000ff" stroke-width="0.4" stroke-linejoin="round"/>
<polygon points="81.60,569.50 712.30,569.50 721.80,570.90 737.70,573.30 753.60,574.90 766.30,574.90 768.00,574.40 774.00,574.40 777.40,577.60 801.30,580.40 817.20,582.80 833.00,585.20 849.00,586.80 864.70,588.50 872.00,590.00 886.00,591.30 888.00,592.00 888.00,593.60 886.00,594.20 872.00,595.60 864.70,596.60 849.00,598.70 833.00,601.10 817.20,603.50 801.30,605.00 779.00,607.50 774.00,610.60 753.60,610.60 737.70,612.20 721.80,614.60 712.30,616.00 81.60,616.00" fill="#fff" stroke="#fff" stroke-width="1.4"/>
<g filter="url(#soft3)"><polygon points="81.60,569.50 712.30,569.50 721.80,570.90 737.70,573.30 753.60,574.90 766.30,574.90 768.00,574.40 774.00,574.40 777.40,577.60 801.30,580.40 817.20,582.80 833.00,585.20 849.00,586.80 864.70,588.50 872.00,590.00 886.00,591.30 888.00,592.00 888.00,593.60 886.00,594.20 872.00,595.60 864.70,596.60 849.00,598.70 833.00,601.10 817.20,603.50 801.30,605.00 779.00,607.50 774.00,610.60 753.60,610.60 737.70,612.20 721.80,614.60 712.30,616.00 81.60,616.00" fill="#ff0000" stroke="#ff0000" stroke-width="0.6" stroke-linejoin="round"/></g>
<line x1="886" y1="592.9" x2="981" y2="592.9" stroke="#e63a52" stroke-width="1.9"/>
<line x1="848.1" y1="574" x2="848.1" y2="592.9" stroke="#ff0000" stroke-width="1.1" opacity="0.85"/>
<line x1="850.2" y1="574" x2="850.2" y2="592.9" stroke="#ff0000" stroke-width="1.1" opacity="0.85"/>
<line x1="852.2" y1="574" x2="852.2" y2="592.9" stroke="#ff0000" stroke-width="1.1" opacity="0.85"/>
<line x1="856.1" y1="574" x2="856.1" y2="592.9" stroke="#ff0000" stroke-width="1.1" opacity="0.85"/>
<line x1="857.8" y1="574" x2="857.8" y2="592.9" stroke="#ff0000" stroke-width="1.1" opacity="0.85"/>
<line x1="859.9" y1="574" x2="859.9" y2="592.9" stroke="#ff0000" stroke-width="1.1" opacity="0.85"/>
<line x1="864.0" y1="574" x2="864.0" y2="592.9" stroke="#ff0000" stroke-width="1.1" opacity="0.85"/>
<line x1="865.8" y1="574" x2="865.8" y2="592.9" stroke="#ff0000" stroke-width="1.1" opacity="0.85"/>
<line x1="867.9" y1="574" x2="867.9" y2="592.9" stroke="#ff0000" stroke-width="1.1" opacity="0.85"/>
<line x1="879.7" y1="574" x2="879.7" y2="592.9" stroke="#ff0000" stroke-width="1.1" opacity="0.85"/>
<line x1="881.1" y1="574" x2="881.1" y2="592.9" stroke="#ff0000" stroke-width="1.1" opacity="0.85"/>
<line x1="851.2" y1="592.9" x2="851.2" y2="611.2" stroke="#ff0000" stroke-width="1.1" opacity="0.85"/>
<line x1="852.6" y1="592.9" x2="852.6" y2="611.2" stroke="#ff0000" stroke-width="1.1" opacity="0.85"/>
<line x1="856.4" y1="592.9" x2="856.4" y2="611.2" stroke="#ff0000" stroke-width="1.1" opacity="0.85"/>
<line x1="858.5" y1="592.9" x2="858.5" y2="611.2" stroke="#ff0000" stroke-width="1.1" opacity="0.85"/>
<line x1="860.2" y1="592.9" x2="860.2" y2="611.2" stroke="#ff0000" stroke-width="1.1" opacity="0.85"/>
<line x1="870.0" y1="592.9" x2="870.0" y2="611.2" stroke="#ff0000" stroke-width="1.1" opacity="0.85"/>
<line x1="871.7" y1="592.9" x2="871.7" y2="611.2" stroke="#ff0000" stroke-width="1.1" opacity="0.85"/>
<line x1="873.8" y1="592.9" x2="873.8" y2="611.2" stroke="#ff0000" stroke-width="1.1" opacity="0.85"/>
<line x1="878.0" y1="592.9" x2="878.0" y2="611.2" stroke="#ff0000" stroke-width="1.1" opacity="0.85"/>
<line x1="879.3" y1="592.9" x2="879.3" y2="611.2" stroke="#ff0000" stroke-width="1.1" opacity="0.85"/>
<rect x="972" y="535.5" width="9.4" height="8" fill="#ff0000"/>
<text transform="translate(43.59,53.55) scale(1.15,1)" x="0" y="0" font-family="Liberation Sans, sans-serif" font-size="14.00" font-weight="normal" fill="#505050" letter-spacing="-0.09" stroke="#505050" stroke-width="0.6">20</text>
<text transform="translate(44.29,81.80) scale(1.15,1)" x="0" y="0" font-family="Liberation Sans, sans-serif" font-size="14.00" font-weight="normal" fill="#505050" letter-spacing="-0.52" stroke="#505050" stroke-width="0.6">10</text>
<text transform="translate(52.77,110.05) scale(1.15,1)" x="0" y="0" font-family="Liberation Sans, sans-serif" font-size="14.00" font-weight="normal" fill="#505050" letter-spacing="0.00" stroke="#505050" stroke-width="0.6">0</text>
<text transform="translate(34.20,181.35) scale(1.15,1)" x="0" y="0" font-family="Liberation Sans, sans-serif" font-size="14.00" font-weight="normal" fill="#505050" letter-spacing="0.24" stroke="#505050" stroke-width="0.6">200</text>
<text transform="translate(35.09,199.20) scale(1.15,1)" x="0" y="0" font-family="Liberation Sans, sans-serif" font-size="14.00" font-weight="normal" fill="#505050" letter-spacing="-0.15" stroke="#505050" stroke-width="0.6">100</text>
<text transform="translate(52.62,216.60) scale(1.15,1)" x="0" y="0" font-family="Liberation Sans, sans-serif" font-size="14.00" font-weight="normal" fill="#505050" letter-spacing="0.00" stroke="#505050" stroke-width="0.6">0</text>
<text transform="translate(28.99,234.05) scale(1.15,1)" x="0" y="0" font-family="Liberation Sans, sans-serif" font-size="14.00" font-weight="normal" fill="#505050" letter-spacing="0.06" stroke="#505050" stroke-width="0.6">-100</text>
<text transform="translate(29.29,251.70) scale(1.15,1)" x="0" y="0" font-family="Liberation Sans, sans-serif" font-size="14.00" font-weight="normal" fill="#505050" letter-spacing="0.00" stroke="#505050" stroke-width="0.6">-200</text>
<text transform="translate(26.00,322.60) scale(1.15,1)" x="0" y="0" font-family="Liberation Sans, sans-serif" font-size="14.00" font-weight="normal" fill="#505050" letter-spacing="-0.12" stroke="#505050" stroke-width="0.6">4000</text>
<text transform="translate(24.99,351.10) scale(1.15,1)" x="0" y="0" font-family="Liberation Sans, sans-serif" font-size="14.00" font-weight="normal" fill="#505050" letter-spacing="0.20" stroke="#505050" stroke-width="0.6">2000</text>
<text transform="translate(52.52,379.35) scale(1.15,1)" x="0" y="0" font-family="Liberation Sans, sans-serif" font-size="14.00" font-weight="normal" fill="#505050" letter-spacing="0.00" stroke="#505050" stroke-width="0.6">0</text>
<text transform="translate(34.39,437.35) scale(1.15,1)" x="0" y="0" font-family="Liberation Sans, sans-serif" font-size="14.00" font-weight="normal" fill="#505050" letter-spacing="0.11" stroke="#505050" stroke-width="0.6">800</text>
<text transform="translate(34.89,457.60) scale(1.15,1)" x="0" y="0" font-family="Liberation Sans, sans-serif" font-size="14.00" font-weight="normal" fill="#505050" letter-spacing="-0.11" stroke="#505050" stroke-width="0.6">790</text>
<text transform="translate(34.89,477.85) scale(1.15,1)" x="0" y="0" font-family="Liberation Sans, sans-serif" font-size="14.00" font-weight="normal" fill="#505050" letter-spacing="-0.11" stroke="#505050" stroke-width="0.6">780</text>
<text transform="translate(34.89,498.35) scale(1.15,1)" x="0" y="0" font-family="Liberation Sans, sans-serif" font-size="14.00" font-weight="normal" fill="#505050" letter-spacing="-0.11" stroke="#505050" stroke-width="0.6">770</text>
<text transform="translate(42.49,576.60) scale(1.15,1)" x="0" y="0" font-family="Liberation Sans, sans-serif" font-size="14.00" font-weight="normal" fill="#505050" letter-spacing="0.25" stroke="#505050" stroke-width="0.6">1K</text>
<text transform="translate(41.50,597.90) scale(1.15,1)" x="0" y="0" font-family="Liberation Sans, sans-serif" font-size="14.00" font-weight="normal" fill="#505050" letter-spacing="1.12" stroke="#505050" stroke-width="0.6">0K</text>
<text transform="translate(37.00,619.45) scale(1.15,1)" x="0" y="0" font-family="Liberation Sans, sans-serif" font-size="14.00" font-weight="normal" fill="#505050" letter-spacing="0.24" stroke="#505050" stroke-width="0.6">-1K</text>
<text transform="translate(75.87,653.30) scale(1.15,1)" x="0" y="0" font-family="Liberation Sans, sans-serif" font-size="14.00" font-weight="normal" fill="#505050" letter-spacing="0.00" stroke="#505050" stroke-width="0.6">0</text>
<text transform="translate(245.00,653.30) scale(1.15,1)" x="0" y="0" font-family="Liberation Sans, sans-serif" font-size="14.00" font-weight="normal" fill="#505050" letter-spacing="-0.29" stroke="#505050" stroke-width="0.6">0.01</text>
<text transform="translate(423.89,653.30) scale(1.15,1)" x="0" y="0" font-family="Liberation Sans, sans-serif" font-size="14.00" font-weight="normal" fill="#505050" letter-spacing="0.50" stroke="#505050" stroke-width="0.6">0.02</text>
<text transform="translate(605.20,653.30) scale(1.15,1)" x="0" y="0" font-family="Liberation Sans, sans-serif" font-size="14.00" font-weight="normal" fill="#505050" letter-spacing="0.27" stroke="#505050" stroke-width="0.6">0.03</text>
<text transform="translate(784.89,653.30) scale(1.15,1)" x="0" y="0" font-family="Liberation Sans, sans-serif" font-size="14.00" font-weight="normal" fill="#505050" letter-spacing="0.03" stroke="#505050" stroke-width="0.6">0.04</text>
<text transform="translate(949.00,653.30) scale(1.15,1)" x="0" y="0" font-family="Liberation Sans, sans-serif" font-size="14.00" font-weight="normal" fill="#505050" letter-spacing="0.21" stroke="#505050" stroke-width="0.6">0.05</text>
<text x="502.49" y="670.92" font-family="Liberation Sans, sans-serif" font-size="11.89" font-weight="normal" fill="#505050" textLength="58.88" lengthAdjust="spacingAndGlyphs" stroke="#505050" stroke-width="0.6">Time (s)</text>
<text x="80.21" y="27.20" font-family="Liberation Sans, sans-serif" font-size="12.71" font-weight="normal" fill="#e0404f" textLength="14.06" lengthAdjust="spacingAndGlyphs" stroke="#e0404f" stroke-width="0.45">Io</text>
<text x="80.17" y="155.30" font-family="Liberation Sans, sans-serif" font-size="10.93" font-weight="normal" fill="#4848e8" textLength="25.73" lengthAdjust="spacingAndGlyphs" stroke="#4848e8" stroke-width="0.45">ILlk</text>
<text x="81.10" y="283.80" font-family="Liberation Sans, sans-serif" font-size="12.71" font-weight="normal" fill="#e0404f" textLength="19.62" lengthAdjust="spacingAndGlyphs" stroke="#e0404f" stroke-width="0.45">Vo</text>
<text x="81.80" y="411.60" font-family="Liberation Sans, sans-serif" font-size="12.27" font-weight="normal" fill="#4848e8" textLength="24.53" lengthAdjust="spacingAndGlyphs" stroke="#4848e8" stroke-width="0.45">Vin</text>
<text x="81.10" y="539.60" font-family="Liberation Sans, sans-serif" font-size="12.86" font-weight="normal" fill="#e0404f" textLength="35.18" lengthAdjust="spacingAndGlyphs" stroke="#e0404f" stroke-width="0.45">Vac1</text>
</g>
<g filter="url(#soft2)"><rect x="0" y="700" width="1007" height="103" fill="#fff"/>
<text x="289.70" y="783.41" font-family="Liberation Serif, serif" font-size="36.44" font-weight="normal" fill="#000" textLength="11.33" lengthAdjust="spacingAndGlyphs" >(</text>
<text x="301.36" y="783.30" font-family="Liberation Serif, serif" font-size="37.57" font-weight="bold" fill="#000" textLength="21.03" lengthAdjust="spacingAndGlyphs" >b</text>
<text x="323.44" y="783.20" font-family="Liberation Serif, serif" font-size="37.49" font-weight="normal" fill="#000" textLength="10.18" lengthAdjust="spacingAndGlyphs" >)</text>
<text x="341.99" y="783.30" font-family="Liberation Serif, serif" font-size="36.28" font-weight="normal" fill="#000" textLength="73.84" lengthAdjust="spacingAndGlyphs" >Grid</text>
<text x="427.40" y="783.34" font-family="Liberation Serif, serif" font-size="37.62" font-weight="normal" fill="#000" textLength="112.86" lengthAdjust="spacingAndGlyphs" >voltage</text>
<text x="548.46" y="783.56" font-family="Liberation Serif, serif" font-size="36.63" font-weight="normal" fill="#000" textLength="92.51" lengthAdjust="spacingAndGlyphs" >drops</text>
<text x="647.42" y="783.30" font-family="Liberation Serif, serif" font-size="38.62" font-weight="normal" fill="#000" textLength="83.47" lengthAdjust="spacingAndGlyphs" >100%</text>
</g>
</svg>
</body></html>
